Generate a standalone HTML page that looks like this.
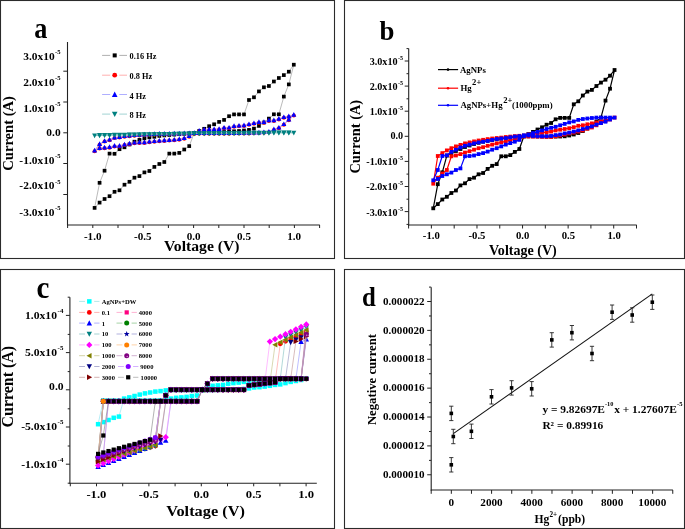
<!DOCTYPE html>
<html><head><meta charset="utf-8"><style>
html,body{margin:0;padding:0;background:#fff;width:685px;height:529px;overflow:hidden}
svg{display:block;filter:blur(0.35px)}
text{font-family:"Liberation Serif",serif;font-weight:bold}
</style></head><body>
<svg width="685" height="529" viewBox="0 0 685 529">
<rect width="685" height="529" fill="#fff"/>
<rect x="0.5" y="0.5" width="334" height="258" fill="none" stroke="#2b2b2b" stroke-width="1.1"/>
<line x1="67.5" y1="42" x2="67.5" y2="225.5" stroke="#222" stroke-width="1.1"/>
<line x1="67" y1="225" x2="319.8" y2="225" stroke="#222" stroke-width="1.1"/>
<line x1="63.3" y1="71.2" x2="67.5" y2="71.2" stroke="#222" stroke-width="1"/>
<line x1="63.3" y1="102" x2="67.5" y2="102" stroke="#222" stroke-width="1"/>
<line x1="63.3" y1="132.8" x2="67.5" y2="132.8" stroke="#222" stroke-width="1"/>
<line x1="63.3" y1="163.5" x2="67.5" y2="163.5" stroke="#222" stroke-width="1"/>
<line x1="63.3" y1="194.5" x2="67.5" y2="194.5" stroke="#222" stroke-width="1"/>
<line x1="67.6" y1="225" x2="67.6" y2="228" stroke="#222" stroke-width="1"/>
<line x1="92.8" y1="225" x2="92.8" y2="228" stroke="#222" stroke-width="1"/>
<line x1="118" y1="225" x2="118" y2="228" stroke="#222" stroke-width="1"/>
<line x1="143.2" y1="225" x2="143.2" y2="228" stroke="#222" stroke-width="1"/>
<line x1="168.4" y1="225" x2="168.4" y2="228" stroke="#222" stroke-width="1"/>
<line x1="193.6" y1="225" x2="193.6" y2="228" stroke="#222" stroke-width="1"/>
<line x1="218.8" y1="225" x2="218.8" y2="228" stroke="#222" stroke-width="1"/>
<line x1="244" y1="225" x2="244" y2="228" stroke="#222" stroke-width="1"/>
<line x1="269.2" y1="225" x2="269.2" y2="228" stroke="#222" stroke-width="1"/>
<line x1="294.4" y1="225" x2="294.4" y2="228" stroke="#222" stroke-width="1"/>
<line x1="319.6" y1="225" x2="319.6" y2="228" stroke="#222" stroke-width="1"/>
<text x="23.18" y="59.9" font-size="10.2" textLength="31.42" lengthAdjust="spacingAndGlyphs">3.0x10</text>
<text x="55" y="54.3" font-size="6.3" textLength="5.51" lengthAdjust="spacingAndGlyphs">-5</text>
<text x="23.18" y="85.7" font-size="10.2" textLength="31.42" lengthAdjust="spacingAndGlyphs">2.0x10</text>
<text x="55" y="80.1" font-size="6.3" textLength="5.51" lengthAdjust="spacingAndGlyphs">-5</text>
<text x="23.18" y="111.6" font-size="10.2" textLength="31.42" lengthAdjust="spacingAndGlyphs">1.0x10</text>
<text x="55" y="106" font-size="6.3" textLength="5.51" lengthAdjust="spacingAndGlyphs">-5</text>
<text x="19.38" y="163.6" font-size="10.2" textLength="35.22" lengthAdjust="spacingAndGlyphs">-1.0x10</text>
<text x="55" y="158" font-size="6.3" textLength="5.51" lengthAdjust="spacingAndGlyphs">-5</text>
<text x="19.38" y="189.3" font-size="10.2" textLength="35.22" lengthAdjust="spacingAndGlyphs">-2.0x10</text>
<text x="55" y="183.7" font-size="6.3" textLength="5.51" lengthAdjust="spacingAndGlyphs">-5</text>
<text x="19.38" y="215.6" font-size="10.2" textLength="35.22" lengthAdjust="spacingAndGlyphs">-3.0x10</text>
<text x="55" y="210" font-size="6.3" textLength="5.51" lengthAdjust="spacingAndGlyphs">-5</text>
<text x="46.32" y="135.5" font-size="10.2" textLength="14.28" lengthAdjust="spacingAndGlyphs">0.0</text>
<text x="83.9" y="239.7" font-size="9.5" textLength="17.59" lengthAdjust="spacingAndGlyphs">-1.0</text>
<text x="134" y="239.7" font-size="9.5" textLength="17.59" lengthAdjust="spacingAndGlyphs">-0.5</text>
<text x="186.65" y="239.7" font-size="9.5" textLength="13.89" lengthAdjust="spacingAndGlyphs">0.0</text>
<text x="237.05" y="239.7" font-size="9.5" textLength="13.89" lengthAdjust="spacingAndGlyphs">0.5</text>
<text x="287.25" y="239.7" font-size="9.5" textLength="13.89" lengthAdjust="spacingAndGlyphs">1.0</text>
<text x="164" y="250.5" font-size="13.8" textLength="75.5" lengthAdjust="spacingAndGlyphs">Voltage (V)</text>
<text transform="translate(12.8,133.4) rotate(-90)" x="-37.37" y="0" font-size="14.6" textLength="74.74" lengthAdjust="spacingAndGlyphs">Current (A)</text>
<text x="34.3" y="38.2" font-size="28.5" textLength="13.11" lengthAdjust="spacingAndGlyphs">a</text>
<line x1="102.1" y1="55.4" x2="110.2" y2="55.4" stroke="#9a9a9a" stroke-width="0.8"/>
<line x1="119.3" y1="55.4" x2="127" y2="55.4" stroke="#9a9a9a" stroke-width="0.8"/>
<rect x="112.7" y="53.4" width="4" height="4" fill="#000"/>
<text x="129.6" y="59.4" font-size="8.3" textLength="26.74" lengthAdjust="spacingAndGlyphs">0.16 Hz</text>
<line x1="102.1" y1="75.2" x2="110.2" y2="75.2" stroke="#ff9a9a" stroke-width="0.8"/>
<line x1="119.3" y1="75.2" x2="127" y2="75.2" stroke="#ff9a9a" stroke-width="0.8"/>
<circle cx="114.7" cy="75.2" r="2.4" fill="#ff0000"/>
<text x="129.6" y="79.2" font-size="8.3" textLength="22.59" lengthAdjust="spacingAndGlyphs">0.8 Hz</text>
<line x1="102.1" y1="94.5" x2="110.2" y2="94.5" stroke="#9a9aff" stroke-width="0.8"/>
<line x1="119.3" y1="94.5" x2="127" y2="94.5" stroke="#9a9aff" stroke-width="0.8"/>
<polygon points="114.7,91.56 111.9,96.88 117.5,96.88" fill="#0000ff"/>
<text x="129.6" y="98.5" font-size="8.3" textLength="16.37" lengthAdjust="spacingAndGlyphs">4 Hz</text>
<line x1="102.1" y1="114.1" x2="110.2" y2="114.1" stroke="#8ac8c8" stroke-width="0.8"/>
<line x1="119.3" y1="114.1" x2="127" y2="114.1" stroke="#8ac8c8" stroke-width="0.8"/>
<polygon points="114.7,117.04 111.9,111.72 117.5,111.72" fill="#008080"/>
<text x="129.6" y="118.1" font-size="8.3" textLength="16.37" lengthAdjust="spacingAndGlyphs">8 Hz</text>
<polyline points="194.2,133 199.18,131 204.16,128.8 209.14,126.2 214.12,124.3 219.1,121.9 224.08,119.9 229.06,116.2 234.04,114.4 239.02,114.4 244,114.4 248.98,100 253.96,97.3 258.94,91.4 263.92,87.3 268.9,86 273.88,81.5 278.86,78 283.84,75.1 288.82,71.7 293.8,64.7 288.82,84.4 283.84,96.6 278.86,114.3 273.88,114.3 268.9,118.6 263.92,122.5 258.94,125.9 253.96,128.6 248.98,129.9 244,130.5 239.02,131 234.04,131.3 229.06,131.6 224.08,132 219.1,132.2 214.12,132.4 209.14,132.6 204.16,132.8 199.18,133 194.2,133 189.22,146.1 184.24,149.5 179.26,152.9 174.28,153.6 169.3,153.6 164.32,162 159.34,164 154.36,166.9 149.38,171 144.4,172.4 139.42,176.1 134.44,177.7 129.46,181.8 124.48,184.7 119.5,190.3 114.52,191.8 109.54,196.2 104.56,199 99.58,202.6 94.6,207.9 99.58,182.8 104.56,170.7 109.54,153.6 114.52,153.8 119.5,149.2 124.48,147.3 129.46,144.5 134.44,141.7 139.42,139.9 144.4,138.4 149.38,137.4 154.36,136.8 159.34,135.9 164.32,135.4 169.3,135 174.28,134.6 179.26,134.2 184.24,133.8 189.22,133.4 194.2,133" fill="none" stroke="#8c8c8c" stroke-width="0.6" stroke-linejoin="round"/>
<rect x="192.35" y="131.15" width="3.7" height="3.7" fill="#000"/>
<rect x="197.33" y="129.15" width="3.7" height="3.7" fill="#000"/>
<rect x="202.31" y="126.95" width="3.7" height="3.7" fill="#000"/>
<rect x="207.29" y="124.35" width="3.7" height="3.7" fill="#000"/>
<rect x="212.27" y="122.45" width="3.7" height="3.7" fill="#000"/>
<rect x="217.25" y="120.05" width="3.7" height="3.7" fill="#000"/>
<rect x="222.23" y="118.05" width="3.7" height="3.7" fill="#000"/>
<rect x="227.21" y="114.35" width="3.7" height="3.7" fill="#000"/>
<rect x="232.19" y="112.55" width="3.7" height="3.7" fill="#000"/>
<rect x="237.17" y="112.55" width="3.7" height="3.7" fill="#000"/>
<rect x="242.15" y="112.55" width="3.7" height="3.7" fill="#000"/>
<rect x="247.13" y="98.15" width="3.7" height="3.7" fill="#000"/>
<rect x="252.11" y="95.45" width="3.7" height="3.7" fill="#000"/>
<rect x="257.09" y="89.55" width="3.7" height="3.7" fill="#000"/>
<rect x="262.07" y="85.45" width="3.7" height="3.7" fill="#000"/>
<rect x="267.05" y="84.15" width="3.7" height="3.7" fill="#000"/>
<rect x="272.03" y="79.65" width="3.7" height="3.7" fill="#000"/>
<rect x="277.01" y="76.15" width="3.7" height="3.7" fill="#000"/>
<rect x="281.99" y="73.25" width="3.7" height="3.7" fill="#000"/>
<rect x="286.97" y="69.85" width="3.7" height="3.7" fill="#000"/>
<rect x="291.95" y="62.85" width="3.7" height="3.7" fill="#000"/>
<rect x="286.97" y="82.55" width="3.7" height="3.7" fill="#000"/>
<rect x="281.99" y="94.75" width="3.7" height="3.7" fill="#000"/>
<rect x="277.01" y="112.45" width="3.7" height="3.7" fill="#000"/>
<rect x="272.03" y="112.45" width="3.7" height="3.7" fill="#000"/>
<rect x="267.05" y="116.75" width="3.7" height="3.7" fill="#000"/>
<rect x="262.07" y="120.65" width="3.7" height="3.7" fill="#000"/>
<rect x="257.09" y="124.05" width="3.7" height="3.7" fill="#000"/>
<rect x="252.11" y="126.75" width="3.7" height="3.7" fill="#000"/>
<rect x="247.13" y="128.05" width="3.7" height="3.7" fill="#000"/>
<rect x="242.15" y="128.65" width="3.7" height="3.7" fill="#000"/>
<rect x="237.17" y="129.15" width="3.7" height="3.7" fill="#000"/>
<rect x="232.19" y="129.45" width="3.7" height="3.7" fill="#000"/>
<rect x="227.21" y="129.75" width="3.7" height="3.7" fill="#000"/>
<rect x="222.23" y="130.15" width="3.7" height="3.7" fill="#000"/>
<rect x="217.25" y="130.35" width="3.7" height="3.7" fill="#000"/>
<rect x="212.27" y="130.55" width="3.7" height="3.7" fill="#000"/>
<rect x="207.29" y="130.75" width="3.7" height="3.7" fill="#000"/>
<rect x="202.31" y="130.95" width="3.7" height="3.7" fill="#000"/>
<rect x="197.33" y="131.15" width="3.7" height="3.7" fill="#000"/>
<rect x="192.35" y="131.15" width="3.7" height="3.7" fill="#000"/>
<rect x="187.37" y="144.25" width="3.7" height="3.7" fill="#000"/>
<rect x="182.39" y="147.65" width="3.7" height="3.7" fill="#000"/>
<rect x="177.41" y="151.05" width="3.7" height="3.7" fill="#000"/>
<rect x="172.43" y="151.75" width="3.7" height="3.7" fill="#000"/>
<rect x="167.45" y="151.75" width="3.7" height="3.7" fill="#000"/>
<rect x="162.47" y="160.15" width="3.7" height="3.7" fill="#000"/>
<rect x="157.49" y="162.15" width="3.7" height="3.7" fill="#000"/>
<rect x="152.51" y="165.05" width="3.7" height="3.7" fill="#000"/>
<rect x="147.53" y="169.15" width="3.7" height="3.7" fill="#000"/>
<rect x="142.55" y="170.55" width="3.7" height="3.7" fill="#000"/>
<rect x="137.57" y="174.25" width="3.7" height="3.7" fill="#000"/>
<rect x="132.59" y="175.85" width="3.7" height="3.7" fill="#000"/>
<rect x="127.61" y="179.95" width="3.7" height="3.7" fill="#000"/>
<rect x="122.63" y="182.85" width="3.7" height="3.7" fill="#000"/>
<rect x="117.65" y="188.45" width="3.7" height="3.7" fill="#000"/>
<rect x="112.67" y="189.95" width="3.7" height="3.7" fill="#000"/>
<rect x="107.69" y="194.35" width="3.7" height="3.7" fill="#000"/>
<rect x="102.71" y="197.15" width="3.7" height="3.7" fill="#000"/>
<rect x="97.73" y="200.75" width="3.7" height="3.7" fill="#000"/>
<rect x="92.75" y="206.05" width="3.7" height="3.7" fill="#000"/>
<rect x="97.73" y="180.95" width="3.7" height="3.7" fill="#000"/>
<rect x="102.71" y="168.85" width="3.7" height="3.7" fill="#000"/>
<rect x="107.69" y="151.75" width="3.7" height="3.7" fill="#000"/>
<rect x="112.67" y="151.95" width="3.7" height="3.7" fill="#000"/>
<rect x="117.65" y="147.35" width="3.7" height="3.7" fill="#000"/>
<rect x="122.63" y="145.45" width="3.7" height="3.7" fill="#000"/>
<rect x="127.61" y="142.65" width="3.7" height="3.7" fill="#000"/>
<rect x="132.59" y="139.85" width="3.7" height="3.7" fill="#000"/>
<rect x="137.57" y="138.05" width="3.7" height="3.7" fill="#000"/>
<rect x="142.55" y="136.55" width="3.7" height="3.7" fill="#000"/>
<rect x="147.53" y="135.55" width="3.7" height="3.7" fill="#000"/>
<rect x="152.51" y="134.95" width="3.7" height="3.7" fill="#000"/>
<rect x="157.49" y="134.05" width="3.7" height="3.7" fill="#000"/>
<rect x="162.47" y="133.55" width="3.7" height="3.7" fill="#000"/>
<rect x="167.45" y="133.15" width="3.7" height="3.7" fill="#000"/>
<rect x="172.43" y="132.75" width="3.7" height="3.7" fill="#000"/>
<rect x="177.41" y="132.35" width="3.7" height="3.7" fill="#000"/>
<rect x="182.39" y="131.95" width="3.7" height="3.7" fill="#000"/>
<rect x="187.37" y="131.55" width="3.7" height="3.7" fill="#000"/>
<rect x="192.35" y="131.15" width="3.7" height="3.7" fill="#000"/>
<polyline points="194.2,133.8 199.18,131.5 204.16,130.2 209.14,129.9 214.12,129.9 219.1,129.6 224.08,128.3 229.06,128.3 234.04,126.7 239.02,126.3 244,125.9 248.98,124.8 253.96,123.8 258.94,122.7 263.92,122.7 268.9,121 273.88,121 278.86,119.4 283.84,117.8 288.82,117 293.8,115.4 288.82,120.2 283.84,124.8 278.86,128.3 273.88,129.9 268.9,132.3 263.92,132.8 258.94,133.1 253.96,133.3 248.98,133.4 244,133.5 239.02,133.6 234.04,133.6 229.06,133.7 224.08,133.7 219.1,133.8 214.12,133.8 209.14,133.8 204.16,133.8 199.18,133.8 194.2,133.8 189.22,136.8 184.24,138.8 179.26,139.8 174.28,140.3 169.3,140.6 164.32,141 159.34,141.3 154.36,141.8 149.38,142.3 144.4,142.9 139.42,142.9 134.44,143.3 129.46,144.2 124.48,145.1 119.5,146.4 114.52,146.4 109.54,147.7 104.56,148.2 99.58,148.6 94.6,151.2 99.58,144.7 104.56,141.6 109.54,140.3 114.52,138.1 119.5,137.6 124.48,136.8 129.46,136.3 134.44,135.8 139.42,135.5 144.4,135.2 149.38,134.9 154.36,134.7 159.34,134.5 164.32,134.4 169.3,134.3 174.28,134.2 179.26,134.1 184.24,134 189.22,133.9 194.2,133.8" fill="none" stroke="#ff8080" stroke-width="0.6" stroke-linejoin="round"/>
<circle cx="194.2" cy="133.8" r="2" fill="#ff0000"/>
<circle cx="199.18" cy="131.5" r="2" fill="#ff0000"/>
<circle cx="204.16" cy="130.2" r="2" fill="#ff0000"/>
<circle cx="209.14" cy="129.9" r="2" fill="#ff0000"/>
<circle cx="214.12" cy="129.9" r="2" fill="#ff0000"/>
<circle cx="219.1" cy="129.6" r="2" fill="#ff0000"/>
<circle cx="224.08" cy="128.3" r="2" fill="#ff0000"/>
<circle cx="229.06" cy="128.3" r="2" fill="#ff0000"/>
<circle cx="234.04" cy="126.7" r="2" fill="#ff0000"/>
<circle cx="239.02" cy="126.3" r="2" fill="#ff0000"/>
<circle cx="244" cy="125.9" r="2" fill="#ff0000"/>
<circle cx="248.98" cy="124.8" r="2" fill="#ff0000"/>
<circle cx="253.96" cy="123.8" r="2" fill="#ff0000"/>
<circle cx="258.94" cy="122.7" r="2" fill="#ff0000"/>
<circle cx="263.92" cy="122.7" r="2" fill="#ff0000"/>
<circle cx="268.9" cy="121" r="2" fill="#ff0000"/>
<circle cx="273.88" cy="121" r="2" fill="#ff0000"/>
<circle cx="278.86" cy="119.4" r="2" fill="#ff0000"/>
<circle cx="283.84" cy="117.8" r="2" fill="#ff0000"/>
<circle cx="288.82" cy="117" r="2" fill="#ff0000"/>
<circle cx="293.8" cy="115.4" r="2" fill="#ff0000"/>
<circle cx="288.82" cy="120.2" r="2" fill="#ff0000"/>
<circle cx="283.84" cy="124.8" r="2" fill="#ff0000"/>
<circle cx="278.86" cy="128.3" r="2" fill="#ff0000"/>
<circle cx="273.88" cy="129.9" r="2" fill="#ff0000"/>
<circle cx="268.9" cy="132.3" r="2" fill="#ff0000"/>
<circle cx="263.92" cy="132.8" r="2" fill="#ff0000"/>
<circle cx="258.94" cy="133.1" r="2" fill="#ff0000"/>
<circle cx="253.96" cy="133.3" r="2" fill="#ff0000"/>
<circle cx="248.98" cy="133.4" r="2" fill="#ff0000"/>
<circle cx="244" cy="133.5" r="2" fill="#ff0000"/>
<circle cx="239.02" cy="133.6" r="2" fill="#ff0000"/>
<circle cx="234.04" cy="133.6" r="2" fill="#ff0000"/>
<circle cx="229.06" cy="133.7" r="2" fill="#ff0000"/>
<circle cx="224.08" cy="133.7" r="2" fill="#ff0000"/>
<circle cx="219.1" cy="133.8" r="2" fill="#ff0000"/>
<circle cx="214.12" cy="133.8" r="2" fill="#ff0000"/>
<circle cx="209.14" cy="133.8" r="2" fill="#ff0000"/>
<circle cx="204.16" cy="133.8" r="2" fill="#ff0000"/>
<circle cx="199.18" cy="133.8" r="2" fill="#ff0000"/>
<circle cx="194.2" cy="133.8" r="2" fill="#ff0000"/>
<circle cx="189.22" cy="136.8" r="2" fill="#ff0000"/>
<circle cx="184.24" cy="138.8" r="2" fill="#ff0000"/>
<circle cx="179.26" cy="139.8" r="2" fill="#ff0000"/>
<circle cx="174.28" cy="140.3" r="2" fill="#ff0000"/>
<circle cx="169.3" cy="140.6" r="2" fill="#ff0000"/>
<circle cx="164.32" cy="141" r="2" fill="#ff0000"/>
<circle cx="159.34" cy="141.3" r="2" fill="#ff0000"/>
<circle cx="154.36" cy="141.8" r="2" fill="#ff0000"/>
<circle cx="149.38" cy="142.3" r="2" fill="#ff0000"/>
<circle cx="144.4" cy="142.9" r="2" fill="#ff0000"/>
<circle cx="139.42" cy="142.9" r="2" fill="#ff0000"/>
<circle cx="134.44" cy="143.3" r="2" fill="#ff0000"/>
<circle cx="129.46" cy="144.2" r="2" fill="#ff0000"/>
<circle cx="124.48" cy="145.1" r="2" fill="#ff0000"/>
<circle cx="119.5" cy="146.4" r="2" fill="#ff0000"/>
<circle cx="114.52" cy="146.4" r="2" fill="#ff0000"/>
<circle cx="109.54" cy="147.7" r="2" fill="#ff0000"/>
<circle cx="104.56" cy="148.2" r="2" fill="#ff0000"/>
<circle cx="99.58" cy="148.6" r="2" fill="#ff0000"/>
<circle cx="94.6" cy="151.2" r="2" fill="#ff0000"/>
<circle cx="99.58" cy="144.7" r="2" fill="#ff0000"/>
<circle cx="104.56" cy="141.6" r="2" fill="#ff0000"/>
<circle cx="109.54" cy="140.3" r="2" fill="#ff0000"/>
<circle cx="114.52" cy="138.1" r="2" fill="#ff0000"/>
<circle cx="119.5" cy="137.6" r="2" fill="#ff0000"/>
<circle cx="124.48" cy="136.8" r="2" fill="#ff0000"/>
<circle cx="129.46" cy="136.3" r="2" fill="#ff0000"/>
<circle cx="134.44" cy="135.8" r="2" fill="#ff0000"/>
<circle cx="139.42" cy="135.5" r="2" fill="#ff0000"/>
<circle cx="144.4" cy="135.2" r="2" fill="#ff0000"/>
<circle cx="149.38" cy="134.9" r="2" fill="#ff0000"/>
<circle cx="154.36" cy="134.7" r="2" fill="#ff0000"/>
<circle cx="159.34" cy="134.5" r="2" fill="#ff0000"/>
<circle cx="164.32" cy="134.4" r="2" fill="#ff0000"/>
<circle cx="169.3" cy="134.3" r="2" fill="#ff0000"/>
<circle cx="174.28" cy="134.2" r="2" fill="#ff0000"/>
<circle cx="179.26" cy="134.1" r="2" fill="#ff0000"/>
<circle cx="184.24" cy="134" r="2" fill="#ff0000"/>
<circle cx="189.22" cy="133.9" r="2" fill="#ff0000"/>
<circle cx="194.2" cy="133.8" r="2" fill="#ff0000"/>
<polyline points="194.2,133 199.18,130.7 204.16,129.4 209.14,129.1 214.12,129.1 219.1,128.8 224.08,127.5 229.06,127.5 234.04,125.9 239.02,125.5 244,125.1 248.98,124 253.96,123 258.94,121.9 263.92,121.9 268.9,120.2 273.88,120.2 278.86,118.6 283.84,117 288.82,116.2 293.8,114.6 288.82,119.4 283.84,124 278.86,127.5 273.88,129.1 268.9,131.5 263.92,132 258.94,132.3 253.96,132.5 248.98,132.6 244,132.7 239.02,132.8 234.04,132.8 229.06,132.9 224.08,132.9 219.1,133 214.12,133 209.14,133 204.16,133 199.18,133 194.2,133 189.22,136 184.24,138 179.26,139 174.28,139.5 169.3,139.8 164.32,140.2 159.34,140.5 154.36,141 149.38,141.5 144.4,142.1 139.42,142.1 134.44,142.5 129.46,143.4 124.48,144.3 119.5,145.6 114.52,145.6 109.54,146.9 104.56,147.4 99.58,147.8 94.6,150.4 99.58,143.9 104.56,140.8 109.54,139.5 114.52,137.3 119.5,136.8 124.48,136 129.46,135.5 134.44,135 139.42,134.7 144.4,134.4 149.38,134.1 154.36,133.9 159.34,133.7 164.32,133.6 169.3,133.5 174.28,133.4 179.26,133.3 184.24,133.2 189.22,133.1 194.2,133" fill="none" stroke="#8080ff" stroke-width="0.6" stroke-linejoin="round"/>
<polygon points="194.2,130.38 191.7,135.12 196.7,135.12" fill="#0000ff"/>
<polygon points="199.18,128.07 196.68,132.82 201.68,132.82" fill="#0000ff"/>
<polygon points="204.16,126.78 201.66,131.53 206.66,131.53" fill="#0000ff"/>
<polygon points="209.14,126.47 206.64,131.22 211.64,131.22" fill="#0000ff"/>
<polygon points="214.12,126.47 211.62,131.22 216.62,131.22" fill="#0000ff"/>
<polygon points="219.1,126.18 216.6,130.93 221.6,130.93" fill="#0000ff"/>
<polygon points="224.08,124.88 221.58,129.62 226.58,129.62" fill="#0000ff"/>
<polygon points="229.06,124.88 226.56,129.62 231.56,129.62" fill="#0000ff"/>
<polygon points="234.04,123.28 231.54,128.03 236.54,128.03" fill="#0000ff"/>
<polygon points="239.02,122.88 236.52,127.62 241.52,127.62" fill="#0000ff"/>
<polygon points="244,122.47 241.5,127.22 246.5,127.22" fill="#0000ff"/>
<polygon points="248.98,121.38 246.48,126.12 251.48,126.12" fill="#0000ff"/>
<polygon points="253.96,120.38 251.46,125.12 256.46,125.12" fill="#0000ff"/>
<polygon points="258.94,119.28 256.44,124.03 261.44,124.03" fill="#0000ff"/>
<polygon points="263.92,119.28 261.42,124.03 266.42,124.03" fill="#0000ff"/>
<polygon points="268.9,117.58 266.4,122.33 271.4,122.33" fill="#0000ff"/>
<polygon points="273.88,117.58 271.38,122.33 276.38,122.33" fill="#0000ff"/>
<polygon points="278.86,115.97 276.36,120.72 281.36,120.72" fill="#0000ff"/>
<polygon points="283.84,114.38 281.34,119.12 286.34,119.12" fill="#0000ff"/>
<polygon points="288.82,113.58 286.32,118.33 291.32,118.33" fill="#0000ff"/>
<polygon points="293.8,111.97 291.3,116.72 296.3,116.72" fill="#0000ff"/>
<polygon points="288.82,116.78 286.32,121.53 291.32,121.53" fill="#0000ff"/>
<polygon points="283.84,121.38 281.34,126.12 286.34,126.12" fill="#0000ff"/>
<polygon points="278.86,124.88 276.36,129.62 281.36,129.62" fill="#0000ff"/>
<polygon points="273.88,126.47 271.38,131.22 276.38,131.22" fill="#0000ff"/>
<polygon points="268.9,128.88 266.4,133.62 271.4,133.62" fill="#0000ff"/>
<polygon points="263.92,129.38 261.42,134.12 266.42,134.12" fill="#0000ff"/>
<polygon points="258.94,129.68 256.44,134.43 261.44,134.43" fill="#0000ff"/>
<polygon points="253.96,129.88 251.46,134.62 256.46,134.62" fill="#0000ff"/>
<polygon points="248.98,129.97 246.48,134.72 251.48,134.72" fill="#0000ff"/>
<polygon points="244,130.07 241.5,134.82 246.5,134.82" fill="#0000ff"/>
<polygon points="239.02,130.18 236.52,134.93 241.52,134.93" fill="#0000ff"/>
<polygon points="234.04,130.18 231.54,134.93 236.54,134.93" fill="#0000ff"/>
<polygon points="229.06,130.28 226.56,135.03 231.56,135.03" fill="#0000ff"/>
<polygon points="224.08,130.28 221.58,135.03 226.58,135.03" fill="#0000ff"/>
<polygon points="219.1,130.38 216.6,135.12 221.6,135.12" fill="#0000ff"/>
<polygon points="214.12,130.38 211.62,135.12 216.62,135.12" fill="#0000ff"/>
<polygon points="209.14,130.38 206.64,135.12 211.64,135.12" fill="#0000ff"/>
<polygon points="204.16,130.38 201.66,135.12 206.66,135.12" fill="#0000ff"/>
<polygon points="199.18,130.38 196.68,135.12 201.68,135.12" fill="#0000ff"/>
<polygon points="194.2,130.38 191.7,135.12 196.7,135.12" fill="#0000ff"/>
<polygon points="189.22,133.38 186.72,138.12 191.72,138.12" fill="#0000ff"/>
<polygon points="184.24,135.38 181.74,140.12 186.74,140.12" fill="#0000ff"/>
<polygon points="179.26,136.38 176.76,141.12 181.76,141.12" fill="#0000ff"/>
<polygon points="174.28,136.88 171.78,141.62 176.78,141.62" fill="#0000ff"/>
<polygon points="169.3,137.18 166.8,141.93 171.8,141.93" fill="#0000ff"/>
<polygon points="164.32,137.57 161.82,142.32 166.82,142.32" fill="#0000ff"/>
<polygon points="159.34,137.88 156.84,142.62 161.84,142.62" fill="#0000ff"/>
<polygon points="154.36,138.38 151.86,143.12 156.86,143.12" fill="#0000ff"/>
<polygon points="149.38,138.88 146.88,143.62 151.88,143.62" fill="#0000ff"/>
<polygon points="144.4,139.47 141.9,144.22 146.9,144.22" fill="#0000ff"/>
<polygon points="139.42,139.47 136.92,144.22 141.92,144.22" fill="#0000ff"/>
<polygon points="134.44,139.88 131.94,144.62 136.94,144.62" fill="#0000ff"/>
<polygon points="129.46,140.78 126.96,145.53 131.96,145.53" fill="#0000ff"/>
<polygon points="124.48,141.68 121.98,146.43 126.98,146.43" fill="#0000ff"/>
<polygon points="119.5,142.97 117,147.72 122,147.72" fill="#0000ff"/>
<polygon points="114.52,142.97 112.02,147.72 117.02,147.72" fill="#0000ff"/>
<polygon points="109.54,144.28 107.04,149.03 112.04,149.03" fill="#0000ff"/>
<polygon points="104.56,144.78 102.06,149.53 107.06,149.53" fill="#0000ff"/>
<polygon points="99.58,145.18 97.08,149.93 102.08,149.93" fill="#0000ff"/>
<polygon points="94.6,147.78 92.1,152.53 97.1,152.53" fill="#0000ff"/>
<polygon points="99.58,141.28 97.08,146.03 102.08,146.03" fill="#0000ff"/>
<polygon points="104.56,138.18 102.06,142.93 107.06,142.93" fill="#0000ff"/>
<polygon points="109.54,136.88 107.04,141.62 112.04,141.62" fill="#0000ff"/>
<polygon points="114.52,134.68 112.02,139.43 117.02,139.43" fill="#0000ff"/>
<polygon points="119.5,134.18 117,138.93 122,138.93" fill="#0000ff"/>
<polygon points="124.48,133.38 121.98,138.12 126.98,138.12" fill="#0000ff"/>
<polygon points="129.46,132.88 126.96,137.62 131.96,137.62" fill="#0000ff"/>
<polygon points="134.44,132.38 131.94,137.12 136.94,137.12" fill="#0000ff"/>
<polygon points="139.42,132.07 136.92,136.82 141.92,136.82" fill="#0000ff"/>
<polygon points="144.4,131.78 141.9,136.53 146.9,136.53" fill="#0000ff"/>
<polygon points="149.38,131.47 146.88,136.22 151.88,136.22" fill="#0000ff"/>
<polygon points="154.36,131.28 151.86,136.03 156.86,136.03" fill="#0000ff"/>
<polygon points="159.34,131.07 156.84,135.82 161.84,135.82" fill="#0000ff"/>
<polygon points="164.32,130.97 161.82,135.72 166.82,135.72" fill="#0000ff"/>
<polygon points="169.3,130.88 166.8,135.62 171.8,135.62" fill="#0000ff"/>
<polygon points="174.28,130.78 171.78,135.53 176.78,135.53" fill="#0000ff"/>
<polygon points="179.26,130.68 176.76,135.43 181.76,135.43" fill="#0000ff"/>
<polygon points="184.24,130.57 181.74,135.32 186.74,135.32" fill="#0000ff"/>
<polygon points="189.22,130.47 186.72,135.22 191.72,135.22" fill="#0000ff"/>
<polygon points="194.2,130.38 191.7,135.12 196.7,135.12" fill="#0000ff"/>
<polyline points="194.2,133.6 199.18,133.56 204.16,133.52 209.14,133.48 214.12,133.44 219.1,133.4 224.08,133.36 229.06,133.32 234.04,133.28 239.02,133.24 244,133.2 248.98,133.16 253.96,133.12 258.94,133.08 263.92,133.04 268.9,133 273.88,132.96 278.86,132.92 283.84,132.88 288.82,132.84 293.8,132.8 288.82,132.6 283.84,132.65 278.86,132.69 273.88,132.74 268.9,132.79 263.92,132.84 258.94,132.88 253.96,132.93 248.98,132.98 244,133.03 239.02,133.07 234.04,133.12 229.06,133.17 224.08,133.22 219.1,133.26 214.12,133.31 209.14,133.36 204.16,133.41 199.18,133.45 194.2,133.5 189.22,133.8 184.24,133.89 179.26,133.99 174.28,134.08 169.3,134.18 164.32,134.27 159.34,134.37 154.36,134.46 149.38,134.56 144.4,134.65 139.42,134.75 134.44,134.84 129.46,134.94 124.48,135.03 119.5,135.13 114.52,135.22 109.54,135.32 104.56,135.41 99.58,135.51 94.6,135.6 99.58,135.2 104.56,135.12 109.54,135.03 114.52,134.95 119.5,134.86 124.48,134.78 129.46,134.69 134.44,134.61 139.42,134.53 144.4,134.44 149.38,134.36 154.36,134.27 159.34,134.19 164.32,134.11 169.3,134.02 174.28,133.94 179.26,133.85 184.24,133.77 189.22,133.68 194.2,133.6" fill="none" stroke="#66b3b3" stroke-width="0.6" stroke-linejoin="round"/>
<polygon points="194.2,136.22 191.7,131.47 196.7,131.47" fill="#008080"/>
<polygon points="199.18,136.19 196.68,131.44 201.68,131.44" fill="#008080"/>
<polygon points="204.16,136.14 201.66,131.39 206.66,131.39" fill="#008080"/>
<polygon points="209.14,136.1 206.64,131.35 211.64,131.35" fill="#008080"/>
<polygon points="214.12,136.06 211.62,131.31 216.62,131.31" fill="#008080"/>
<polygon points="219.1,136.03 216.6,131.28 221.6,131.28" fill="#008080"/>
<polygon points="224.08,135.99 221.58,131.24 226.58,131.24" fill="#008080"/>
<polygon points="229.06,135.94 226.56,131.19 231.56,131.19" fill="#008080"/>
<polygon points="234.04,135.91 231.54,131.16 236.54,131.16" fill="#008080"/>
<polygon points="239.02,135.87 236.52,131.12 241.52,131.12" fill="#008080"/>
<polygon points="244,135.82 241.5,131.07 246.5,131.07" fill="#008080"/>
<polygon points="248.98,135.78 246.48,131.03 251.48,131.03" fill="#008080"/>
<polygon points="253.96,135.75 251.46,131 256.46,131" fill="#008080"/>
<polygon points="258.94,135.71 256.44,130.96 261.44,130.96" fill="#008080"/>
<polygon points="263.92,135.67 261.42,130.92 266.42,130.92" fill="#008080"/>
<polygon points="268.9,135.62 266.4,130.88 271.4,130.88" fill="#008080"/>
<polygon points="273.88,135.59 271.38,130.84 276.38,130.84" fill="#008080"/>
<polygon points="278.86,135.55 276.36,130.8 281.36,130.8" fill="#008080"/>
<polygon points="283.84,135.5 281.34,130.75 286.34,130.75" fill="#008080"/>
<polygon points="288.82,135.47 286.32,130.72 291.32,130.72" fill="#008080"/>
<polygon points="293.8,135.43 291.3,130.68 296.3,130.68" fill="#008080"/>
<polygon points="288.82,135.22 286.32,130.47 291.32,130.47" fill="#008080"/>
<polygon points="283.84,135.27 281.34,130.52 286.34,130.52" fill="#008080"/>
<polygon points="278.86,135.32 276.36,130.57 281.36,130.57" fill="#008080"/>
<polygon points="273.88,135.37 271.38,130.62 276.38,130.62" fill="#008080"/>
<polygon points="268.9,135.41 266.4,130.66 271.4,130.66" fill="#008080"/>
<polygon points="263.92,135.46 261.42,130.71 266.42,130.71" fill="#008080"/>
<polygon points="258.94,135.51 256.44,130.76 261.44,130.76" fill="#008080"/>
<polygon points="253.96,135.56 251.46,130.81 256.46,130.81" fill="#008080"/>
<polygon points="248.98,135.6 246.48,130.85 251.48,130.85" fill="#008080"/>
<polygon points="244,135.65 241.5,130.9 246.5,130.9" fill="#008080"/>
<polygon points="239.02,135.7 236.52,130.95 241.52,130.95" fill="#008080"/>
<polygon points="234.04,135.75 231.54,131 236.54,131" fill="#008080"/>
<polygon points="229.06,135.79 226.56,131.04 231.56,131.04" fill="#008080"/>
<polygon points="224.08,135.84 221.58,131.09 226.58,131.09" fill="#008080"/>
<polygon points="219.1,135.89 216.6,131.14 221.6,131.14" fill="#008080"/>
<polygon points="214.12,135.94 211.62,131.19 216.62,131.19" fill="#008080"/>
<polygon points="209.14,135.98 206.64,131.23 211.64,131.23" fill="#008080"/>
<polygon points="204.16,136.03 201.66,131.28 206.66,131.28" fill="#008080"/>
<polygon points="199.18,136.08 196.68,131.33 201.68,131.33" fill="#008080"/>
<polygon points="194.2,136.12 191.7,131.38 196.7,131.38" fill="#008080"/>
<polygon points="189.22,136.43 186.72,131.68 191.72,131.68" fill="#008080"/>
<polygon points="184.24,136.52 181.74,131.77 186.74,131.77" fill="#008080"/>
<polygon points="179.26,136.61 176.76,131.86 181.76,131.86" fill="#008080"/>
<polygon points="174.28,136.71 171.78,131.96 176.78,131.96" fill="#008080"/>
<polygon points="169.3,136.8 166.8,132.05 171.8,132.05" fill="#008080"/>
<polygon points="164.32,136.9 161.82,132.15 166.82,132.15" fill="#008080"/>
<polygon points="159.34,136.99 156.84,132.24 161.84,132.24" fill="#008080"/>
<polygon points="154.36,137.09 151.86,132.34 156.86,132.34" fill="#008080"/>
<polygon points="149.38,137.18 146.88,132.43 151.88,132.43" fill="#008080"/>
<polygon points="144.4,137.28 141.9,132.53 146.9,132.53" fill="#008080"/>
<polygon points="139.42,137.37 136.92,132.62 141.92,132.62" fill="#008080"/>
<polygon points="134.44,137.47 131.94,132.72 136.94,132.72" fill="#008080"/>
<polygon points="129.46,137.56 126.96,132.81 131.96,132.81" fill="#008080"/>
<polygon points="124.48,137.66 121.98,132.91 126.98,132.91" fill="#008080"/>
<polygon points="119.5,137.75 117,133 122,133" fill="#008080"/>
<polygon points="114.52,137.85 112.02,133.1 117.02,133.1" fill="#008080"/>
<polygon points="109.54,137.94 107.04,133.19 112.04,133.19" fill="#008080"/>
<polygon points="104.56,138.04 102.06,133.29 107.06,133.29" fill="#008080"/>
<polygon points="99.58,138.13 97.08,133.38 102.08,133.38" fill="#008080"/>
<polygon points="94.6,138.22 92.1,133.47 97.1,133.47" fill="#008080"/>
<polygon points="99.58,137.82 97.08,133.07 102.08,133.07" fill="#008080"/>
<polygon points="104.56,137.74 102.06,132.99 107.06,132.99" fill="#008080"/>
<polygon points="109.54,137.66 107.04,132.91 112.04,132.91" fill="#008080"/>
<polygon points="114.52,137.57 112.02,132.82 117.02,132.82" fill="#008080"/>
<polygon points="119.5,137.49 117,132.74 122,132.74" fill="#008080"/>
<polygon points="124.48,137.4 121.98,132.65 126.98,132.65" fill="#008080"/>
<polygon points="129.46,137.32 126.96,132.57 131.96,132.57" fill="#008080"/>
<polygon points="134.44,137.24 131.94,132.49 136.94,132.49" fill="#008080"/>
<polygon points="139.42,137.15 136.92,132.4 141.92,132.4" fill="#008080"/>
<polygon points="144.4,137.07 141.9,132.32 146.9,132.32" fill="#008080"/>
<polygon points="149.38,136.98 146.88,132.23 151.88,132.23" fill="#008080"/>
<polygon points="154.36,136.9 151.86,132.15 156.86,132.15" fill="#008080"/>
<polygon points="159.34,136.81 156.84,132.06 161.84,132.06" fill="#008080"/>
<polygon points="164.32,136.73 161.82,131.98 166.82,131.98" fill="#008080"/>
<polygon points="169.3,136.65 166.8,131.9 171.8,131.9" fill="#008080"/>
<polygon points="174.28,136.56 171.78,131.81 176.78,131.81" fill="#008080"/>
<polygon points="179.26,136.48 176.76,131.73 181.76,131.73" fill="#008080"/>
<polygon points="184.24,136.39 181.74,131.64 186.74,131.64" fill="#008080"/>
<polygon points="189.22,136.31 186.72,131.56 191.72,131.56" fill="#008080"/>
<polygon points="194.2,136.22 191.7,131.47 196.7,131.47" fill="#008080"/>
<rect x="344.5" y="0.5" width="340" height="258" fill="none" stroke="#2b2b2b" stroke-width="1.1"/>
<line x1="408.7" y1="48.4" x2="408.7" y2="225.5" stroke="#222" stroke-width="1.1"/>
<line x1="408.2" y1="225" x2="636.7" y2="225" stroke="#222" stroke-width="1.1"/>
<line x1="404.7" y1="211.6" x2="408.7" y2="211.6" stroke="#222" stroke-width="1"/>
<line x1="404.7" y1="186.5" x2="408.7" y2="186.5" stroke="#222" stroke-width="1"/>
<line x1="404.7" y1="161.4" x2="408.7" y2="161.4" stroke="#222" stroke-width="1"/>
<line x1="404.7" y1="136.3" x2="408.7" y2="136.3" stroke="#222" stroke-width="1"/>
<line x1="404.7" y1="111.2" x2="408.7" y2="111.2" stroke="#222" stroke-width="1"/>
<line x1="404.7" y1="86.1" x2="408.7" y2="86.1" stroke="#222" stroke-width="1"/>
<line x1="404.7" y1="61" x2="408.7" y2="61" stroke="#222" stroke-width="1"/>
<line x1="406.5" y1="48.6" x2="408.7" y2="48.6" stroke="#222" stroke-width="1"/>
<line x1="406.5" y1="73.7" x2="408.7" y2="73.7" stroke="#222" stroke-width="1"/>
<line x1="406.5" y1="98.8" x2="408.7" y2="98.8" stroke="#222" stroke-width="1"/>
<line x1="406.5" y1="123.9" x2="408.7" y2="123.9" stroke="#222" stroke-width="1"/>
<line x1="406.5" y1="149" x2="408.7" y2="149" stroke="#222" stroke-width="1"/>
<line x1="406.5" y1="174.1" x2="408.7" y2="174.1" stroke="#222" stroke-width="1"/>
<line x1="406.5" y1="199.2" x2="408.7" y2="199.2" stroke="#222" stroke-width="1"/>
<line x1="406.5" y1="224.4" x2="408.7" y2="224.4" stroke="#222" stroke-width="1"/>
<line x1="408.6" y1="225" x2="408.6" y2="228.5" stroke="#222" stroke-width="1"/>
<line x1="431.39" y1="225" x2="431.39" y2="228.5" stroke="#222" stroke-width="1"/>
<line x1="454.18" y1="225" x2="454.18" y2="228.5" stroke="#222" stroke-width="1"/>
<line x1="476.97" y1="225" x2="476.97" y2="228.5" stroke="#222" stroke-width="1"/>
<line x1="499.76" y1="225" x2="499.76" y2="228.5" stroke="#222" stroke-width="1"/>
<line x1="522.55" y1="225" x2="522.55" y2="228.5" stroke="#222" stroke-width="1"/>
<line x1="545.34" y1="225" x2="545.34" y2="228.5" stroke="#222" stroke-width="1"/>
<line x1="568.13" y1="225" x2="568.13" y2="228.5" stroke="#222" stroke-width="1"/>
<line x1="590.92" y1="225" x2="590.92" y2="228.5" stroke="#222" stroke-width="1"/>
<line x1="613.71" y1="225" x2="613.71" y2="228.5" stroke="#222" stroke-width="1"/>
<line x1="636.5" y1="225" x2="636.5" y2="228.5" stroke="#222" stroke-width="1"/>
<text x="369.65" y="64.9" font-size="9.5" textLength="27.95" lengthAdjust="spacingAndGlyphs">3.0x10</text>
<text x="398" y="59.9" font-size="5.8" textLength="5.07" lengthAdjust="spacingAndGlyphs">-5</text>
<text x="369.65" y="90" font-size="9.5" textLength="27.95" lengthAdjust="spacingAndGlyphs">2.0x10</text>
<text x="398" y="85" font-size="5.8" textLength="5.07" lengthAdjust="spacingAndGlyphs">-5</text>
<text x="369.65" y="115.1" font-size="9.5" textLength="27.95" lengthAdjust="spacingAndGlyphs">1.0x10</text>
<text x="398" y="110.1" font-size="5.8" textLength="5.07" lengthAdjust="spacingAndGlyphs">-5</text>
<text x="366.26" y="165.3" font-size="9.5" textLength="31.34" lengthAdjust="spacingAndGlyphs">-1.0x10</text>
<text x="398" y="160.3" font-size="5.8" textLength="5.07" lengthAdjust="spacingAndGlyphs">-5</text>
<text x="366.26" y="190.4" font-size="9.5" textLength="31.34" lengthAdjust="spacingAndGlyphs">-2.0x10</text>
<text x="398" y="185.4" font-size="5.8" textLength="5.07" lengthAdjust="spacingAndGlyphs">-5</text>
<text x="366.26" y="215.5" font-size="9.5" textLength="31.34" lengthAdjust="spacingAndGlyphs">-3.0x10</text>
<text x="398" y="210.5" font-size="5.8" textLength="5.07" lengthAdjust="spacingAndGlyphs">-5</text>
<text x="390.49" y="138.5" font-size="9.5" textLength="12.71" lengthAdjust="spacingAndGlyphs">0.0</text>
<text x="422.83" y="239" font-size="10" textLength="16.94" lengthAdjust="spacingAndGlyphs">-1.0</text>
<text x="468.53" y="239" font-size="10" textLength="16.94" lengthAdjust="spacingAndGlyphs">-0.5</text>
<text x="516.01" y="239" font-size="10" textLength="13.38" lengthAdjust="spacingAndGlyphs">0.0</text>
<text x="561.71" y="239" font-size="10" textLength="13.38" lengthAdjust="spacingAndGlyphs">0.5</text>
<text x="607.41" y="239" font-size="10" textLength="13.38" lengthAdjust="spacingAndGlyphs">1.0</text>
<text x="489" y="254.7" font-size="14" textLength="67.8" lengthAdjust="spacingAndGlyphs">Voltage (V)</text>
<text transform="translate(360.2,136.7) rotate(-90)" x="-36.86" y="0" font-size="14.4" textLength="73.71" lengthAdjust="spacingAndGlyphs">Current (A)</text>
<text x="379.6" y="40.3" font-size="28.3" textLength="14.95" lengthAdjust="spacingAndGlyphs">b</text>
<line x1="438" y1="69.6" x2="458.1" y2="69.6" stroke="#000" stroke-width="1.2"/>
<circle cx="448" cy="69.6" r="1.3" fill="#000"/>
<line x1="438" y1="88.2" x2="458.1" y2="88.2" stroke="#ff0000" stroke-width="1.2"/>
<circle cx="448" cy="88.2" r="1.3" fill="#ff0000"/>
<line x1="438" y1="105.3" x2="458.1" y2="105.3" stroke="#0000ff" stroke-width="1.2"/>
<circle cx="448" cy="105.3" r="1.3" fill="#0000ff"/>
<text x="460" y="72.5" font-size="8" textLength="25.91" lengthAdjust="spacingAndGlyphs">AgNPs</text>
<text x="460.4" y="91" font-size="8" textLength="11.24" lengthAdjust="spacingAndGlyphs">Hg</text>
<text x="472.1" y="85.4" font-size="7.8" textLength="9.18" lengthAdjust="spacingAndGlyphs">2+</text>
<text x="460.4" y="108.1" font-size="8" textLength="42.17" lengthAdjust="spacingAndGlyphs">AgNPs+Hg</text>
<text x="503.3" y="102.9" font-size="7.8" textLength="9.18" lengthAdjust="spacingAndGlyphs">2+</text>
<text x="512" y="108.1" font-size="8" textLength="40.58" lengthAdjust="spacingAndGlyphs">(1000ppm)</text>
<polyline points="528.43,134.1 532.97,131.9 537.5,129.5 542.03,127.3 546.56,124.7 551.1,123 555.63,119.3 560.16,117.9 564.69,117.9 569.23,117.9 573.76,104.3 578.29,101.3 582.82,95.5 587.36,91.6 591.89,89.9 596.42,86 600.95,82.6 605.49,79.7 610.02,75.7 614.55,70 610.02,88.7 605.49,100.6 600.95,117.6 596.42,121.5 591.89,125 587.36,128.5 582.82,131 578.29,133 573.76,134.5 569.23,135.5 564.69,136.3 560.16,136.5 555.63,136.6 551.1,136.6 546.56,136.5 542.03,136.4 537.5,136.3 532.96,136.3 528.43,136.3 523.9,136.3 519.37,149 514.83,151.9 510.3,155.1 505.77,156.3 501.24,156.3 496.7,164.1 492.17,165.8 487.64,168.9 483.11,173 478.57,174.3 474.04,177.7 469.51,179.1 464.98,183.3 460.44,185.4 455.91,190.5 451.38,193 446.85,196.8 442.31,199.5 437.78,204.1 433.25,208.3 437.78,184.2 442.31,172.3 446.85,155.6 451.38,153 455.91,151 460.44,149 464.98,147 469.51,145.5 474.04,144 478.57,142.8 483.11,141.7 487.64,140.8 492.17,140 496.7,139.3 501.24,138.6 505.77,138 510.3,137.5 514.84,137 519.37,136.6 523.9,136.3" fill="none" stroke="#000" stroke-width="1.2" stroke-linejoin="round"/>
<rect x="526.53" y="132.2" width="3.8" height="3.8" fill="#000"/>
<rect x="531.07" y="130" width="3.8" height="3.8" fill="#000"/>
<rect x="535.6" y="127.6" width="3.8" height="3.8" fill="#000"/>
<rect x="540.13" y="125.4" width="3.8" height="3.8" fill="#000"/>
<rect x="544.66" y="122.8" width="3.8" height="3.8" fill="#000"/>
<rect x="549.2" y="121.1" width="3.8" height="3.8" fill="#000"/>
<rect x="553.73" y="117.4" width="3.8" height="3.8" fill="#000"/>
<rect x="558.26" y="116" width="3.8" height="3.8" fill="#000"/>
<rect x="562.79" y="116" width="3.8" height="3.8" fill="#000"/>
<rect x="567.33" y="116" width="3.8" height="3.8" fill="#000"/>
<rect x="571.86" y="102.4" width="3.8" height="3.8" fill="#000"/>
<rect x="576.39" y="99.4" width="3.8" height="3.8" fill="#000"/>
<rect x="580.92" y="93.6" width="3.8" height="3.8" fill="#000"/>
<rect x="585.46" y="89.7" width="3.8" height="3.8" fill="#000"/>
<rect x="589.99" y="88" width="3.8" height="3.8" fill="#000"/>
<rect x="594.52" y="84.1" width="3.8" height="3.8" fill="#000"/>
<rect x="599.05" y="80.7" width="3.8" height="3.8" fill="#000"/>
<rect x="603.59" y="77.8" width="3.8" height="3.8" fill="#000"/>
<rect x="608.12" y="73.8" width="3.8" height="3.8" fill="#000"/>
<rect x="612.65" y="68.1" width="3.8" height="3.8" fill="#000"/>
<rect x="608.12" y="86.8" width="3.8" height="3.8" fill="#000"/>
<rect x="603.59" y="98.7" width="3.8" height="3.8" fill="#000"/>
<rect x="599.05" y="115.7" width="3.8" height="3.8" fill="#000"/>
<rect x="594.52" y="119.6" width="3.8" height="3.8" fill="#000"/>
<rect x="589.99" y="123.1" width="3.8" height="3.8" fill="#000"/>
<rect x="585.46" y="126.6" width="3.8" height="3.8" fill="#000"/>
<rect x="580.92" y="129.1" width="3.8" height="3.8" fill="#000"/>
<rect x="576.39" y="131.1" width="3.8" height="3.8" fill="#000"/>
<rect x="571.86" y="132.6" width="3.8" height="3.8" fill="#000"/>
<rect x="567.33" y="133.6" width="3.8" height="3.8" fill="#000"/>
<rect x="562.79" y="134.4" width="3.8" height="3.8" fill="#000"/>
<rect x="558.26" y="134.6" width="3.8" height="3.8" fill="#000"/>
<rect x="553.73" y="134.7" width="3.8" height="3.8" fill="#000"/>
<rect x="549.2" y="134.7" width="3.8" height="3.8" fill="#000"/>
<rect x="544.66" y="134.6" width="3.8" height="3.8" fill="#000"/>
<rect x="540.13" y="134.5" width="3.8" height="3.8" fill="#000"/>
<rect x="535.6" y="134.4" width="3.8" height="3.8" fill="#000"/>
<rect x="531.06" y="134.4" width="3.8" height="3.8" fill="#000"/>
<rect x="526.53" y="134.4" width="3.8" height="3.8" fill="#000"/>
<rect x="522" y="134.4" width="3.8" height="3.8" fill="#000"/>
<rect x="517.47" y="147.1" width="3.8" height="3.8" fill="#000"/>
<rect x="512.93" y="150" width="3.8" height="3.8" fill="#000"/>
<rect x="508.4" y="153.2" width="3.8" height="3.8" fill="#000"/>
<rect x="503.87" y="154.4" width="3.8" height="3.8" fill="#000"/>
<rect x="499.34" y="154.4" width="3.8" height="3.8" fill="#000"/>
<rect x="494.81" y="162.2" width="3.8" height="3.8" fill="#000"/>
<rect x="490.27" y="163.9" width="3.8" height="3.8" fill="#000"/>
<rect x="485.74" y="167" width="3.8" height="3.8" fill="#000"/>
<rect x="481.21" y="171.1" width="3.8" height="3.8" fill="#000"/>
<rect x="476.68" y="172.4" width="3.8" height="3.8" fill="#000"/>
<rect x="472.14" y="175.8" width="3.8" height="3.8" fill="#000"/>
<rect x="467.61" y="177.2" width="3.8" height="3.8" fill="#000"/>
<rect x="463.08" y="181.4" width="3.8" height="3.8" fill="#000"/>
<rect x="458.54" y="183.5" width="3.8" height="3.8" fill="#000"/>
<rect x="454.01" y="188.6" width="3.8" height="3.8" fill="#000"/>
<rect x="449.48" y="191.1" width="3.8" height="3.8" fill="#000"/>
<rect x="444.95" y="194.9" width="3.8" height="3.8" fill="#000"/>
<rect x="440.41" y="197.6" width="3.8" height="3.8" fill="#000"/>
<rect x="435.88" y="202.2" width="3.8" height="3.8" fill="#000"/>
<rect x="431.35" y="206.4" width="3.8" height="3.8" fill="#000"/>
<rect x="435.88" y="182.3" width="3.8" height="3.8" fill="#000"/>
<rect x="440.42" y="170.4" width="3.8" height="3.8" fill="#000"/>
<rect x="444.95" y="153.7" width="3.8" height="3.8" fill="#000"/>
<rect x="449.48" y="151.1" width="3.8" height="3.8" fill="#000"/>
<rect x="454.01" y="149.1" width="3.8" height="3.8" fill="#000"/>
<rect x="458.55" y="147.1" width="3.8" height="3.8" fill="#000"/>
<rect x="463.08" y="145.1" width="3.8" height="3.8" fill="#000"/>
<rect x="467.61" y="143.6" width="3.8" height="3.8" fill="#000"/>
<rect x="472.14" y="142.1" width="3.8" height="3.8" fill="#000"/>
<rect x="476.68" y="140.9" width="3.8" height="3.8" fill="#000"/>
<rect x="481.21" y="139.8" width="3.8" height="3.8" fill="#000"/>
<rect x="485.74" y="138.9" width="3.8" height="3.8" fill="#000"/>
<rect x="490.27" y="138.1" width="3.8" height="3.8" fill="#000"/>
<rect x="494.81" y="137.4" width="3.8" height="3.8" fill="#000"/>
<rect x="499.34" y="136.7" width="3.8" height="3.8" fill="#000"/>
<rect x="503.87" y="136.1" width="3.8" height="3.8" fill="#000"/>
<rect x="508.4" y="135.6" width="3.8" height="3.8" fill="#000"/>
<rect x="512.94" y="135.1" width="3.8" height="3.8" fill="#000"/>
<rect x="517.47" y="134.7" width="3.8" height="3.8" fill="#000"/>
<rect x="522" y="134.4" width="3.8" height="3.8" fill="#000"/>
<polyline points="523.9,136.3 528.43,134.5 532.97,134.1 537.5,133.4 542.03,132.6 546.56,132.2 551.1,131.6 555.63,130.4 560.16,129.7 564.69,129 569.23,128.2 573.76,127.2 578.29,125.8 582.82,125.3 587.36,124.3 591.89,123.4 596.42,122.5 600.95,121.4 605.49,120.2 610.02,118.8 614.55,117.6 610.02,119.5 605.49,121 600.95,123.1 596.42,125.3 591.89,127.5 587.36,128.7 582.82,130.4 578.29,131.6 573.76,132.6 569.23,133.4 564.69,134.5 560.16,135.5 555.63,136.3 551.1,137 546.56,137 542.03,136.8 537.5,136.7 532.96,136.6 528.43,136.5 523.9,136.4 519.37,138.8 514.83,139.5 510.3,140.2 505.77,141.4 501.24,142.4 496.7,143.4 492.17,144.6 487.64,145.8 483.11,147.2 478.57,148.2 474.04,149.7 469.51,151.2 464.98,152.6 460.44,154.1 455.91,155.5 451.38,156.3 446.85,170 442.31,173.5 437.78,177.7 433.25,183.7 437.78,156 442.31,153.1 446.85,150.4 451.38,148.2 455.91,146.4 460.44,144.9 464.98,143.4 469.51,142.4 474.04,141.4 478.57,140.5 483.11,139.8 487.64,139.1 492.17,138.5 496.7,138 501.24,137.6 505.77,137 510.3,136.6 514.84,136.1 519.37,135.8 523.9,135.5" fill="none" stroke="#ff0000" stroke-width="1.2" stroke-linejoin="round"/>
<rect x="522" y="134.4" width="3.8" height="3.8" fill="#ff0000"/>
<rect x="526.53" y="132.6" width="3.8" height="3.8" fill="#ff0000"/>
<rect x="531.07" y="132.2" width="3.8" height="3.8" fill="#ff0000"/>
<rect x="535.6" y="131.5" width="3.8" height="3.8" fill="#ff0000"/>
<rect x="540.13" y="130.7" width="3.8" height="3.8" fill="#ff0000"/>
<rect x="544.66" y="130.3" width="3.8" height="3.8" fill="#ff0000"/>
<rect x="549.2" y="129.7" width="3.8" height="3.8" fill="#ff0000"/>
<rect x="553.73" y="128.5" width="3.8" height="3.8" fill="#ff0000"/>
<rect x="558.26" y="127.8" width="3.8" height="3.8" fill="#ff0000"/>
<rect x="562.79" y="127.1" width="3.8" height="3.8" fill="#ff0000"/>
<rect x="567.33" y="126.3" width="3.8" height="3.8" fill="#ff0000"/>
<rect x="571.86" y="125.3" width="3.8" height="3.8" fill="#ff0000"/>
<rect x="576.39" y="123.9" width="3.8" height="3.8" fill="#ff0000"/>
<rect x="580.92" y="123.4" width="3.8" height="3.8" fill="#ff0000"/>
<rect x="585.46" y="122.4" width="3.8" height="3.8" fill="#ff0000"/>
<rect x="589.99" y="121.5" width="3.8" height="3.8" fill="#ff0000"/>
<rect x="594.52" y="120.6" width="3.8" height="3.8" fill="#ff0000"/>
<rect x="599.05" y="119.5" width="3.8" height="3.8" fill="#ff0000"/>
<rect x="603.59" y="118.3" width="3.8" height="3.8" fill="#ff0000"/>
<rect x="608.12" y="116.9" width="3.8" height="3.8" fill="#ff0000"/>
<rect x="612.65" y="115.7" width="3.8" height="3.8" fill="#ff0000"/>
<rect x="608.12" y="117.6" width="3.8" height="3.8" fill="#ff0000"/>
<rect x="603.59" y="119.1" width="3.8" height="3.8" fill="#ff0000"/>
<rect x="599.05" y="121.2" width="3.8" height="3.8" fill="#ff0000"/>
<rect x="594.52" y="123.4" width="3.8" height="3.8" fill="#ff0000"/>
<rect x="589.99" y="125.6" width="3.8" height="3.8" fill="#ff0000"/>
<rect x="585.46" y="126.8" width="3.8" height="3.8" fill="#ff0000"/>
<rect x="580.92" y="128.5" width="3.8" height="3.8" fill="#ff0000"/>
<rect x="576.39" y="129.7" width="3.8" height="3.8" fill="#ff0000"/>
<rect x="571.86" y="130.7" width="3.8" height="3.8" fill="#ff0000"/>
<rect x="567.33" y="131.5" width="3.8" height="3.8" fill="#ff0000"/>
<rect x="562.79" y="132.6" width="3.8" height="3.8" fill="#ff0000"/>
<rect x="558.26" y="133.6" width="3.8" height="3.8" fill="#ff0000"/>
<rect x="553.73" y="134.4" width="3.8" height="3.8" fill="#ff0000"/>
<rect x="549.2" y="135.1" width="3.8" height="3.8" fill="#ff0000"/>
<rect x="544.66" y="135.1" width="3.8" height="3.8" fill="#ff0000"/>
<rect x="540.13" y="134.9" width="3.8" height="3.8" fill="#ff0000"/>
<rect x="535.6" y="134.8" width="3.8" height="3.8" fill="#ff0000"/>
<rect x="531.06" y="134.7" width="3.8" height="3.8" fill="#ff0000"/>
<rect x="526.53" y="134.6" width="3.8" height="3.8" fill="#ff0000"/>
<rect x="522" y="134.5" width="3.8" height="3.8" fill="#ff0000"/>
<rect x="517.47" y="136.9" width="3.8" height="3.8" fill="#ff0000"/>
<rect x="512.93" y="137.6" width="3.8" height="3.8" fill="#ff0000"/>
<rect x="508.4" y="138.3" width="3.8" height="3.8" fill="#ff0000"/>
<rect x="503.87" y="139.5" width="3.8" height="3.8" fill="#ff0000"/>
<rect x="499.34" y="140.5" width="3.8" height="3.8" fill="#ff0000"/>
<rect x="494.81" y="141.5" width="3.8" height="3.8" fill="#ff0000"/>
<rect x="490.27" y="142.7" width="3.8" height="3.8" fill="#ff0000"/>
<rect x="485.74" y="143.9" width="3.8" height="3.8" fill="#ff0000"/>
<rect x="481.21" y="145.3" width="3.8" height="3.8" fill="#ff0000"/>
<rect x="476.68" y="146.3" width="3.8" height="3.8" fill="#ff0000"/>
<rect x="472.14" y="147.8" width="3.8" height="3.8" fill="#ff0000"/>
<rect x="467.61" y="149.3" width="3.8" height="3.8" fill="#ff0000"/>
<rect x="463.08" y="150.7" width="3.8" height="3.8" fill="#ff0000"/>
<rect x="458.54" y="152.2" width="3.8" height="3.8" fill="#ff0000"/>
<rect x="454.01" y="153.6" width="3.8" height="3.8" fill="#ff0000"/>
<rect x="449.48" y="154.4" width="3.8" height="3.8" fill="#ff0000"/>
<rect x="444.95" y="168.1" width="3.8" height="3.8" fill="#ff0000"/>
<rect x="440.41" y="171.6" width="3.8" height="3.8" fill="#ff0000"/>
<rect x="435.88" y="175.8" width="3.8" height="3.8" fill="#ff0000"/>
<rect x="431.35" y="181.8" width="3.8" height="3.8" fill="#ff0000"/>
<rect x="435.88" y="154.1" width="3.8" height="3.8" fill="#ff0000"/>
<rect x="440.42" y="151.2" width="3.8" height="3.8" fill="#ff0000"/>
<rect x="444.95" y="148.5" width="3.8" height="3.8" fill="#ff0000"/>
<rect x="449.48" y="146.3" width="3.8" height="3.8" fill="#ff0000"/>
<rect x="454.01" y="144.5" width="3.8" height="3.8" fill="#ff0000"/>
<rect x="458.55" y="143" width="3.8" height="3.8" fill="#ff0000"/>
<rect x="463.08" y="141.5" width="3.8" height="3.8" fill="#ff0000"/>
<rect x="467.61" y="140.5" width="3.8" height="3.8" fill="#ff0000"/>
<rect x="472.14" y="139.5" width="3.8" height="3.8" fill="#ff0000"/>
<rect x="476.68" y="138.6" width="3.8" height="3.8" fill="#ff0000"/>
<rect x="481.21" y="137.9" width="3.8" height="3.8" fill="#ff0000"/>
<rect x="485.74" y="137.2" width="3.8" height="3.8" fill="#ff0000"/>
<rect x="490.27" y="136.6" width="3.8" height="3.8" fill="#ff0000"/>
<rect x="494.81" y="136.1" width="3.8" height="3.8" fill="#ff0000"/>
<rect x="499.34" y="135.7" width="3.8" height="3.8" fill="#ff0000"/>
<rect x="503.87" y="135.1" width="3.8" height="3.8" fill="#ff0000"/>
<rect x="508.4" y="134.7" width="3.8" height="3.8" fill="#ff0000"/>
<rect x="512.94" y="134.2" width="3.8" height="3.8" fill="#ff0000"/>
<rect x="517.47" y="133.9" width="3.8" height="3.8" fill="#ff0000"/>
<rect x="522" y="133.6" width="3.8" height="3.8" fill="#ff0000"/>
<polyline points="523.9,136 528.43,134.5 532.97,133.1 537.5,131.9 542.03,130.4 546.56,129 551.1,127.8 555.63,126.8 560.16,125.3 564.69,123.9 569.23,122.4 573.76,121.4 578.29,119.9 582.82,119 587.36,118.5 591.89,118 596.42,117.6 600.95,117.6 605.49,117.6 610.02,117.6 614.55,117.6 610.02,119.5 605.49,121.7 600.95,123.1 596.42,124.6 591.89,126.4 587.36,127.8 582.82,129 578.29,130.4 573.76,131.6 569.23,132.6 564.69,133.4 560.16,134.5 555.63,135.1 551.1,136 546.56,136.3 542.03,136.3 537.5,136.3 532.96,136 528.43,135.5 523.9,135.5 519.37,139.9 514.83,141.7 510.3,143.1 505.77,144.6 501.24,146.4 496.7,148.2 492.17,149.7 487.64,151.6 483.11,153.1 478.57,154.1 474.04,155.5 469.51,156 464.98,156.3 460.44,168.4 455.91,170 451.38,172.6 446.85,174.3 442.31,176 437.78,179 433.25,180.3 437.78,170 442.31,156 446.85,155.3 451.38,151.9 455.91,149.7 460.44,147.5 464.98,145.8 469.51,144.6 474.04,143.4 478.57,142.4 483.11,141.7 487.64,140.9 492.17,139.9 496.7,139 501.24,138.5 505.77,138 510.3,137.3 514.84,136.6 519.37,136.1 523.9,135.5" fill="none" stroke="#0000ff" stroke-width="1.2" stroke-linejoin="round"/>
<rect x="522" y="134.1" width="3.8" height="3.8" fill="#0000ff"/>
<rect x="526.53" y="132.6" width="3.8" height="3.8" fill="#0000ff"/>
<rect x="531.07" y="131.2" width="3.8" height="3.8" fill="#0000ff"/>
<rect x="535.6" y="130" width="3.8" height="3.8" fill="#0000ff"/>
<rect x="540.13" y="128.5" width="3.8" height="3.8" fill="#0000ff"/>
<rect x="544.66" y="127.1" width="3.8" height="3.8" fill="#0000ff"/>
<rect x="549.2" y="125.9" width="3.8" height="3.8" fill="#0000ff"/>
<rect x="553.73" y="124.9" width="3.8" height="3.8" fill="#0000ff"/>
<rect x="558.26" y="123.4" width="3.8" height="3.8" fill="#0000ff"/>
<rect x="562.79" y="122" width="3.8" height="3.8" fill="#0000ff"/>
<rect x="567.33" y="120.5" width="3.8" height="3.8" fill="#0000ff"/>
<rect x="571.86" y="119.5" width="3.8" height="3.8" fill="#0000ff"/>
<rect x="576.39" y="118" width="3.8" height="3.8" fill="#0000ff"/>
<rect x="580.92" y="117.1" width="3.8" height="3.8" fill="#0000ff"/>
<rect x="585.46" y="116.6" width="3.8" height="3.8" fill="#0000ff"/>
<rect x="589.99" y="116.1" width="3.8" height="3.8" fill="#0000ff"/>
<rect x="594.52" y="115.7" width="3.8" height="3.8" fill="#0000ff"/>
<rect x="599.05" y="115.7" width="3.8" height="3.8" fill="#0000ff"/>
<rect x="603.59" y="115.7" width="3.8" height="3.8" fill="#0000ff"/>
<rect x="608.12" y="115.7" width="3.8" height="3.8" fill="#0000ff"/>
<rect x="612.65" y="115.7" width="3.8" height="3.8" fill="#0000ff"/>
<rect x="608.12" y="117.6" width="3.8" height="3.8" fill="#0000ff"/>
<rect x="603.59" y="119.8" width="3.8" height="3.8" fill="#0000ff"/>
<rect x="599.05" y="121.2" width="3.8" height="3.8" fill="#0000ff"/>
<rect x="594.52" y="122.7" width="3.8" height="3.8" fill="#0000ff"/>
<rect x="589.99" y="124.5" width="3.8" height="3.8" fill="#0000ff"/>
<rect x="585.46" y="125.9" width="3.8" height="3.8" fill="#0000ff"/>
<rect x="580.92" y="127.1" width="3.8" height="3.8" fill="#0000ff"/>
<rect x="576.39" y="128.5" width="3.8" height="3.8" fill="#0000ff"/>
<rect x="571.86" y="129.7" width="3.8" height="3.8" fill="#0000ff"/>
<rect x="567.33" y="130.7" width="3.8" height="3.8" fill="#0000ff"/>
<rect x="562.79" y="131.5" width="3.8" height="3.8" fill="#0000ff"/>
<rect x="558.26" y="132.6" width="3.8" height="3.8" fill="#0000ff"/>
<rect x="553.73" y="133.2" width="3.8" height="3.8" fill="#0000ff"/>
<rect x="549.2" y="134.1" width="3.8" height="3.8" fill="#0000ff"/>
<rect x="544.66" y="134.4" width="3.8" height="3.8" fill="#0000ff"/>
<rect x="540.13" y="134.4" width="3.8" height="3.8" fill="#0000ff"/>
<rect x="535.6" y="134.4" width="3.8" height="3.8" fill="#0000ff"/>
<rect x="531.06" y="134.1" width="3.8" height="3.8" fill="#0000ff"/>
<rect x="526.53" y="133.6" width="3.8" height="3.8" fill="#0000ff"/>
<rect x="522" y="133.6" width="3.8" height="3.8" fill="#0000ff"/>
<rect x="517.47" y="138" width="3.8" height="3.8" fill="#0000ff"/>
<rect x="512.93" y="139.8" width="3.8" height="3.8" fill="#0000ff"/>
<rect x="508.4" y="141.2" width="3.8" height="3.8" fill="#0000ff"/>
<rect x="503.87" y="142.7" width="3.8" height="3.8" fill="#0000ff"/>
<rect x="499.34" y="144.5" width="3.8" height="3.8" fill="#0000ff"/>
<rect x="494.81" y="146.3" width="3.8" height="3.8" fill="#0000ff"/>
<rect x="490.27" y="147.8" width="3.8" height="3.8" fill="#0000ff"/>
<rect x="485.74" y="149.7" width="3.8" height="3.8" fill="#0000ff"/>
<rect x="481.21" y="151.2" width="3.8" height="3.8" fill="#0000ff"/>
<rect x="476.68" y="152.2" width="3.8" height="3.8" fill="#0000ff"/>
<rect x="472.14" y="153.6" width="3.8" height="3.8" fill="#0000ff"/>
<rect x="467.61" y="154.1" width="3.8" height="3.8" fill="#0000ff"/>
<rect x="463.08" y="154.4" width="3.8" height="3.8" fill="#0000ff"/>
<rect x="458.54" y="166.5" width="3.8" height="3.8" fill="#0000ff"/>
<rect x="454.01" y="168.1" width="3.8" height="3.8" fill="#0000ff"/>
<rect x="449.48" y="170.7" width="3.8" height="3.8" fill="#0000ff"/>
<rect x="444.95" y="172.4" width="3.8" height="3.8" fill="#0000ff"/>
<rect x="440.41" y="174.1" width="3.8" height="3.8" fill="#0000ff"/>
<rect x="435.88" y="177.1" width="3.8" height="3.8" fill="#0000ff"/>
<rect x="431.35" y="178.4" width="3.8" height="3.8" fill="#0000ff"/>
<rect x="435.88" y="168.1" width="3.8" height="3.8" fill="#0000ff"/>
<rect x="440.42" y="154.1" width="3.8" height="3.8" fill="#0000ff"/>
<rect x="444.95" y="153.4" width="3.8" height="3.8" fill="#0000ff"/>
<rect x="449.48" y="150" width="3.8" height="3.8" fill="#0000ff"/>
<rect x="454.01" y="147.8" width="3.8" height="3.8" fill="#0000ff"/>
<rect x="458.55" y="145.6" width="3.8" height="3.8" fill="#0000ff"/>
<rect x="463.08" y="143.9" width="3.8" height="3.8" fill="#0000ff"/>
<rect x="467.61" y="142.7" width="3.8" height="3.8" fill="#0000ff"/>
<rect x="472.14" y="141.5" width="3.8" height="3.8" fill="#0000ff"/>
<rect x="476.68" y="140.5" width="3.8" height="3.8" fill="#0000ff"/>
<rect x="481.21" y="139.8" width="3.8" height="3.8" fill="#0000ff"/>
<rect x="485.74" y="139" width="3.8" height="3.8" fill="#0000ff"/>
<rect x="490.27" y="138" width="3.8" height="3.8" fill="#0000ff"/>
<rect x="494.81" y="137.1" width="3.8" height="3.8" fill="#0000ff"/>
<rect x="499.34" y="136.6" width="3.8" height="3.8" fill="#0000ff"/>
<rect x="503.87" y="136.1" width="3.8" height="3.8" fill="#0000ff"/>
<rect x="508.4" y="135.4" width="3.8" height="3.8" fill="#0000ff"/>
<rect x="512.94" y="134.7" width="3.8" height="3.8" fill="#0000ff"/>
<rect x="517.47" y="134.2" width="3.8" height="3.8" fill="#0000ff"/>
<rect x="522" y="133.6" width="3.8" height="3.8" fill="#0000ff"/>
<rect x="0.5" y="269.5" width="334" height="259" fill="none" stroke="#2b2b2b" stroke-width="1.1"/>
<line x1="69.9" y1="297.2" x2="69.9" y2="483.8" stroke="#222" stroke-width="1.1"/>
<line x1="69.4" y1="483.3" x2="316.8" y2="483.3" stroke="#222" stroke-width="1.1"/>
<line x1="65.9" y1="464.2" x2="69.9" y2="464.2" stroke="#222" stroke-width="1"/>
<line x1="65.9" y1="427" x2="69.9" y2="427" stroke="#222" stroke-width="1"/>
<line x1="65.9" y1="389.8" x2="69.9" y2="389.8" stroke="#222" stroke-width="1"/>
<line x1="65.9" y1="352.6" x2="69.9" y2="352.6" stroke="#222" stroke-width="1"/>
<line x1="65.9" y1="315.4" x2="69.9" y2="315.4" stroke="#222" stroke-width="1"/>
<line x1="67.7" y1="297.2" x2="69.9" y2="297.2" stroke="#222" stroke-width="1"/>
<line x1="67.7" y1="334.4" x2="69.9" y2="334.4" stroke="#222" stroke-width="1"/>
<line x1="67.7" y1="371.6" x2="69.9" y2="371.6" stroke="#222" stroke-width="1"/>
<line x1="67.7" y1="408.8" x2="69.9" y2="408.8" stroke="#222" stroke-width="1"/>
<line x1="67.7" y1="446" x2="69.9" y2="446" stroke="#222" stroke-width="1"/>
<line x1="67.7" y1="483.2" x2="69.9" y2="483.2" stroke="#222" stroke-width="1"/>
<line x1="70.3" y1="483.3" x2="70.3" y2="486.3" stroke="#222" stroke-width="1"/>
<line x1="96.5" y1="483.3" x2="96.5" y2="486.3" stroke="#222" stroke-width="1"/>
<line x1="122.7" y1="483.3" x2="122.7" y2="486.3" stroke="#222" stroke-width="1"/>
<line x1="148.9" y1="483.3" x2="148.9" y2="486.3" stroke="#222" stroke-width="1"/>
<line x1="175.1" y1="483.3" x2="175.1" y2="486.3" stroke="#222" stroke-width="1"/>
<line x1="201.3" y1="483.3" x2="201.3" y2="486.3" stroke="#222" stroke-width="1"/>
<line x1="227.5" y1="483.3" x2="227.5" y2="486.3" stroke="#222" stroke-width="1"/>
<line x1="253.7" y1="483.3" x2="253.7" y2="486.3" stroke="#222" stroke-width="1"/>
<line x1="279.9" y1="483.3" x2="279.9" y2="486.3" stroke="#222" stroke-width="1"/>
<line x1="306.1" y1="483.3" x2="306.1" y2="486.3" stroke="#222" stroke-width="1"/>
<text x="25.06" y="318.8" font-size="9.6" textLength="31.94" lengthAdjust="spacingAndGlyphs">1.0x10</text>
<text x="57.6" y="312.7" font-size="6.6" textLength="5.77" lengthAdjust="spacingAndGlyphs">-4</text>
<text x="25.06" y="356" font-size="9.6" textLength="31.94" lengthAdjust="spacingAndGlyphs">5.0x10</text>
<text x="57.6" y="349.9" font-size="6.6" textLength="5.77" lengthAdjust="spacingAndGlyphs">-5</text>
<text x="21.19" y="430.4" font-size="9.6" textLength="35.81" lengthAdjust="spacingAndGlyphs">-5.0x10</text>
<text x="57.6" y="424.3" font-size="6.6" textLength="5.77" lengthAdjust="spacingAndGlyphs">-5</text>
<text x="21.19" y="467.6" font-size="9.6" textLength="35.81" lengthAdjust="spacingAndGlyphs">-1.0x10</text>
<text x="57.6" y="461.5" font-size="6.6" textLength="5.77" lengthAdjust="spacingAndGlyphs">-4</text>
<text x="49.08" y="390.4" font-size="9.6" textLength="14.52" lengthAdjust="spacingAndGlyphs">0.0</text>
<text x="86.41" y="497.8" font-size="10.7" textLength="19.99" lengthAdjust="spacingAndGlyphs">-1.0</text>
<text x="138.86" y="497.8" font-size="10.7" textLength="19.99" lengthAdjust="spacingAndGlyphs">-0.5</text>
<text x="193.41" y="497.8" font-size="10.7" textLength="15.78" lengthAdjust="spacingAndGlyphs">0.0</text>
<text x="245.86" y="497.8" font-size="10.7" textLength="15.78" lengthAdjust="spacingAndGlyphs">0.5</text>
<text x="298.31" y="497.8" font-size="10.7" textLength="15.78" lengthAdjust="spacingAndGlyphs">1.0</text>
<text x="166.2" y="515.5" font-size="13.6" textLength="78.7" lengthAdjust="spacingAndGlyphs">Voltage (V)</text>
<text transform="translate(13.3,386.7) rotate(-90)" x="-40.7" y="0" font-size="15.9" textLength="81.39" lengthAdjust="spacingAndGlyphs">Current (A)</text>
<text x="36.4" y="297.8" font-size="31.5" textLength="12.86" lengthAdjust="spacingAndGlyphs">c</text>
<line x1="79.1" y1="301.4" x2="85" y2="301.4" stroke="#90e0e0" stroke-width="0.7"/>
<line x1="94.2" y1="301.4" x2="99.5" y2="301.4" stroke="#90e0e0" stroke-width="0.7"/>
<rect x="87.05" y="299.15" width="4.5" height="4.5" fill="#00ffff"/>
<text x="101.8" y="303.8" font-size="6.2" textLength="34.41" lengthAdjust="spacingAndGlyphs">AgNPs+DW</text>
<line x1="79.1" y1="312.4" x2="85" y2="312.4" stroke="#ff9090" stroke-width="0.7"/>
<line x1="94.2" y1="312.4" x2="99.5" y2="312.4" stroke="#ff9090" stroke-width="0.7"/>
<circle cx="89.3" cy="312.4" r="2.4" fill="#ff0000"/>
<text x="101.8" y="314.8" font-size="6.2" textLength="8.21" lengthAdjust="spacingAndGlyphs">0.1</text>
<line x1="79.1" y1="323.1" x2="85" y2="323.1" stroke="#9090ff" stroke-width="0.7"/>
<line x1="94.2" y1="323.1" x2="99.5" y2="323.1" stroke="#9090ff" stroke-width="0.7"/>
<polygon points="89.3,320.27 86.6,325.4 92,325.4" fill="#0000ff"/>
<text x="101.8" y="325.5" font-size="6.2" textLength="3.29" lengthAdjust="spacingAndGlyphs">1</text>
<line x1="79.1" y1="334" x2="85" y2="334" stroke="#80c0c0" stroke-width="0.7"/>
<line x1="94.2" y1="334" x2="99.5" y2="334" stroke="#80c0c0" stroke-width="0.7"/>
<polygon points="89.3,336.83 86.6,331.7 92,331.7" fill="#008080"/>
<text x="101.8" y="336.4" font-size="6.2" textLength="6.57" lengthAdjust="spacingAndGlyphs">10</text>
<line x1="79.1" y1="344.9" x2="85" y2="344.9" stroke="#ff90ff" stroke-width="0.7"/>
<line x1="94.2" y1="344.9" x2="99.5" y2="344.9" stroke="#ff90ff" stroke-width="0.7"/>
<polygon points="89.3,341.78 92.42,344.9 89.3,348.02 86.18,344.9" fill="#ff00ff"/>
<text x="101.8" y="347.3" font-size="6.2" textLength="9.86" lengthAdjust="spacingAndGlyphs">100</text>
<line x1="79.1" y1="355.7" x2="85" y2="355.7" stroke="#c0c080" stroke-width="0.7"/>
<line x1="94.2" y1="355.7" x2="99.5" y2="355.7" stroke="#c0c080" stroke-width="0.7"/>
<polygon points="86.47,355.7 91.59,353 91.59,358.4" fill="#808000"/>
<text x="101.8" y="358.1" font-size="6.2" textLength="13.14" lengthAdjust="spacingAndGlyphs">1000</text>
<line x1="79.1" y1="366.5" x2="85" y2="366.5" stroke="#9090c0" stroke-width="0.7"/>
<line x1="94.2" y1="366.5" x2="99.5" y2="366.5" stroke="#9090c0" stroke-width="0.7"/>
<polygon points="89.3,369.33 86.6,364.2 92,364.2" fill="#000080"/>
<text x="101.8" y="368.9" font-size="6.2" textLength="13.14" lengthAdjust="spacingAndGlyphs">2000</text>
<line x1="79.1" y1="377.3" x2="85" y2="377.3" stroke="#c09090" stroke-width="0.7"/>
<line x1="94.2" y1="377.3" x2="99.5" y2="377.3" stroke="#c09090" stroke-width="0.7"/>
<polygon points="92.13,377.3 87,374.6 87,380" fill="#800000"/>
<text x="101.8" y="379.7" font-size="6.2" textLength="13.14" lengthAdjust="spacingAndGlyphs">3000</text>
<line x1="116.5" y1="312.4" x2="122.4" y2="312.4" stroke="#ff90c0" stroke-width="0.7"/>
<line x1="131.6" y1="312.4" x2="136.9" y2="312.4" stroke="#ff90c0" stroke-width="0.7"/>
<rect x="124.6" y="310.3" width="4.2" height="4.2" fill="#ff0080"/>
<text x="138.8" y="314.8" font-size="6.2" textLength="13.14" lengthAdjust="spacingAndGlyphs">4000</text>
<line x1="116.5" y1="323.1" x2="122.4" y2="323.1" stroke="#80c080" stroke-width="0.7"/>
<line x1="131.6" y1="323.1" x2="136.9" y2="323.1" stroke="#80c080" stroke-width="0.7"/>
<circle cx="126.7" cy="323.1" r="2.5" fill="#008000"/>
<text x="138.8" y="325.5" font-size="6.2" textLength="13.14" lengthAdjust="spacingAndGlyphs">5000</text>
<line x1="116.5" y1="334" x2="122.4" y2="334" stroke="#9090d0" stroke-width="0.7"/>
<line x1="131.6" y1="334" x2="136.9" y2="334" stroke="#9090d0" stroke-width="0.7"/>
<polygon points="126.7,331 127.43,332.99 129.55,333.07 127.89,334.39 128.46,336.43 126.7,335.25 124.94,336.43 125.51,334.39 123.85,333.07 125.97,332.99" fill="#0000a0"/>
<text x="138.8" y="336.4" font-size="6.2" textLength="13.14" lengthAdjust="spacingAndGlyphs">6000</text>
<line x1="116.5" y1="344.9" x2="122.4" y2="344.9" stroke="#ffc080" stroke-width="0.7"/>
<line x1="131.6" y1="344.9" x2="136.9" y2="344.9" stroke="#ffc080" stroke-width="0.7"/>
<circle cx="126.7" cy="344.9" r="2.5" fill="#ff8000"/>
<text x="138.8" y="347.3" font-size="6.2" textLength="13.14" lengthAdjust="spacingAndGlyphs">7000</text>
<line x1="116.5" y1="355.7" x2="122.4" y2="355.7" stroke="#c090c0" stroke-width="0.7"/>
<line x1="131.6" y1="355.7" x2="136.9" y2="355.7" stroke="#c090c0" stroke-width="0.7"/>
<circle cx="126.7" cy="355.7" r="2.5" fill="#800080"/><circle cx="127.2" cy="356.45" r="0.7" fill="#d890d8"/>
<text x="138.8" y="358.1" font-size="6.2" textLength="13.14" lengthAdjust="spacingAndGlyphs">8000</text>
<line x1="118" y1="366.5" x2="123.9" y2="366.5" stroke="#c090ff" stroke-width="0.7"/>
<line x1="133.1" y1="366.5" x2="138.4" y2="366.5" stroke="#c090ff" stroke-width="0.7"/>
<circle cx="128.2" cy="366.5" r="2.5" fill="#8000ff"/>
<text x="140.3" y="368.9" font-size="6.2" textLength="13.14" lengthAdjust="spacingAndGlyphs">9000</text>
<line x1="118" y1="377.3" x2="123.9" y2="377.3" stroke="#a0a0a0" stroke-width="0.7"/>
<line x1="133.1" y1="377.3" x2="138.4" y2="377.3" stroke="#a0a0a0" stroke-width="0.7"/>
<rect x="126.1" y="375.2" width="4.2" height="4.2" fill="#000"/>
<text x="140.6" y="379.7" font-size="6.2" textLength="16.43" lengthAdjust="spacingAndGlyphs">10000</text>
<polyline points="202.2,390 207.41,387 212.61,385.8 217.81,385.4 223.02,384.9 228.22,383.7 233.43,383.1 238.63,382.6 243.84,381.9 249.04,381.3 254.25,380.7 259.45,380.2 264.66,379.8 269.87,379.5 275.07,379.2 280.27,379 285.48,378.8 290.69,378.6 295.89,378.5 301.09,378.4 306.3,378.3 301.09,380 295.89,381 290.69,381.9 285.48,383.1 280.27,384.4 275.07,384.9 269.87,385.8 264.66,386.6 259.45,387.2 254.25,387.5 249.04,388.4 243.84,389 238.63,389.3 233.43,389.5 228.22,389.7 223.02,389.8 217.81,389.9 212.61,390 207.4,390 202.2,390 196.99,395.5 191.79,396 186.58,396.9 181.38,397.4 176.17,397.8 170.97,398.6 165.76,399.5 160.56,400.3 155.35,400.5 150.15,400.5 144.94,400.5 139.74,400.5 134.53,400.5 129.33,400.5 124.12,400.5 118.92,400.5 113.71,400.5 108.51,400.5 103.3,400.5 98.1,424.2 103.3,422.1 108.51,420 113.71,417.8 118.92,416.6 124.12,398.6 129.33,397.4 134.53,396 139.74,394.6 144.94,393.4 150.15,392.5 155.35,391.6 160.56,391.1 165.77,390.4 170.97,390 176.18,390 181.38,390 186.59,390 191.79,390 197,390 202.2,390" fill="none" stroke="#80e0f0" stroke-width="0.6" stroke-linejoin="round"/>
<rect x="199.95" y="387.75" width="4.5" height="4.5" fill="#00ffff"/>
<rect x="205.16" y="384.75" width="4.5" height="4.5" fill="#00ffff"/>
<rect x="210.36" y="383.55" width="4.5" height="4.5" fill="#00ffff"/>
<rect x="215.56" y="383.15" width="4.5" height="4.5" fill="#00ffff"/>
<rect x="220.77" y="382.65" width="4.5" height="4.5" fill="#00ffff"/>
<rect x="225.97" y="381.45" width="4.5" height="4.5" fill="#00ffff"/>
<rect x="231.18" y="380.85" width="4.5" height="4.5" fill="#00ffff"/>
<rect x="236.38" y="380.35" width="4.5" height="4.5" fill="#00ffff"/>
<rect x="241.59" y="379.65" width="4.5" height="4.5" fill="#00ffff"/>
<rect x="246.79" y="379.05" width="4.5" height="4.5" fill="#00ffff"/>
<rect x="252" y="378.45" width="4.5" height="4.5" fill="#00ffff"/>
<rect x="257.2" y="377.95" width="4.5" height="4.5" fill="#00ffff"/>
<rect x="262.41" y="377.55" width="4.5" height="4.5" fill="#00ffff"/>
<rect x="267.62" y="377.25" width="4.5" height="4.5" fill="#00ffff"/>
<rect x="272.82" y="376.95" width="4.5" height="4.5" fill="#00ffff"/>
<rect x="278.02" y="376.75" width="4.5" height="4.5" fill="#00ffff"/>
<rect x="283.23" y="376.55" width="4.5" height="4.5" fill="#00ffff"/>
<rect x="288.44" y="376.35" width="4.5" height="4.5" fill="#00ffff"/>
<rect x="293.64" y="376.25" width="4.5" height="4.5" fill="#00ffff"/>
<rect x="298.84" y="376.15" width="4.5" height="4.5" fill="#00ffff"/>
<rect x="304.05" y="376.05" width="4.5" height="4.5" fill="#00ffff"/>
<rect x="298.84" y="377.75" width="4.5" height="4.5" fill="#00ffff"/>
<rect x="293.64" y="378.75" width="4.5" height="4.5" fill="#00ffff"/>
<rect x="288.44" y="379.65" width="4.5" height="4.5" fill="#00ffff"/>
<rect x="283.23" y="380.85" width="4.5" height="4.5" fill="#00ffff"/>
<rect x="278.02" y="382.15" width="4.5" height="4.5" fill="#00ffff"/>
<rect x="272.82" y="382.65" width="4.5" height="4.5" fill="#00ffff"/>
<rect x="267.62" y="383.55" width="4.5" height="4.5" fill="#00ffff"/>
<rect x="262.41" y="384.35" width="4.5" height="4.5" fill="#00ffff"/>
<rect x="257.2" y="384.95" width="4.5" height="4.5" fill="#00ffff"/>
<rect x="252" y="385.25" width="4.5" height="4.5" fill="#00ffff"/>
<rect x="246.79" y="386.15" width="4.5" height="4.5" fill="#00ffff"/>
<rect x="241.59" y="386.75" width="4.5" height="4.5" fill="#00ffff"/>
<rect x="236.38" y="387.05" width="4.5" height="4.5" fill="#00ffff"/>
<rect x="231.18" y="387.25" width="4.5" height="4.5" fill="#00ffff"/>
<rect x="225.97" y="387.45" width="4.5" height="4.5" fill="#00ffff"/>
<rect x="220.77" y="387.55" width="4.5" height="4.5" fill="#00ffff"/>
<rect x="215.56" y="387.65" width="4.5" height="4.5" fill="#00ffff"/>
<rect x="210.36" y="387.75" width="4.5" height="4.5" fill="#00ffff"/>
<rect x="205.15" y="387.75" width="4.5" height="4.5" fill="#00ffff"/>
<rect x="199.95" y="387.75" width="4.5" height="4.5" fill="#00ffff"/>
<rect x="194.74" y="393.25" width="4.5" height="4.5" fill="#00ffff"/>
<rect x="189.54" y="393.75" width="4.5" height="4.5" fill="#00ffff"/>
<rect x="184.33" y="394.65" width="4.5" height="4.5" fill="#00ffff"/>
<rect x="179.13" y="395.15" width="4.5" height="4.5" fill="#00ffff"/>
<rect x="173.92" y="395.55" width="4.5" height="4.5" fill="#00ffff"/>
<rect x="168.72" y="396.35" width="4.5" height="4.5" fill="#00ffff"/>
<rect x="163.51" y="397.25" width="4.5" height="4.5" fill="#00ffff"/>
<rect x="158.31" y="398.05" width="4.5" height="4.5" fill="#00ffff"/>
<rect x="153.1" y="398.25" width="4.5" height="4.5" fill="#00ffff"/>
<rect x="147.9" y="398.25" width="4.5" height="4.5" fill="#00ffff"/>
<rect x="142.69" y="398.25" width="4.5" height="4.5" fill="#00ffff"/>
<rect x="137.49" y="398.25" width="4.5" height="4.5" fill="#00ffff"/>
<rect x="132.28" y="398.25" width="4.5" height="4.5" fill="#00ffff"/>
<rect x="127.08" y="398.25" width="4.5" height="4.5" fill="#00ffff"/>
<rect x="121.87" y="398.25" width="4.5" height="4.5" fill="#00ffff"/>
<rect x="116.67" y="398.25" width="4.5" height="4.5" fill="#00ffff"/>
<rect x="111.46" y="398.25" width="4.5" height="4.5" fill="#00ffff"/>
<rect x="106.26" y="398.25" width="4.5" height="4.5" fill="#00ffff"/>
<rect x="101.05" y="398.25" width="4.5" height="4.5" fill="#00ffff"/>
<rect x="95.85" y="421.95" width="4.5" height="4.5" fill="#00ffff"/>
<rect x="101.05" y="419.85" width="4.5" height="4.5" fill="#00ffff"/>
<rect x="106.26" y="417.75" width="4.5" height="4.5" fill="#00ffff"/>
<rect x="111.46" y="415.55" width="4.5" height="4.5" fill="#00ffff"/>
<rect x="116.67" y="414.35" width="4.5" height="4.5" fill="#00ffff"/>
<rect x="121.88" y="396.35" width="4.5" height="4.5" fill="#00ffff"/>
<rect x="127.08" y="395.15" width="4.5" height="4.5" fill="#00ffff"/>
<rect x="132.28" y="393.75" width="4.5" height="4.5" fill="#00ffff"/>
<rect x="137.49" y="392.35" width="4.5" height="4.5" fill="#00ffff"/>
<rect x="142.69" y="391.15" width="4.5" height="4.5" fill="#00ffff"/>
<rect x="147.9" y="390.25" width="4.5" height="4.5" fill="#00ffff"/>
<rect x="153.1" y="389.35" width="4.5" height="4.5" fill="#00ffff"/>
<rect x="158.31" y="388.85" width="4.5" height="4.5" fill="#00ffff"/>
<rect x="163.52" y="388.15" width="4.5" height="4.5" fill="#00ffff"/>
<rect x="168.72" y="387.75" width="4.5" height="4.5" fill="#00ffff"/>
<rect x="173.93" y="387.75" width="4.5" height="4.5" fill="#00ffff"/>
<rect x="179.13" y="387.75" width="4.5" height="4.5" fill="#00ffff"/>
<rect x="184.34" y="387.75" width="4.5" height="4.5" fill="#00ffff"/>
<rect x="189.54" y="387.75" width="4.5" height="4.5" fill="#00ffff"/>
<rect x="194.75" y="387.75" width="4.5" height="4.5" fill="#00ffff"/>
<rect x="199.95" y="387.75" width="4.5" height="4.5" fill="#00ffff"/>
<polyline points="202.2,389.8 207.41,383.7 212.61,378.8 217.81,378.8 223.02,378.8 228.22,378.8 233.43,378.8 238.63,378.8 243.84,378.8 249.04,378.8 254.25,378.8 259.45,378.8 264.66,378.8 269.87,378.8 275.07,378.8 280.27,378.8 285.48,378.8 290.69,378.8 295.89,378.8 301.09,378.8 306.3,331.5 301.09,333.95 295.89,336.4 290.69,338.85 285.48,341.3 280.27,343.75 275.07,382.3 269.87,382.92 264.66,383.54 259.45,384.16 254.25,384.78 249.04,385.4 243.84,389.8 238.63,389.8 233.43,389.8 228.22,389.8 223.02,389.8 217.81,389.8 212.61,389.8 207.41,389.8 202.2,389.8 196.99,389.8 191.79,389.8 186.58,389.8 181.38,389.8 176.17,389.8 170.97,389.8 165.76,395.4 160.56,401.3 155.35,401.3 150.15,401.3 144.94,401.3 139.74,401.3 134.53,401.3 129.33,401.3 124.12,401.3 118.92,401.3 113.71,401.3 108.51,401.3 103.3,401.3 98.1,462 103.3,460.55 108.51,459.09 113.71,457.64 118.92,456.18 124.12,454.73 129.33,453.27 134.53,451.82 139.74,450.36 144.94,448.91 150.15,447.45 155.35,446 160.56,401.3 165.76,401.3 170.97,401.3 176.17,401.3 181.38,401.3 186.58,401.3 191.79,401.3 196.99,401.3 202.2,389.8" fill="none" stroke="#ff9090" stroke-width="0.6" stroke-linejoin="round"/>
<circle cx="202.2" cy="389.8" r="2.4" fill="#ff0000"/>
<circle cx="207.41" cy="383.7" r="2.4" fill="#ff0000"/>
<circle cx="212.61" cy="378.8" r="2.4" fill="#ff0000"/>
<circle cx="217.81" cy="378.8" r="2.4" fill="#ff0000"/>
<circle cx="223.02" cy="378.8" r="2.4" fill="#ff0000"/>
<circle cx="228.22" cy="378.8" r="2.4" fill="#ff0000"/>
<circle cx="233.43" cy="378.8" r="2.4" fill="#ff0000"/>
<circle cx="238.63" cy="378.8" r="2.4" fill="#ff0000"/>
<circle cx="243.84" cy="378.8" r="2.4" fill="#ff0000"/>
<circle cx="249.04" cy="378.8" r="2.4" fill="#ff0000"/>
<circle cx="254.25" cy="378.8" r="2.4" fill="#ff0000"/>
<circle cx="259.45" cy="378.8" r="2.4" fill="#ff0000"/>
<circle cx="264.66" cy="378.8" r="2.4" fill="#ff0000"/>
<circle cx="269.87" cy="378.8" r="2.4" fill="#ff0000"/>
<circle cx="275.07" cy="378.8" r="2.4" fill="#ff0000"/>
<circle cx="280.27" cy="378.8" r="2.4" fill="#ff0000"/>
<circle cx="285.48" cy="378.8" r="2.4" fill="#ff0000"/>
<circle cx="290.69" cy="378.8" r="2.4" fill="#ff0000"/>
<circle cx="295.89" cy="378.8" r="2.4" fill="#ff0000"/>
<circle cx="301.09" cy="378.8" r="2.4" fill="#ff0000"/>
<circle cx="306.3" cy="331.5" r="2.4" fill="#ff0000"/>
<circle cx="301.09" cy="333.95" r="2.4" fill="#ff0000"/>
<circle cx="295.89" cy="336.4" r="2.4" fill="#ff0000"/>
<circle cx="290.69" cy="338.85" r="2.4" fill="#ff0000"/>
<circle cx="285.48" cy="341.3" r="2.4" fill="#ff0000"/>
<circle cx="280.27" cy="343.75" r="2.4" fill="#ff0000"/>
<circle cx="275.07" cy="382.3" r="2.4" fill="#ff0000"/>
<circle cx="269.87" cy="382.92" r="2.4" fill="#ff0000"/>
<circle cx="264.66" cy="383.54" r="2.4" fill="#ff0000"/>
<circle cx="259.45" cy="384.16" r="2.4" fill="#ff0000"/>
<circle cx="254.25" cy="384.78" r="2.4" fill="#ff0000"/>
<circle cx="249.04" cy="385.4" r="2.4" fill="#ff0000"/>
<circle cx="243.84" cy="389.8" r="2.4" fill="#ff0000"/>
<circle cx="238.63" cy="389.8" r="2.4" fill="#ff0000"/>
<circle cx="233.43" cy="389.8" r="2.4" fill="#ff0000"/>
<circle cx="228.22" cy="389.8" r="2.4" fill="#ff0000"/>
<circle cx="223.02" cy="389.8" r="2.4" fill="#ff0000"/>
<circle cx="217.81" cy="389.8" r="2.4" fill="#ff0000"/>
<circle cx="212.61" cy="389.8" r="2.4" fill="#ff0000"/>
<circle cx="207.41" cy="389.8" r="2.4" fill="#ff0000"/>
<circle cx="202.2" cy="389.8" r="2.4" fill="#ff0000"/>
<circle cx="196.99" cy="389.8" r="2.4" fill="#ff0000"/>
<circle cx="191.79" cy="389.8" r="2.4" fill="#ff0000"/>
<circle cx="186.58" cy="389.8" r="2.4" fill="#ff0000"/>
<circle cx="181.38" cy="389.8" r="2.4" fill="#ff0000"/>
<circle cx="176.17" cy="389.8" r="2.4" fill="#ff0000"/>
<circle cx="170.97" cy="389.8" r="2.4" fill="#ff0000"/>
<circle cx="165.76" cy="395.4" r="2.4" fill="#ff0000"/>
<circle cx="160.56" cy="401.3" r="2.4" fill="#ff0000"/>
<circle cx="155.35" cy="401.3" r="2.4" fill="#ff0000"/>
<circle cx="150.15" cy="401.3" r="2.4" fill="#ff0000"/>
<circle cx="144.94" cy="401.3" r="2.4" fill="#ff0000"/>
<circle cx="139.74" cy="401.3" r="2.4" fill="#ff0000"/>
<circle cx="134.53" cy="401.3" r="2.4" fill="#ff0000"/>
<circle cx="129.33" cy="401.3" r="2.4" fill="#ff0000"/>
<circle cx="124.12" cy="401.3" r="2.4" fill="#ff0000"/>
<circle cx="118.92" cy="401.3" r="2.4" fill="#ff0000"/>
<circle cx="113.71" cy="401.3" r="2.4" fill="#ff0000"/>
<circle cx="108.51" cy="401.3" r="2.4" fill="#ff0000"/>
<circle cx="103.3" cy="401.3" r="2.4" fill="#ff0000"/>
<circle cx="98.1" cy="462" r="2.4" fill="#ff0000"/>
<circle cx="103.3" cy="460.55" r="2.4" fill="#ff0000"/>
<circle cx="108.51" cy="459.09" r="2.4" fill="#ff0000"/>
<circle cx="113.71" cy="457.64" r="2.4" fill="#ff0000"/>
<circle cx="118.92" cy="456.18" r="2.4" fill="#ff0000"/>
<circle cx="124.12" cy="454.73" r="2.4" fill="#ff0000"/>
<circle cx="129.33" cy="453.27" r="2.4" fill="#ff0000"/>
<circle cx="134.53" cy="451.82" r="2.4" fill="#ff0000"/>
<circle cx="139.74" cy="450.36" r="2.4" fill="#ff0000"/>
<circle cx="144.94" cy="448.91" r="2.4" fill="#ff0000"/>
<circle cx="150.15" cy="447.45" r="2.4" fill="#ff0000"/>
<circle cx="155.35" cy="446" r="2.4" fill="#ff0000"/>
<circle cx="160.56" cy="401.3" r="2.4" fill="#ff0000"/>
<circle cx="165.76" cy="401.3" r="2.4" fill="#ff0000"/>
<circle cx="170.97" cy="401.3" r="2.4" fill="#ff0000"/>
<circle cx="176.17" cy="401.3" r="2.4" fill="#ff0000"/>
<circle cx="181.38" cy="401.3" r="2.4" fill="#ff0000"/>
<circle cx="186.58" cy="401.3" r="2.4" fill="#ff0000"/>
<circle cx="191.79" cy="401.3" r="2.4" fill="#ff0000"/>
<circle cx="196.99" cy="401.3" r="2.4" fill="#ff0000"/>
<circle cx="202.2" cy="389.8" r="2.4" fill="#ff0000"/>
<polyline points="202.2,389.8 207.41,383.7 212.61,378.8 217.81,378.8 223.02,378.8 228.22,378.8 233.43,378.8 238.63,378.8 243.84,378.8 249.04,378.8 254.25,378.8 259.45,378.8 264.66,378.8 269.87,378.8 275.07,378.8 280.27,378.8 285.48,378.8 290.69,378.8 295.89,378.8 301.09,378.8 306.3,339.3 301.09,341.75 295.89,378.8 290.69,378.8 285.48,378.8 280.27,378.8 275.07,382.3 269.87,382.92 264.66,383.54 259.45,384.16 254.25,384.78 249.04,385.4 243.84,389.8 238.63,389.8 233.43,389.8 228.22,389.8 223.02,389.8 217.81,389.8 212.61,389.8 207.41,389.8 202.2,389.8 196.99,389.8 191.79,389.8 186.58,389.8 181.38,389.8 176.17,389.8 170.97,389.8 165.76,395.4 160.56,401.3 155.35,401.3 150.15,401.3 144.94,401.3 139.74,401.3 134.53,401.3 129.33,401.3 124.12,401.3 118.92,401.3 113.71,401.3 108.51,401.3 103.3,401.3 98.1,466.8 103.3,464.78 108.51,462.75 113.71,460.73 118.92,458.71 124.12,456.68 129.33,454.66 134.53,452.64 139.74,450.62 144.94,448.59 150.15,446.57 155.35,444.55 160.56,442.52 165.76,440.5 170.97,401.3 176.17,401.3 181.38,401.3 186.58,401.3 191.79,401.3 196.99,401.3 202.2,389.8" fill="none" stroke="#9090ff" stroke-width="0.6" stroke-linejoin="round"/>
<polygon points="202.2,386.97 199.5,392.1 204.9,392.1" fill="#0000ff"/>
<polygon points="207.41,380.87 204.71,386 210.1,386" fill="#0000ff"/>
<polygon points="212.61,375.97 209.91,381.1 215.31,381.1" fill="#0000ff"/>
<polygon points="217.81,375.97 215.12,381.1 220.51,381.1" fill="#0000ff"/>
<polygon points="223.02,375.97 220.32,381.1 225.72,381.1" fill="#0000ff"/>
<polygon points="228.22,375.97 225.53,381.1 230.92,381.1" fill="#0000ff"/>
<polygon points="233.43,375.97 230.73,381.1 236.13,381.1" fill="#0000ff"/>
<polygon points="238.63,375.97 235.94,381.1 241.33,381.1" fill="#0000ff"/>
<polygon points="243.84,375.97 241.14,381.1 246.54,381.1" fill="#0000ff"/>
<polygon points="249.04,375.97 246.34,381.1 251.74,381.1" fill="#0000ff"/>
<polygon points="254.25,375.97 251.55,381.1 256.95,381.1" fill="#0000ff"/>
<polygon points="259.45,375.97 256.75,381.1 262.15,381.1" fill="#0000ff"/>
<polygon points="264.66,375.97 261.96,381.1 267.36,381.1" fill="#0000ff"/>
<polygon points="269.87,375.97 267.17,381.1 272.56,381.1" fill="#0000ff"/>
<polygon points="275.07,375.97 272.37,381.1 277.77,381.1" fill="#0000ff"/>
<polygon points="280.27,375.97 277.57,381.1 282.97,381.1" fill="#0000ff"/>
<polygon points="285.48,375.97 282.78,381.1 288.18,381.1" fill="#0000ff"/>
<polygon points="290.69,375.97 287.99,381.1 293.38,381.1" fill="#0000ff"/>
<polygon points="295.89,375.97 293.19,381.1 298.59,381.1" fill="#0000ff"/>
<polygon points="301.09,375.97 298.39,381.1 303.79,381.1" fill="#0000ff"/>
<polygon points="306.3,336.47 303.6,341.6 309,341.6" fill="#0000ff"/>
<polygon points="301.09,338.92 298.39,344.05 303.79,344.05" fill="#0000ff"/>
<polygon points="295.89,375.97 293.19,381.1 298.59,381.1" fill="#0000ff"/>
<polygon points="290.69,375.97 287.99,381.1 293.38,381.1" fill="#0000ff"/>
<polygon points="285.48,375.97 282.78,381.1 288.18,381.1" fill="#0000ff"/>
<polygon points="280.27,375.97 277.57,381.1 282.97,381.1" fill="#0000ff"/>
<polygon points="275.07,379.47 272.37,384.6 277.77,384.6" fill="#0000ff"/>
<polygon points="269.87,380.09 267.17,385.22 272.56,385.22" fill="#0000ff"/>
<polygon points="264.66,380.71 261.96,385.84 267.36,385.84" fill="#0000ff"/>
<polygon points="259.45,381.32 256.75,386.45 262.15,386.45" fill="#0000ff"/>
<polygon points="254.25,381.94 251.55,387.07 256.95,387.07" fill="#0000ff"/>
<polygon points="249.04,382.56 246.34,387.69 251.74,387.69" fill="#0000ff"/>
<polygon points="243.84,386.97 241.14,392.1 246.54,392.1" fill="#0000ff"/>
<polygon points="238.63,386.97 235.94,392.1 241.33,392.1" fill="#0000ff"/>
<polygon points="233.43,386.97 230.73,392.1 236.13,392.1" fill="#0000ff"/>
<polygon points="228.22,386.97 225.53,392.1 230.92,392.1" fill="#0000ff"/>
<polygon points="223.02,386.97 220.32,392.1 225.72,392.1" fill="#0000ff"/>
<polygon points="217.81,386.97 215.12,392.1 220.51,392.1" fill="#0000ff"/>
<polygon points="212.61,386.97 209.91,392.1 215.31,392.1" fill="#0000ff"/>
<polygon points="207.41,386.97 204.71,392.1 210.1,392.1" fill="#0000ff"/>
<polygon points="202.2,386.97 199.5,392.1 204.9,392.1" fill="#0000ff"/>
<polygon points="196.99,386.97 194.29,392.1 199.69,392.1" fill="#0000ff"/>
<polygon points="191.79,386.97 189.09,392.1 194.49,392.1" fill="#0000ff"/>
<polygon points="186.58,386.97 183.88,392.1 189.28,392.1" fill="#0000ff"/>
<polygon points="181.38,386.97 178.68,392.1 184.08,392.1" fill="#0000ff"/>
<polygon points="176.17,386.97 173.47,392.1 178.87,392.1" fill="#0000ff"/>
<polygon points="170.97,386.97 168.27,392.1 173.67,392.1" fill="#0000ff"/>
<polygon points="165.76,392.56 163.06,397.69 168.46,397.69" fill="#0000ff"/>
<polygon points="160.56,398.47 157.86,403.6 163.26,403.6" fill="#0000ff"/>
<polygon points="155.35,398.47 152.66,403.6 158.05,403.6" fill="#0000ff"/>
<polygon points="150.15,398.47 147.45,403.6 152.85,403.6" fill="#0000ff"/>
<polygon points="144.94,398.47 142.25,403.6 147.64,403.6" fill="#0000ff"/>
<polygon points="139.74,398.47 137.04,403.6 142.44,403.6" fill="#0000ff"/>
<polygon points="134.53,398.47 131.84,403.6 137.23,403.6" fill="#0000ff"/>
<polygon points="129.33,398.47 126.63,403.6 132.03,403.6" fill="#0000ff"/>
<polygon points="124.12,398.47 121.42,403.6 126.83,403.6" fill="#0000ff"/>
<polygon points="118.92,398.47 116.22,403.6 121.62,403.6" fill="#0000ff"/>
<polygon points="113.71,398.47 111.01,403.6 116.41,403.6" fill="#0000ff"/>
<polygon points="108.51,398.47 105.81,403.6 111.21,403.6" fill="#0000ff"/>
<polygon points="103.3,398.47 100.6,403.6 106,403.6" fill="#0000ff"/>
<polygon points="98.1,463.97 95.4,469.1 100.8,469.1" fill="#0000ff"/>
<polygon points="103.3,461.94 100.6,467.07 106,467.07" fill="#0000ff"/>
<polygon points="108.51,459.92 105.81,465.05 111.21,465.05" fill="#0000ff"/>
<polygon points="113.71,457.9 111.01,463.03 116.41,463.03" fill="#0000ff"/>
<polygon points="118.92,455.87 116.22,461 121.62,461" fill="#0000ff"/>
<polygon points="124.12,453.85 121.42,458.98 126.83,458.98" fill="#0000ff"/>
<polygon points="129.33,451.83 126.63,456.96 132.03,456.96" fill="#0000ff"/>
<polygon points="134.53,449.8 131.84,454.93 137.23,454.93" fill="#0000ff"/>
<polygon points="139.74,447.78 137.04,452.91 142.44,452.91" fill="#0000ff"/>
<polygon points="144.94,445.76 142.25,450.89 147.64,450.89" fill="#0000ff"/>
<polygon points="150.15,443.73 147.45,448.86 152.85,448.86" fill="#0000ff"/>
<polygon points="155.35,441.71 152.66,446.84 158.05,446.84" fill="#0000ff"/>
<polygon points="160.56,439.69 157.86,444.82 163.26,444.82" fill="#0000ff"/>
<polygon points="165.76,437.67 163.06,442.8 168.46,442.8" fill="#0000ff"/>
<polygon points="170.97,398.47 168.27,403.6 173.67,403.6" fill="#0000ff"/>
<polygon points="176.17,398.47 173.47,403.6 178.87,403.6" fill="#0000ff"/>
<polygon points="181.38,398.47 178.68,403.6 184.08,403.6" fill="#0000ff"/>
<polygon points="186.58,398.47 183.88,403.6 189.28,403.6" fill="#0000ff"/>
<polygon points="191.79,398.47 189.09,403.6 194.49,403.6" fill="#0000ff"/>
<polygon points="196.99,398.47 194.29,403.6 199.69,403.6" fill="#0000ff"/>
<polygon points="202.2,386.97 199.5,392.1 204.9,392.1" fill="#0000ff"/>
<polyline points="202.2,389.8 207.41,383.7 212.61,378.8 217.81,378.8 223.02,378.8 228.22,378.8 233.43,378.8 238.63,378.8 243.84,378.8 249.04,378.8 254.25,378.8 259.45,378.8 264.66,378.8 269.87,378.8 275.07,378.8 280.27,378.8 285.48,378.8 290.69,378.8 295.89,378.8 301.09,378.8 306.3,327.5 301.09,329.95 295.89,332.4 290.69,334.85 285.48,337.3 280.27,378.8 275.07,382.3 269.87,382.92 264.66,383.54 259.45,384.16 254.25,384.78 249.04,385.4 243.84,389.8 238.63,389.8 233.43,389.8 228.22,389.8 223.02,389.8 217.81,389.8 212.61,389.8 207.41,389.8 202.2,389.8 196.99,389.8 191.79,389.8 186.58,389.8 181.38,389.8 176.17,389.8 170.97,389.8 165.76,395.4 160.56,401.3 155.35,401.3 150.15,401.3 144.94,401.3 139.74,401.3 134.53,401.3 129.33,401.3 124.12,401.3 118.92,401.3 113.71,401.3 108.51,401.3 103.3,401.3 98.1,462.5 103.3,461 108.51,459.5 113.71,458 118.92,456.5 124.12,455 129.33,453.5 134.53,452 139.74,450.5 144.94,449 150.15,447.5 155.35,446 160.56,401.3 165.76,401.3 170.97,401.3 176.17,401.3 181.38,401.3 186.58,401.3 191.79,401.3 196.99,401.3 202.2,389.8" fill="none" stroke="#80c0c0" stroke-width="0.6" stroke-linejoin="round"/>
<polygon points="202.2,392.63 199.5,387.5 204.9,387.5" fill="#008080"/>
<polygon points="207.41,386.53 204.71,381.4 210.1,381.4" fill="#008080"/>
<polygon points="212.61,381.63 209.91,376.5 215.31,376.5" fill="#008080"/>
<polygon points="217.81,381.63 215.12,376.5 220.51,376.5" fill="#008080"/>
<polygon points="223.02,381.63 220.32,376.5 225.72,376.5" fill="#008080"/>
<polygon points="228.22,381.63 225.53,376.5 230.92,376.5" fill="#008080"/>
<polygon points="233.43,381.63 230.73,376.5 236.13,376.5" fill="#008080"/>
<polygon points="238.63,381.63 235.94,376.5 241.33,376.5" fill="#008080"/>
<polygon points="243.84,381.63 241.14,376.5 246.54,376.5" fill="#008080"/>
<polygon points="249.04,381.63 246.34,376.5 251.74,376.5" fill="#008080"/>
<polygon points="254.25,381.63 251.55,376.5 256.95,376.5" fill="#008080"/>
<polygon points="259.45,381.63 256.75,376.5 262.15,376.5" fill="#008080"/>
<polygon points="264.66,381.63 261.96,376.5 267.36,376.5" fill="#008080"/>
<polygon points="269.87,381.63 267.17,376.5 272.56,376.5" fill="#008080"/>
<polygon points="275.07,381.63 272.37,376.5 277.77,376.5" fill="#008080"/>
<polygon points="280.27,381.63 277.57,376.5 282.97,376.5" fill="#008080"/>
<polygon points="285.48,381.63 282.78,376.5 288.18,376.5" fill="#008080"/>
<polygon points="290.69,381.63 287.99,376.5 293.38,376.5" fill="#008080"/>
<polygon points="295.89,381.63 293.19,376.5 298.59,376.5" fill="#008080"/>
<polygon points="301.09,381.63 298.39,376.5 303.79,376.5" fill="#008080"/>
<polygon points="306.3,330.33 303.6,325.2 309,325.2" fill="#008080"/>
<polygon points="301.09,332.78 298.39,327.65 303.79,327.65" fill="#008080"/>
<polygon points="295.89,335.23 293.19,330.1 298.59,330.1" fill="#008080"/>
<polygon points="290.69,337.69 287.99,332.56 293.38,332.56" fill="#008080"/>
<polygon points="285.48,340.13 282.78,335 288.18,335" fill="#008080"/>
<polygon points="280.27,381.63 277.57,376.5 282.97,376.5" fill="#008080"/>
<polygon points="275.07,385.13 272.37,380 277.77,380" fill="#008080"/>
<polygon points="269.87,385.75 267.17,380.62 272.56,380.62" fill="#008080"/>
<polygon points="264.66,386.38 261.96,381.25 267.36,381.25" fill="#008080"/>
<polygon points="259.45,386.99 256.75,381.86 262.15,381.86" fill="#008080"/>
<polygon points="254.25,387.61 251.55,382.48 256.95,382.48" fill="#008080"/>
<polygon points="249.04,388.23 246.34,383.1 251.74,383.1" fill="#008080"/>
<polygon points="243.84,392.63 241.14,387.5 246.54,387.5" fill="#008080"/>
<polygon points="238.63,392.63 235.94,387.5 241.33,387.5" fill="#008080"/>
<polygon points="233.43,392.63 230.73,387.5 236.13,387.5" fill="#008080"/>
<polygon points="228.22,392.63 225.53,387.5 230.92,387.5" fill="#008080"/>
<polygon points="223.02,392.63 220.32,387.5 225.72,387.5" fill="#008080"/>
<polygon points="217.81,392.63 215.12,387.5 220.51,387.5" fill="#008080"/>
<polygon points="212.61,392.63 209.91,387.5 215.31,387.5" fill="#008080"/>
<polygon points="207.41,392.63 204.71,387.5 210.1,387.5" fill="#008080"/>
<polygon points="202.2,392.63 199.5,387.5 204.9,387.5" fill="#008080"/>
<polygon points="196.99,392.63 194.29,387.5 199.69,387.5" fill="#008080"/>
<polygon points="191.79,392.63 189.09,387.5 194.49,387.5" fill="#008080"/>
<polygon points="186.58,392.63 183.88,387.5 189.28,387.5" fill="#008080"/>
<polygon points="181.38,392.63 178.68,387.5 184.08,387.5" fill="#008080"/>
<polygon points="176.17,392.63 173.47,387.5 178.87,387.5" fill="#008080"/>
<polygon points="170.97,392.63 168.27,387.5 173.67,387.5" fill="#008080"/>
<polygon points="165.76,398.23 163.06,393.1 168.46,393.1" fill="#008080"/>
<polygon points="160.56,404.13 157.86,399 163.26,399" fill="#008080"/>
<polygon points="155.35,404.13 152.66,399 158.05,399" fill="#008080"/>
<polygon points="150.15,404.13 147.45,399 152.85,399" fill="#008080"/>
<polygon points="144.94,404.13 142.25,399 147.64,399" fill="#008080"/>
<polygon points="139.74,404.13 137.04,399 142.44,399" fill="#008080"/>
<polygon points="134.53,404.13 131.84,399 137.23,399" fill="#008080"/>
<polygon points="129.33,404.13 126.63,399 132.03,399" fill="#008080"/>
<polygon points="124.12,404.13 121.42,399 126.83,399" fill="#008080"/>
<polygon points="118.92,404.13 116.22,399 121.62,399" fill="#008080"/>
<polygon points="113.71,404.13 111.01,399 116.41,399" fill="#008080"/>
<polygon points="108.51,404.13 105.81,399 111.21,399" fill="#008080"/>
<polygon points="103.3,404.13 100.6,399 106,399" fill="#008080"/>
<polygon points="98.1,465.33 95.4,460.2 100.8,460.2" fill="#008080"/>
<polygon points="103.3,463.83 100.6,458.7 106,458.7" fill="#008080"/>
<polygon points="108.51,462.33 105.81,457.2 111.21,457.2" fill="#008080"/>
<polygon points="113.71,460.83 111.01,455.7 116.41,455.7" fill="#008080"/>
<polygon points="118.92,459.33 116.22,454.2 121.62,454.2" fill="#008080"/>
<polygon points="124.12,457.83 121.42,452.7 126.83,452.7" fill="#008080"/>
<polygon points="129.33,456.33 126.63,451.2 132.03,451.2" fill="#008080"/>
<polygon points="134.53,454.83 131.84,449.7 137.23,449.7" fill="#008080"/>
<polygon points="139.74,453.33 137.04,448.2 142.44,448.2" fill="#008080"/>
<polygon points="144.94,451.83 142.25,446.7 147.64,446.7" fill="#008080"/>
<polygon points="150.15,450.33 147.45,445.2 152.85,445.2" fill="#008080"/>
<polygon points="155.35,448.83 152.66,443.7 158.05,443.7" fill="#008080"/>
<polygon points="160.56,404.13 157.86,399 163.26,399" fill="#008080"/>
<polygon points="165.76,404.13 163.06,399 168.46,399" fill="#008080"/>
<polygon points="170.97,404.13 168.27,399 173.67,399" fill="#008080"/>
<polygon points="176.17,404.13 173.47,399 178.87,399" fill="#008080"/>
<polygon points="181.38,404.13 178.68,399 184.08,399" fill="#008080"/>
<polygon points="186.58,404.13 183.88,399 189.28,399" fill="#008080"/>
<polygon points="191.79,404.13 189.09,399 194.49,399" fill="#008080"/>
<polygon points="196.99,404.13 194.29,399 199.69,399" fill="#008080"/>
<polygon points="202.2,392.63 199.5,387.5 204.9,387.5" fill="#008080"/>
<polyline points="202.2,389.8 207.41,383.7 212.61,378.8 217.81,378.8 223.02,378.8 228.22,378.8 233.43,378.8 238.63,378.8 243.84,378.8 249.04,378.8 254.25,378.8 259.45,378.8 264.66,378.8 269.87,378.8 275.07,378.8 280.27,378.8 285.48,378.8 290.69,378.8 295.89,378.8 301.09,378.8 306.3,324.4 301.09,326.85 295.89,329.3 290.69,331.75 285.48,334.2 280.27,336.65 275.07,339.1 269.87,341.55 264.66,383.54 259.45,384.16 254.25,384.78 249.04,385.4 243.84,389.8 238.63,389.8 233.43,389.8 228.22,389.8 223.02,389.8 217.81,389.8 212.61,389.8 207.41,389.8 202.2,389.8 196.99,389.8 191.79,389.8 186.58,389.8 181.38,389.8 176.17,389.8 170.97,389.8 165.76,395.4 160.56,401.3 155.35,401.3 150.15,401.3 144.94,401.3 139.74,401.3 134.53,401.3 129.33,401.3 124.12,401.3 118.92,401.3 113.71,401.3 108.51,401.3 103.3,401.3 98.1,465.5 103.3,463.32 108.51,461.15 113.71,458.97 118.92,456.79 124.12,454.62 129.33,452.44 134.53,450.26 139.74,448.08 144.94,445.91 150.15,443.73 155.35,441.55 160.56,439.38 165.76,437.2 170.97,401.3 176.17,401.3 181.38,401.3 186.58,401.3 191.79,401.3 196.99,401.3 202.2,389.8" fill="none" stroke="#ff90ff" stroke-width="0.6" stroke-linejoin="round"/>
<polygon points="202.2,386.68 205.32,389.8 202.2,392.92 199.08,389.8" fill="#ff00ff"/>
<polygon points="207.41,380.58 210.53,383.7 207.41,386.82 204.28,383.7" fill="#ff00ff"/>
<polygon points="212.61,375.68 215.73,378.8 212.61,381.92 209.49,378.8" fill="#ff00ff"/>
<polygon points="217.81,375.68 220.94,378.8 217.81,381.92 214.69,378.8" fill="#ff00ff"/>
<polygon points="223.02,375.68 226.14,378.8 223.02,381.92 219.9,378.8" fill="#ff00ff"/>
<polygon points="228.22,375.68 231.34,378.8 228.22,381.92 225.1,378.8" fill="#ff00ff"/>
<polygon points="233.43,375.68 236.55,378.8 233.43,381.92 230.31,378.8" fill="#ff00ff"/>
<polygon points="238.63,375.68 241.75,378.8 238.63,381.92 235.51,378.8" fill="#ff00ff"/>
<polygon points="243.84,375.68 246.96,378.8 243.84,381.92 240.72,378.8" fill="#ff00ff"/>
<polygon points="249.04,375.68 252.16,378.8 249.04,381.92 245.92,378.8" fill="#ff00ff"/>
<polygon points="254.25,375.68 257.37,378.8 254.25,381.92 251.13,378.8" fill="#ff00ff"/>
<polygon points="259.45,375.68 262.57,378.8 259.45,381.92 256.33,378.8" fill="#ff00ff"/>
<polygon points="264.66,375.68 267.78,378.8 264.66,381.92 261.54,378.8" fill="#ff00ff"/>
<polygon points="269.87,375.68 272.99,378.8 269.87,381.92 266.75,378.8" fill="#ff00ff"/>
<polygon points="275.07,375.68 278.19,378.8 275.07,381.92 271.95,378.8" fill="#ff00ff"/>
<polygon points="280.27,375.68 283.39,378.8 280.27,381.92 277.15,378.8" fill="#ff00ff"/>
<polygon points="285.48,375.68 288.6,378.8 285.48,381.92 282.36,378.8" fill="#ff00ff"/>
<polygon points="290.69,375.68 293.81,378.8 290.69,381.92 287.56,378.8" fill="#ff00ff"/>
<polygon points="295.89,375.68 299.01,378.8 295.89,381.92 292.77,378.8" fill="#ff00ff"/>
<polygon points="301.09,375.68 304.21,378.8 301.09,381.92 297.97,378.8" fill="#ff00ff"/>
<polygon points="306.3,321.28 309.42,324.4 306.3,327.52 303.18,324.4" fill="#ff00ff"/>
<polygon points="301.09,323.73 304.21,326.85 301.09,329.97 297.97,326.85" fill="#ff00ff"/>
<polygon points="295.89,326.18 299.01,329.3 295.89,332.42 292.77,329.3" fill="#ff00ff"/>
<polygon points="290.69,328.63 293.81,331.75 290.69,334.87 287.56,331.75" fill="#ff00ff"/>
<polygon points="285.48,331.08 288.6,334.2 285.48,337.32 282.36,334.2" fill="#ff00ff"/>
<polygon points="280.27,333.53 283.39,336.65 280.27,339.77 277.15,336.65" fill="#ff00ff"/>
<polygon points="275.07,335.98 278.19,339.1 275.07,342.22 271.95,339.1" fill="#ff00ff"/>
<polygon points="269.87,338.43 272.99,341.55 269.87,344.67 266.75,341.55" fill="#ff00ff"/>
<polygon points="264.66,380.42 267.78,383.54 264.66,386.66 261.54,383.54" fill="#ff00ff"/>
<polygon points="259.45,381.04 262.57,384.16 259.45,387.28 256.33,384.16" fill="#ff00ff"/>
<polygon points="254.25,381.66 257.37,384.78 254.25,387.9 251.13,384.78" fill="#ff00ff"/>
<polygon points="249.04,382.28 252.16,385.4 249.04,388.52 245.92,385.4" fill="#ff00ff"/>
<polygon points="243.84,386.68 246.96,389.8 243.84,392.92 240.72,389.8" fill="#ff00ff"/>
<polygon points="238.63,386.68 241.75,389.8 238.63,392.92 235.51,389.8" fill="#ff00ff"/>
<polygon points="233.43,386.68 236.55,389.8 233.43,392.92 230.31,389.8" fill="#ff00ff"/>
<polygon points="228.22,386.68 231.34,389.8 228.22,392.92 225.1,389.8" fill="#ff00ff"/>
<polygon points="223.02,386.68 226.14,389.8 223.02,392.92 219.9,389.8" fill="#ff00ff"/>
<polygon points="217.81,386.68 220.94,389.8 217.81,392.92 214.69,389.8" fill="#ff00ff"/>
<polygon points="212.61,386.68 215.73,389.8 212.61,392.92 209.49,389.8" fill="#ff00ff"/>
<polygon points="207.41,386.68 210.53,389.8 207.41,392.92 204.28,389.8" fill="#ff00ff"/>
<polygon points="202.2,386.68 205.32,389.8 202.2,392.92 199.08,389.8" fill="#ff00ff"/>
<polygon points="196.99,386.68 200.11,389.8 196.99,392.92 193.87,389.8" fill="#ff00ff"/>
<polygon points="191.79,386.68 194.91,389.8 191.79,392.92 188.67,389.8" fill="#ff00ff"/>
<polygon points="186.58,386.68 189.7,389.8 186.58,392.92 183.46,389.8" fill="#ff00ff"/>
<polygon points="181.38,386.68 184.5,389.8 181.38,392.92 178.26,389.8" fill="#ff00ff"/>
<polygon points="176.17,386.68 179.29,389.8 176.17,392.92 173.05,389.8" fill="#ff00ff"/>
<polygon points="170.97,386.68 174.09,389.8 170.97,392.92 167.85,389.8" fill="#ff00ff"/>
<polygon points="165.76,392.28 168.88,395.4 165.76,398.52 162.64,395.4" fill="#ff00ff"/>
<polygon points="160.56,398.18 163.68,401.3 160.56,404.42 157.44,401.3" fill="#ff00ff"/>
<polygon points="155.35,398.18 158.47,401.3 155.35,404.42 152.23,401.3" fill="#ff00ff"/>
<polygon points="150.15,398.18 153.27,401.3 150.15,404.42 147.03,401.3" fill="#ff00ff"/>
<polygon points="144.94,398.18 148.06,401.3 144.94,404.42 141.82,401.3" fill="#ff00ff"/>
<polygon points="139.74,398.18 142.86,401.3 139.74,404.42 136.62,401.3" fill="#ff00ff"/>
<polygon points="134.53,398.18 137.66,401.3 134.53,404.42 131.41,401.3" fill="#ff00ff"/>
<polygon points="129.33,398.18 132.45,401.3 129.33,404.42 126.21,401.3" fill="#ff00ff"/>
<polygon points="124.12,398.18 127.25,401.3 124.12,404.42 121,401.3" fill="#ff00ff"/>
<polygon points="118.92,398.18 122.04,401.3 118.92,404.42 115.8,401.3" fill="#ff00ff"/>
<polygon points="113.71,398.18 116.83,401.3 113.71,404.42 110.59,401.3" fill="#ff00ff"/>
<polygon points="108.51,398.18 111.63,401.3 108.51,404.42 105.39,401.3" fill="#ff00ff"/>
<polygon points="103.3,398.18 106.42,401.3 103.3,404.42 100.18,401.3" fill="#ff00ff"/>
<polygon points="98.1,462.38 101.22,465.5 98.1,468.62 94.98,465.5" fill="#ff00ff"/>
<polygon points="103.3,460.2 106.42,463.32 103.3,466.44 100.18,463.32" fill="#ff00ff"/>
<polygon points="108.51,458.03 111.63,461.15 108.51,464.27 105.39,461.15" fill="#ff00ff"/>
<polygon points="113.71,455.85 116.83,458.97 113.71,462.09 110.59,458.97" fill="#ff00ff"/>
<polygon points="118.92,453.67 122.04,456.79 118.92,459.91 115.8,456.79" fill="#ff00ff"/>
<polygon points="124.12,451.5 127.25,454.62 124.12,457.74 121,454.62" fill="#ff00ff"/>
<polygon points="129.33,449.32 132.45,452.44 129.33,455.56 126.21,452.44" fill="#ff00ff"/>
<polygon points="134.53,447.14 137.66,450.26 134.53,453.38 131.41,450.26" fill="#ff00ff"/>
<polygon points="139.74,444.96 142.86,448.08 139.74,451.2 136.62,448.08" fill="#ff00ff"/>
<polygon points="144.94,442.79 148.06,445.91 144.94,449.03 141.82,445.91" fill="#ff00ff"/>
<polygon points="150.15,440.61 153.27,443.73 150.15,446.85 147.03,443.73" fill="#ff00ff"/>
<polygon points="155.35,438.43 158.47,441.55 155.35,444.67 152.23,441.55" fill="#ff00ff"/>
<polygon points="160.56,436.26 163.68,439.38 160.56,442.5 157.44,439.38" fill="#ff00ff"/>
<polygon points="165.76,434.08 168.88,437.2 165.76,440.32 162.64,437.2" fill="#ff00ff"/>
<polygon points="170.97,398.18 174.09,401.3 170.97,404.42 167.85,401.3" fill="#ff00ff"/>
<polygon points="176.17,398.18 179.29,401.3 176.17,404.42 173.05,401.3" fill="#ff00ff"/>
<polygon points="181.38,398.18 184.5,401.3 181.38,404.42 178.26,401.3" fill="#ff00ff"/>
<polygon points="186.58,398.18 189.7,401.3 186.58,404.42 183.46,401.3" fill="#ff00ff"/>
<polygon points="191.79,398.18 194.91,401.3 191.79,404.42 188.67,401.3" fill="#ff00ff"/>
<polygon points="196.99,398.18 200.11,401.3 196.99,404.42 193.87,401.3" fill="#ff00ff"/>
<polygon points="202.2,386.68 205.32,389.8 202.2,392.92 199.08,389.8" fill="#ff00ff"/>
<polyline points="202.2,389.8 207.41,383.7 212.61,378.8 217.81,378.8 223.02,378.8 228.22,378.8 233.43,378.8 238.63,378.8 243.84,378.8 249.04,378.8 254.25,378.8 259.45,378.8 264.66,378.8 269.87,378.8 275.07,378.8 280.27,378.8 285.48,378.8 290.69,378.8 295.89,378.8 301.09,378.8 306.3,330 301.09,332.45 295.89,334.9 290.69,337.35 285.48,339.8 280.27,342.25 275.07,344.7 269.87,382.92 264.66,383.54 259.45,384.16 254.25,384.78 249.04,385.4 243.84,389.8 238.63,389.8 233.43,389.8 228.22,389.8 223.02,389.8 217.81,389.8 212.61,389.8 207.41,389.8 202.2,389.8 196.99,389.8 191.79,389.8 186.58,389.8 181.38,389.8 176.17,389.8 170.97,389.8 165.76,395.4 160.56,401.3 155.35,401.3 150.15,401.3 144.94,401.3 139.74,401.3 134.53,401.3 129.33,401.3 124.12,401.3 118.92,401.3 113.71,401.3 108.51,401.3 103.3,401.3 98.1,461 103.3,459.55 108.51,458.09 113.71,456.64 118.92,455.18 124.12,453.73 129.33,452.27 134.53,450.82 139.74,449.36 144.94,447.91 150.15,446.45 155.35,445 160.56,401.3 165.76,401.3 170.97,401.3 176.17,401.3 181.38,401.3 186.58,401.3 191.79,401.3 196.99,401.3 202.2,389.8" fill="none" stroke="#c0c080" stroke-width="0.6" stroke-linejoin="round"/>
<polygon points="199.36,389.8 204.49,387.1 204.49,392.5" fill="#808000"/>
<polygon points="204.57,383.7 209.7,381 209.7,386.4" fill="#808000"/>
<polygon points="209.77,378.8 214.9,376.1 214.9,381.5" fill="#808000"/>
<polygon points="214.98,378.8 220.11,376.1 220.11,381.5" fill="#808000"/>
<polygon points="220.18,378.8 225.31,376.1 225.31,381.5" fill="#808000"/>
<polygon points="225.39,378.8 230.52,376.1 230.52,381.5" fill="#808000"/>
<polygon points="230.59,378.8 235.72,376.1 235.72,381.5" fill="#808000"/>
<polygon points="235.8,378.8 240.93,376.1 240.93,381.5" fill="#808000"/>
<polygon points="241,378.8 246.13,376.1 246.13,381.5" fill="#808000"/>
<polygon points="246.21,378.8 251.34,376.1 251.34,381.5" fill="#808000"/>
<polygon points="251.41,378.8 256.55,376.1 256.55,381.5" fill="#808000"/>
<polygon points="256.62,378.8 261.75,376.1 261.75,381.5" fill="#808000"/>
<polygon points="261.82,378.8 266.95,376.1 266.95,381.5" fill="#808000"/>
<polygon points="267.03,378.8 272.16,376.1 272.16,381.5" fill="#808000"/>
<polygon points="272.24,378.8 277.37,376.1 277.37,381.5" fill="#808000"/>
<polygon points="277.44,378.8 282.57,376.1 282.57,381.5" fill="#808000"/>
<polygon points="282.65,378.8 287.78,376.1 287.78,381.5" fill="#808000"/>
<polygon points="287.85,378.8 292.98,376.1 292.98,381.5" fill="#808000"/>
<polygon points="293.06,378.8 298.19,376.1 298.19,381.5" fill="#808000"/>
<polygon points="298.26,378.8 303.39,376.1 303.39,381.5" fill="#808000"/>
<polygon points="303.46,330 308.59,327.3 308.59,332.7" fill="#808000"/>
<polygon points="298.26,332.45 303.39,329.75 303.39,335.15" fill="#808000"/>
<polygon points="293.06,334.9 298.19,332.2 298.19,337.6" fill="#808000"/>
<polygon points="287.85,337.35 292.98,334.65 292.98,340.05" fill="#808000"/>
<polygon points="282.65,339.8 287.78,337.1 287.78,342.5" fill="#808000"/>
<polygon points="277.44,342.25 282.57,339.55 282.57,344.95" fill="#808000"/>
<polygon points="272.24,344.7 277.37,342 277.37,347.4" fill="#808000"/>
<polygon points="267.03,382.92 272.16,380.22 272.16,385.62" fill="#808000"/>
<polygon points="261.82,383.54 266.95,380.84 266.95,386.24" fill="#808000"/>
<polygon points="256.62,384.16 261.75,381.46 261.75,386.86" fill="#808000"/>
<polygon points="251.41,384.78 256.55,382.08 256.55,387.48" fill="#808000"/>
<polygon points="246.21,385.4 251.34,382.7 251.34,388.1" fill="#808000"/>
<polygon points="241,389.8 246.13,387.1 246.13,392.5" fill="#808000"/>
<polygon points="235.8,389.8 240.93,387.1 240.93,392.5" fill="#808000"/>
<polygon points="230.59,389.8 235.72,387.1 235.72,392.5" fill="#808000"/>
<polygon points="225.39,389.8 230.52,387.1 230.52,392.5" fill="#808000"/>
<polygon points="220.18,389.8 225.31,387.1 225.31,392.5" fill="#808000"/>
<polygon points="214.98,389.8 220.11,387.1 220.11,392.5" fill="#808000"/>
<polygon points="209.77,389.8 214.9,387.1 214.9,392.5" fill="#808000"/>
<polygon points="204.57,389.8 209.7,387.1 209.7,392.5" fill="#808000"/>
<polygon points="199.36,389.8 204.49,387.1 204.49,392.5" fill="#808000"/>
<polygon points="194.16,389.8 199.29,387.1 199.29,392.5" fill="#808000"/>
<polygon points="188.95,389.8 194.08,387.1 194.08,392.5" fill="#808000"/>
<polygon points="183.75,389.8 188.88,387.1 188.88,392.5" fill="#808000"/>
<polygon points="178.54,389.8 183.67,387.1 183.67,392.5" fill="#808000"/>
<polygon points="173.34,389.8 178.47,387.1 178.47,392.5" fill="#808000"/>
<polygon points="168.13,389.8 173.26,387.1 173.26,392.5" fill="#808000"/>
<polygon points="162.93,395.4 168.06,392.7 168.06,398.1" fill="#808000"/>
<polygon points="157.72,401.3 162.85,398.6 162.85,404" fill="#808000"/>
<polygon points="152.52,401.3 157.65,398.6 157.65,404" fill="#808000"/>
<polygon points="147.31,401.3 152.44,398.6 152.44,404" fill="#808000"/>
<polygon points="142.11,401.3 147.24,398.6 147.24,404" fill="#808000"/>
<polygon points="136.91,401.3 142.03,398.6 142.03,404" fill="#808000"/>
<polygon points="131.7,401.3 136.83,398.6 136.83,404" fill="#808000"/>
<polygon points="126.49,401.3 131.62,398.6 131.62,404" fill="#808000"/>
<polygon points="121.29,401.3 126.42,398.6 126.42,404" fill="#808000"/>
<polygon points="116.08,401.3 121.21,398.6 121.21,404" fill="#808000"/>
<polygon points="110.88,401.3 116.01,398.6 116.01,404" fill="#808000"/>
<polygon points="105.67,401.3 110.8,398.6 110.8,404" fill="#808000"/>
<polygon points="100.47,401.3 105.6,398.6 105.6,404" fill="#808000"/>
<polygon points="95.27,461 100.39,458.3 100.39,463.7" fill="#808000"/>
<polygon points="100.47,459.55 105.6,456.85 105.6,462.25" fill="#808000"/>
<polygon points="105.67,458.09 110.8,455.39 110.8,460.79" fill="#808000"/>
<polygon points="110.88,456.64 116.01,453.94 116.01,459.34" fill="#808000"/>
<polygon points="116.08,455.18 121.21,452.48 121.21,457.88" fill="#808000"/>
<polygon points="121.29,453.73 126.42,451.03 126.42,456.43" fill="#808000"/>
<polygon points="126.49,452.27 131.62,449.57 131.62,454.97" fill="#808000"/>
<polygon points="131.7,450.82 136.83,448.12 136.83,453.52" fill="#808000"/>
<polygon points="136.91,449.36 142.03,446.66 142.03,452.06" fill="#808000"/>
<polygon points="142.11,447.91 147.24,445.21 147.24,450.61" fill="#808000"/>
<polygon points="147.31,446.45 152.44,443.75 152.44,449.15" fill="#808000"/>
<polygon points="152.52,445 157.65,442.3 157.65,447.7" fill="#808000"/>
<polygon points="157.72,401.3 162.85,398.6 162.85,404" fill="#808000"/>
<polygon points="162.93,401.3 168.06,398.6 168.06,404" fill="#808000"/>
<polygon points="168.13,401.3 173.26,398.6 173.26,404" fill="#808000"/>
<polygon points="173.34,401.3 178.47,398.6 178.47,404" fill="#808000"/>
<polygon points="178.54,401.3 183.67,398.6 183.67,404" fill="#808000"/>
<polygon points="183.75,401.3 188.88,398.6 188.88,404" fill="#808000"/>
<polygon points="188.95,401.3 194.08,398.6 194.08,404" fill="#808000"/>
<polygon points="194.16,401.3 199.29,398.6 199.29,404" fill="#808000"/>
<polygon points="199.36,389.8 204.49,387.1 204.49,392.5" fill="#808000"/>
<polyline points="202.2,389.8 207.41,383.7 212.61,378.8 217.81,378.8 223.02,378.8 228.22,378.8 233.43,378.8 238.63,378.8 243.84,378.8 249.04,378.8 254.25,378.8 259.45,378.8 264.66,378.8 269.87,378.8 275.07,378.8 280.27,378.8 285.48,378.8 290.69,378.8 295.89,378.8 301.09,378.8 306.3,335 301.09,337.45 295.89,339.9 290.69,342.35 285.48,378.8 280.27,378.8 275.07,382.3 269.87,382.92 264.66,383.54 259.45,384.16 254.25,384.78 249.04,385.4 243.84,389.8 238.63,389.8 233.43,389.8 228.22,389.8 223.02,389.8 217.81,389.8 212.61,389.8 207.41,389.8 202.2,389.8 196.99,389.8 191.79,389.8 186.58,389.8 181.38,389.8 176.17,389.8 170.97,389.8 165.76,395.4 160.56,401.3 155.35,401.3 150.15,401.3 144.94,401.3 139.74,401.3 134.53,401.3 129.33,401.3 124.12,401.3 118.92,401.3 113.71,401.3 108.51,401.3 103.3,401.3 98.1,459.5 103.3,457.88 108.51,456.25 113.71,454.62 118.92,453 124.12,451.38 129.33,449.75 134.53,448.12 139.74,446.5 144.94,444.88 150.15,443.25 155.35,441.62 160.56,440 165.76,401.3 170.97,401.3 176.17,401.3 181.38,401.3 186.58,401.3 191.79,401.3 196.99,401.3 202.2,389.8" fill="none" stroke="#9090c0" stroke-width="0.6" stroke-linejoin="round"/>
<polygon points="202.2,392.63 199.5,387.5 204.9,387.5" fill="#000080"/>
<polygon points="207.41,386.53 204.71,381.4 210.1,381.4" fill="#000080"/>
<polygon points="212.61,381.63 209.91,376.5 215.31,376.5" fill="#000080"/>
<polygon points="217.81,381.63 215.12,376.5 220.51,376.5" fill="#000080"/>
<polygon points="223.02,381.63 220.32,376.5 225.72,376.5" fill="#000080"/>
<polygon points="228.22,381.63 225.53,376.5 230.92,376.5" fill="#000080"/>
<polygon points="233.43,381.63 230.73,376.5 236.13,376.5" fill="#000080"/>
<polygon points="238.63,381.63 235.94,376.5 241.33,376.5" fill="#000080"/>
<polygon points="243.84,381.63 241.14,376.5 246.54,376.5" fill="#000080"/>
<polygon points="249.04,381.63 246.34,376.5 251.74,376.5" fill="#000080"/>
<polygon points="254.25,381.63 251.55,376.5 256.95,376.5" fill="#000080"/>
<polygon points="259.45,381.63 256.75,376.5 262.15,376.5" fill="#000080"/>
<polygon points="264.66,381.63 261.96,376.5 267.36,376.5" fill="#000080"/>
<polygon points="269.87,381.63 267.17,376.5 272.56,376.5" fill="#000080"/>
<polygon points="275.07,381.63 272.37,376.5 277.77,376.5" fill="#000080"/>
<polygon points="280.27,381.63 277.57,376.5 282.97,376.5" fill="#000080"/>
<polygon points="285.48,381.63 282.78,376.5 288.18,376.5" fill="#000080"/>
<polygon points="290.69,381.63 287.99,376.5 293.38,376.5" fill="#000080"/>
<polygon points="295.89,381.63 293.19,376.5 298.59,376.5" fill="#000080"/>
<polygon points="301.09,381.63 298.39,376.5 303.79,376.5" fill="#000080"/>
<polygon points="306.3,337.83 303.6,332.7 309,332.7" fill="#000080"/>
<polygon points="301.09,340.28 298.39,335.15 303.79,335.15" fill="#000080"/>
<polygon points="295.89,342.73 293.19,337.6 298.59,337.6" fill="#000080"/>
<polygon points="290.69,345.19 287.99,340.06 293.38,340.06" fill="#000080"/>
<polygon points="285.48,381.63 282.78,376.5 288.18,376.5" fill="#000080"/>
<polygon points="280.27,381.63 277.57,376.5 282.97,376.5" fill="#000080"/>
<polygon points="275.07,385.13 272.37,380 277.77,380" fill="#000080"/>
<polygon points="269.87,385.75 267.17,380.62 272.56,380.62" fill="#000080"/>
<polygon points="264.66,386.38 261.96,381.25 267.36,381.25" fill="#000080"/>
<polygon points="259.45,386.99 256.75,381.86 262.15,381.86" fill="#000080"/>
<polygon points="254.25,387.61 251.55,382.48 256.95,382.48" fill="#000080"/>
<polygon points="249.04,388.23 246.34,383.1 251.74,383.1" fill="#000080"/>
<polygon points="243.84,392.63 241.14,387.5 246.54,387.5" fill="#000080"/>
<polygon points="238.63,392.63 235.94,387.5 241.33,387.5" fill="#000080"/>
<polygon points="233.43,392.63 230.73,387.5 236.13,387.5" fill="#000080"/>
<polygon points="228.22,392.63 225.53,387.5 230.92,387.5" fill="#000080"/>
<polygon points="223.02,392.63 220.32,387.5 225.72,387.5" fill="#000080"/>
<polygon points="217.81,392.63 215.12,387.5 220.51,387.5" fill="#000080"/>
<polygon points="212.61,392.63 209.91,387.5 215.31,387.5" fill="#000080"/>
<polygon points="207.41,392.63 204.71,387.5 210.1,387.5" fill="#000080"/>
<polygon points="202.2,392.63 199.5,387.5 204.9,387.5" fill="#000080"/>
<polygon points="196.99,392.63 194.29,387.5 199.69,387.5" fill="#000080"/>
<polygon points="191.79,392.63 189.09,387.5 194.49,387.5" fill="#000080"/>
<polygon points="186.58,392.63 183.88,387.5 189.28,387.5" fill="#000080"/>
<polygon points="181.38,392.63 178.68,387.5 184.08,387.5" fill="#000080"/>
<polygon points="176.17,392.63 173.47,387.5 178.87,387.5" fill="#000080"/>
<polygon points="170.97,392.63 168.27,387.5 173.67,387.5" fill="#000080"/>
<polygon points="165.76,398.23 163.06,393.1 168.46,393.1" fill="#000080"/>
<polygon points="160.56,404.13 157.86,399 163.26,399" fill="#000080"/>
<polygon points="155.35,404.13 152.66,399 158.05,399" fill="#000080"/>
<polygon points="150.15,404.13 147.45,399 152.85,399" fill="#000080"/>
<polygon points="144.94,404.13 142.25,399 147.64,399" fill="#000080"/>
<polygon points="139.74,404.13 137.04,399 142.44,399" fill="#000080"/>
<polygon points="134.53,404.13 131.84,399 137.23,399" fill="#000080"/>
<polygon points="129.33,404.13 126.63,399 132.03,399" fill="#000080"/>
<polygon points="124.12,404.13 121.42,399 126.83,399" fill="#000080"/>
<polygon points="118.92,404.13 116.22,399 121.62,399" fill="#000080"/>
<polygon points="113.71,404.13 111.01,399 116.41,399" fill="#000080"/>
<polygon points="108.51,404.13 105.81,399 111.21,399" fill="#000080"/>
<polygon points="103.3,404.13 100.6,399 106,399" fill="#000080"/>
<polygon points="98.1,462.33 95.4,457.2 100.8,457.2" fill="#000080"/>
<polygon points="103.3,460.71 100.6,455.58 106,455.58" fill="#000080"/>
<polygon points="108.51,459.08 105.81,453.95 111.21,453.95" fill="#000080"/>
<polygon points="113.71,457.46 111.01,452.33 116.41,452.33" fill="#000080"/>
<polygon points="118.92,455.83 116.22,450.7 121.62,450.7" fill="#000080"/>
<polygon points="124.12,454.21 121.42,449.08 126.83,449.08" fill="#000080"/>
<polygon points="129.33,452.58 126.63,447.45 132.03,447.45" fill="#000080"/>
<polygon points="134.53,450.96 131.84,445.83 137.23,445.83" fill="#000080"/>
<polygon points="139.74,449.33 137.04,444.2 142.44,444.2" fill="#000080"/>
<polygon points="144.94,447.71 142.25,442.58 147.64,442.58" fill="#000080"/>
<polygon points="150.15,446.08 147.45,440.95 152.85,440.95" fill="#000080"/>
<polygon points="155.35,444.46 152.66,439.33 158.05,439.33" fill="#000080"/>
<polygon points="160.56,442.83 157.86,437.7 163.26,437.7" fill="#000080"/>
<polygon points="165.76,404.13 163.06,399 168.46,399" fill="#000080"/>
<polygon points="170.97,404.13 168.27,399 173.67,399" fill="#000080"/>
<polygon points="176.17,404.13 173.47,399 178.87,399" fill="#000080"/>
<polygon points="181.38,404.13 178.68,399 184.08,399" fill="#000080"/>
<polygon points="186.58,404.13 183.88,399 189.28,399" fill="#000080"/>
<polygon points="191.79,404.13 189.09,399 194.49,399" fill="#000080"/>
<polygon points="196.99,404.13 194.29,399 199.69,399" fill="#000080"/>
<polygon points="202.2,392.63 199.5,387.5 204.9,387.5" fill="#000080"/>
<polyline points="202.2,389.8 207.41,383.7 212.61,378.8 217.81,378.8 223.02,378.8 228.22,378.8 233.43,378.8 238.63,378.8 243.84,378.8 249.04,378.8 254.25,378.8 259.45,378.8 264.66,378.8 269.87,378.8 275.07,378.8 280.27,378.8 285.48,378.8 290.69,378.8 295.89,378.8 301.09,378.8 306.3,336.5 301.09,338.95 295.89,341.4 290.69,378.8 285.48,378.8 280.27,378.8 275.07,382.3 269.87,382.92 264.66,383.54 259.45,384.16 254.25,384.78 249.04,385.4 243.84,389.8 238.63,389.8 233.43,389.8 228.22,389.8 223.02,389.8 217.81,389.8 212.61,389.8 207.41,389.8 202.2,389.8 196.99,389.8 191.79,389.8 186.58,389.8 181.38,389.8 176.17,389.8 170.97,389.8 165.76,395.4 160.56,401.3 155.35,401.3 150.15,401.3 144.94,401.3 139.74,401.3 134.53,401.3 129.33,401.3 124.12,401.3 118.92,401.3 113.71,401.3 108.51,401.3 103.3,401.3 98.1,461.5 103.3,459.38 108.51,457.25 113.71,455.12 118.92,453 124.12,450.88 129.33,448.75 134.53,446.62 139.74,444.5 144.94,442.38 150.15,440.25 155.35,438.12 160.56,436 165.76,401.3 170.97,401.3 176.17,401.3 181.38,401.3 186.58,401.3 191.79,401.3 196.99,401.3 202.2,389.8" fill="none" stroke="#c09090" stroke-width="0.6" stroke-linejoin="round"/>
<polygon points="205.03,389.8 199.91,387.1 199.91,392.5" fill="#800000"/>
<polygon points="210.24,383.7 205.11,381 205.11,386.4" fill="#800000"/>
<polygon points="215.44,378.8 210.31,376.1 210.31,381.5" fill="#800000"/>
<polygon points="220.65,378.8 215.52,376.1 215.52,381.5" fill="#800000"/>
<polygon points="225.85,378.8 220.72,376.1 220.72,381.5" fill="#800000"/>
<polygon points="231.06,378.8 225.93,376.1 225.93,381.5" fill="#800000"/>
<polygon points="236.27,378.8 231.14,376.1 231.14,381.5" fill="#800000"/>
<polygon points="241.47,378.8 236.34,376.1 236.34,381.5" fill="#800000"/>
<polygon points="246.67,378.8 241.54,376.1 241.54,381.5" fill="#800000"/>
<polygon points="251.88,378.8 246.75,376.1 246.75,381.5" fill="#800000"/>
<polygon points="257.08,378.8 251.96,376.1 251.96,381.5" fill="#800000"/>
<polygon points="262.29,378.8 257.16,376.1 257.16,381.5" fill="#800000"/>
<polygon points="267.49,378.8 262.36,376.1 262.36,381.5" fill="#800000"/>
<polygon points="272.7,378.8 267.57,376.1 267.57,381.5" fill="#800000"/>
<polygon points="277.9,378.8 272.77,376.1 272.77,381.5" fill="#800000"/>
<polygon points="283.11,378.8 277.98,376.1 277.98,381.5" fill="#800000"/>
<polygon points="288.31,378.8 283.19,376.1 283.19,381.5" fill="#800000"/>
<polygon points="293.52,378.8 288.39,376.1 288.39,381.5" fill="#800000"/>
<polygon points="298.72,378.8 293.59,376.1 293.59,381.5" fill="#800000"/>
<polygon points="303.93,378.8 298.8,376.1 298.8,381.5" fill="#800000"/>
<polygon points="309.13,336.5 304,333.8 304,339.2" fill="#800000"/>
<polygon points="303.93,338.95 298.8,336.25 298.8,341.65" fill="#800000"/>
<polygon points="298.72,341.4 293.59,338.7 293.59,344.1" fill="#800000"/>
<polygon points="293.52,378.8 288.39,376.1 288.39,381.5" fill="#800000"/>
<polygon points="288.31,378.8 283.19,376.1 283.19,381.5" fill="#800000"/>
<polygon points="283.11,378.8 277.98,376.1 277.98,381.5" fill="#800000"/>
<polygon points="277.9,382.3 272.77,379.6 272.77,385" fill="#800000"/>
<polygon points="272.7,382.92 267.57,380.22 267.57,385.62" fill="#800000"/>
<polygon points="267.49,383.54 262.36,380.84 262.36,386.24" fill="#800000"/>
<polygon points="262.29,384.16 257.16,381.46 257.16,386.86" fill="#800000"/>
<polygon points="257.08,384.78 251.96,382.08 251.96,387.48" fill="#800000"/>
<polygon points="251.88,385.4 246.75,382.7 246.75,388.1" fill="#800000"/>
<polygon points="246.67,389.8 241.54,387.1 241.54,392.5" fill="#800000"/>
<polygon points="241.47,389.8 236.34,387.1 236.34,392.5" fill="#800000"/>
<polygon points="236.26,389.8 231.13,387.1 231.13,392.5" fill="#800000"/>
<polygon points="231.06,389.8 225.93,387.1 225.93,392.5" fill="#800000"/>
<polygon points="225.85,389.8 220.72,387.1 220.72,392.5" fill="#800000"/>
<polygon points="220.65,389.8 215.52,387.1 215.52,392.5" fill="#800000"/>
<polygon points="215.44,389.8 210.31,387.1 210.31,392.5" fill="#800000"/>
<polygon points="210.24,389.8 205.11,387.1 205.11,392.5" fill="#800000"/>
<polygon points="205.03,389.8 199.91,387.1 199.91,392.5" fill="#800000"/>
<polygon points="199.83,389.8 194.7,387.1 194.7,392.5" fill="#800000"/>
<polygon points="194.62,389.8 189.5,387.1 189.5,392.5" fill="#800000"/>
<polygon points="189.42,389.8 184.29,387.1 184.29,392.5" fill="#800000"/>
<polygon points="184.22,389.8 179.09,387.1 179.09,392.5" fill="#800000"/>
<polygon points="179.01,389.8 173.88,387.1 173.88,392.5" fill="#800000"/>
<polygon points="173.81,389.8 168.68,387.1 168.68,392.5" fill="#800000"/>
<polygon points="168.6,395.4 163.47,392.7 163.47,398.1" fill="#800000"/>
<polygon points="163.4,401.3 158.27,398.6 158.27,404" fill="#800000"/>
<polygon points="158.19,401.3 153.06,398.6 153.06,404" fill="#800000"/>
<polygon points="152.98,401.3 147.85,398.6 147.85,404" fill="#800000"/>
<polygon points="147.78,401.3 142.65,398.6 142.65,404" fill="#800000"/>
<polygon points="142.58,401.3 137.45,398.6 137.45,404" fill="#800000"/>
<polygon points="137.37,401.3 132.24,398.6 132.24,404" fill="#800000"/>
<polygon points="132.16,401.3 127.03,398.6 127.03,404" fill="#800000"/>
<polygon points="126.96,401.3 121.83,398.6 121.83,404" fill="#800000"/>
<polygon points="121.75,401.3 116.62,398.6 116.62,404" fill="#800000"/>
<polygon points="116.55,401.3 111.42,398.6 111.42,404" fill="#800000"/>
<polygon points="111.34,401.3 106.21,398.6 106.21,404" fill="#800000"/>
<polygon points="106.14,401.3 101.01,398.6 101.01,404" fill="#800000"/>
<polygon points="100.93,461.5 95.8,458.8 95.8,464.2" fill="#800000"/>
<polygon points="106.14,459.38 101.01,456.68 101.01,462.07" fill="#800000"/>
<polygon points="111.34,457.25 106.21,454.55 106.21,459.95" fill="#800000"/>
<polygon points="116.55,455.12 111.42,452.43 111.42,457.82" fill="#800000"/>
<polygon points="121.75,453 116.62,450.3 116.62,455.7" fill="#800000"/>
<polygon points="126.96,450.88 121.83,448.18 121.83,453.57" fill="#800000"/>
<polygon points="132.16,448.75 127.03,446.05 127.03,451.45" fill="#800000"/>
<polygon points="137.37,446.62 132.24,443.93 132.24,449.32" fill="#800000"/>
<polygon points="142.58,444.5 137.45,441.8 137.45,447.2" fill="#800000"/>
<polygon points="147.78,442.38 142.65,439.68 142.65,445.07" fill="#800000"/>
<polygon points="152.98,440.25 147.85,437.55 147.85,442.95" fill="#800000"/>
<polygon points="158.19,438.12 153.06,435.43 153.06,440.82" fill="#800000"/>
<polygon points="163.4,436 158.27,433.3 158.27,438.7" fill="#800000"/>
<polygon points="168.6,401.3 163.47,398.6 163.47,404" fill="#800000"/>
<polygon points="173.81,401.3 168.68,398.6 168.68,404" fill="#800000"/>
<polygon points="179.01,401.3 173.88,398.6 173.88,404" fill="#800000"/>
<polygon points="184.22,401.3 179.09,398.6 179.09,404" fill="#800000"/>
<polygon points="189.42,401.3 184.29,398.6 184.29,404" fill="#800000"/>
<polygon points="194.62,401.3 189.5,398.6 189.5,404" fill="#800000"/>
<polygon points="199.83,401.3 194.7,398.6 194.7,404" fill="#800000"/>
<polygon points="205.03,389.8 199.91,387.1 199.91,392.5" fill="#800000"/>
<polyline points="202.2,389.8 207.41,383.7 212.61,378.8 217.81,378.8 223.02,378.8 228.22,378.8 233.43,378.8 238.63,378.8 243.84,378.8 249.04,378.8 254.25,378.8 259.45,378.8 264.66,378.8 269.87,378.8 275.07,378.8 280.27,378.8 285.48,378.8 290.69,378.8 295.89,378.8 301.09,378.8 306.3,378.8 301.09,378.8 295.89,378.8 290.69,378.8 285.48,378.8 280.27,378.8 275.07,382.3 269.87,382.92 264.66,383.54 259.45,384.16 254.25,384.78 249.04,385.4 243.84,389.8 238.63,389.8 233.43,389.8 228.22,389.8 223.02,389.8 217.81,389.8 212.61,389.8 207.41,389.8 202.2,389.8 196.99,389.8 191.79,389.8 186.58,389.8 181.38,389.8 176.17,389.8 170.97,389.8 165.76,395.4 160.56,401.3 155.35,401.3 150.15,401.3 144.94,401.3 139.74,401.3 134.53,401.3 129.33,401.3 124.12,401.3 118.92,401.3 113.71,401.3 108.51,401.3 103.3,401.3 98.1,457.8 103.3,456.2 108.51,454.6 113.71,453 118.92,451.4 124.12,449.8 129.33,448.2 134.53,446.6 139.74,445 144.94,443.4 150.15,441.8 155.35,440.2 160.56,401.3 165.76,401.3 170.97,401.3 176.17,401.3 181.38,401.3 186.58,401.3 191.79,401.3 196.99,401.3 202.2,389.8" fill="none" stroke="#ff90c0" stroke-width="0.6" stroke-linejoin="round"/>
<rect x="200.1" y="387.7" width="4.2" height="4.2" fill="#ff0080"/>
<rect x="205.31" y="381.6" width="4.2" height="4.2" fill="#ff0080"/>
<rect x="210.51" y="376.7" width="4.2" height="4.2" fill="#ff0080"/>
<rect x="215.72" y="376.7" width="4.2" height="4.2" fill="#ff0080"/>
<rect x="220.92" y="376.7" width="4.2" height="4.2" fill="#ff0080"/>
<rect x="226.12" y="376.7" width="4.2" height="4.2" fill="#ff0080"/>
<rect x="231.33" y="376.7" width="4.2" height="4.2" fill="#ff0080"/>
<rect x="236.53" y="376.7" width="4.2" height="4.2" fill="#ff0080"/>
<rect x="241.74" y="376.7" width="4.2" height="4.2" fill="#ff0080"/>
<rect x="246.94" y="376.7" width="4.2" height="4.2" fill="#ff0080"/>
<rect x="252.15" y="376.7" width="4.2" height="4.2" fill="#ff0080"/>
<rect x="257.35" y="376.7" width="4.2" height="4.2" fill="#ff0080"/>
<rect x="262.56" y="376.7" width="4.2" height="4.2" fill="#ff0080"/>
<rect x="267.76" y="376.7" width="4.2" height="4.2" fill="#ff0080"/>
<rect x="272.97" y="376.7" width="4.2" height="4.2" fill="#ff0080"/>
<rect x="278.17" y="376.7" width="4.2" height="4.2" fill="#ff0080"/>
<rect x="283.38" y="376.7" width="4.2" height="4.2" fill="#ff0080"/>
<rect x="288.58" y="376.7" width="4.2" height="4.2" fill="#ff0080"/>
<rect x="293.79" y="376.7" width="4.2" height="4.2" fill="#ff0080"/>
<rect x="298.99" y="376.7" width="4.2" height="4.2" fill="#ff0080"/>
<rect x="304.2" y="376.7" width="4.2" height="4.2" fill="#ff0080"/>
<rect x="298.99" y="376.7" width="4.2" height="4.2" fill="#ff0080"/>
<rect x="293.79" y="376.7" width="4.2" height="4.2" fill="#ff0080"/>
<rect x="288.58" y="376.7" width="4.2" height="4.2" fill="#ff0080"/>
<rect x="283.38" y="376.7" width="4.2" height="4.2" fill="#ff0080"/>
<rect x="278.17" y="376.7" width="4.2" height="4.2" fill="#ff0080"/>
<rect x="272.97" y="380.2" width="4.2" height="4.2" fill="#ff0080"/>
<rect x="267.76" y="380.82" width="4.2" height="4.2" fill="#ff0080"/>
<rect x="262.56" y="381.44" width="4.2" height="4.2" fill="#ff0080"/>
<rect x="257.35" y="382.06" width="4.2" height="4.2" fill="#ff0080"/>
<rect x="252.15" y="382.68" width="4.2" height="4.2" fill="#ff0080"/>
<rect x="246.94" y="383.3" width="4.2" height="4.2" fill="#ff0080"/>
<rect x="241.74" y="387.7" width="4.2" height="4.2" fill="#ff0080"/>
<rect x="236.53" y="387.7" width="4.2" height="4.2" fill="#ff0080"/>
<rect x="231.33" y="387.7" width="4.2" height="4.2" fill="#ff0080"/>
<rect x="226.12" y="387.7" width="4.2" height="4.2" fill="#ff0080"/>
<rect x="220.92" y="387.7" width="4.2" height="4.2" fill="#ff0080"/>
<rect x="215.72" y="387.7" width="4.2" height="4.2" fill="#ff0080"/>
<rect x="210.51" y="387.7" width="4.2" height="4.2" fill="#ff0080"/>
<rect x="205.31" y="387.7" width="4.2" height="4.2" fill="#ff0080"/>
<rect x="200.1" y="387.7" width="4.2" height="4.2" fill="#ff0080"/>
<rect x="194.89" y="387.7" width="4.2" height="4.2" fill="#ff0080"/>
<rect x="189.69" y="387.7" width="4.2" height="4.2" fill="#ff0080"/>
<rect x="184.48" y="387.7" width="4.2" height="4.2" fill="#ff0080"/>
<rect x="179.28" y="387.7" width="4.2" height="4.2" fill="#ff0080"/>
<rect x="174.07" y="387.7" width="4.2" height="4.2" fill="#ff0080"/>
<rect x="168.87" y="387.7" width="4.2" height="4.2" fill="#ff0080"/>
<rect x="163.66" y="393.3" width="4.2" height="4.2" fill="#ff0080"/>
<rect x="158.46" y="399.2" width="4.2" height="4.2" fill="#ff0080"/>
<rect x="153.25" y="399.2" width="4.2" height="4.2" fill="#ff0080"/>
<rect x="148.05" y="399.2" width="4.2" height="4.2" fill="#ff0080"/>
<rect x="142.84" y="399.2" width="4.2" height="4.2" fill="#ff0080"/>
<rect x="137.64" y="399.2" width="4.2" height="4.2" fill="#ff0080"/>
<rect x="132.44" y="399.2" width="4.2" height="4.2" fill="#ff0080"/>
<rect x="127.23" y="399.2" width="4.2" height="4.2" fill="#ff0080"/>
<rect x="122.03" y="399.2" width="4.2" height="4.2" fill="#ff0080"/>
<rect x="116.82" y="399.2" width="4.2" height="4.2" fill="#ff0080"/>
<rect x="111.61" y="399.2" width="4.2" height="4.2" fill="#ff0080"/>
<rect x="106.41" y="399.2" width="4.2" height="4.2" fill="#ff0080"/>
<rect x="101.2" y="399.2" width="4.2" height="4.2" fill="#ff0080"/>
<rect x="96" y="455.7" width="4.2" height="4.2" fill="#ff0080"/>
<rect x="101.2" y="454.1" width="4.2" height="4.2" fill="#ff0080"/>
<rect x="106.41" y="452.5" width="4.2" height="4.2" fill="#ff0080"/>
<rect x="111.61" y="450.9" width="4.2" height="4.2" fill="#ff0080"/>
<rect x="116.82" y="449.3" width="4.2" height="4.2" fill="#ff0080"/>
<rect x="122.03" y="447.7" width="4.2" height="4.2" fill="#ff0080"/>
<rect x="127.23" y="446.1" width="4.2" height="4.2" fill="#ff0080"/>
<rect x="132.44" y="444.5" width="4.2" height="4.2" fill="#ff0080"/>
<rect x="137.64" y="442.9" width="4.2" height="4.2" fill="#ff0080"/>
<rect x="142.84" y="441.3" width="4.2" height="4.2" fill="#ff0080"/>
<rect x="148.05" y="439.7" width="4.2" height="4.2" fill="#ff0080"/>
<rect x="153.25" y="438.1" width="4.2" height="4.2" fill="#ff0080"/>
<rect x="158.46" y="399.2" width="4.2" height="4.2" fill="#ff0080"/>
<rect x="163.66" y="399.2" width="4.2" height="4.2" fill="#ff0080"/>
<rect x="168.87" y="399.2" width="4.2" height="4.2" fill="#ff0080"/>
<rect x="174.07" y="399.2" width="4.2" height="4.2" fill="#ff0080"/>
<rect x="179.28" y="399.2" width="4.2" height="4.2" fill="#ff0080"/>
<rect x="184.48" y="399.2" width="4.2" height="4.2" fill="#ff0080"/>
<rect x="189.69" y="399.2" width="4.2" height="4.2" fill="#ff0080"/>
<rect x="194.89" y="399.2" width="4.2" height="4.2" fill="#ff0080"/>
<rect x="200.1" y="387.7" width="4.2" height="4.2" fill="#ff0080"/>
<polyline points="202.2,389.8 207.41,383.7 212.61,378.8 217.81,378.8 223.02,378.8 228.22,378.8 233.43,378.8 238.63,378.8 243.84,378.8 249.04,378.8 254.25,378.8 259.45,378.8 264.66,378.8 269.87,378.8 275.07,378.8 280.27,378.8 285.48,378.8 290.69,378.8 295.89,378.8 301.09,378.8 306.3,378.8 301.09,378.8 295.89,378.8 290.69,378.8 285.48,378.8 280.27,378.8 275.07,382.3 269.87,382.92 264.66,383.54 259.45,384.16 254.25,384.78 249.04,385.4 243.84,389.8 238.63,389.8 233.43,389.8 228.22,389.8 223.02,389.8 217.81,389.8 212.61,389.8 207.41,389.8 202.2,389.8 196.99,389.8 191.79,389.8 186.58,389.8 181.38,389.8 176.17,389.8 170.97,389.8 165.76,395.4 160.56,401.3 155.35,401.3 150.15,401.3 144.94,401.3 139.74,401.3 134.53,401.3 129.33,401.3 124.12,401.3 118.92,401.3 113.71,401.3 108.51,401.3 103.3,401.3 98.1,457.2 103.3,455.6 108.51,454 113.71,452.4 118.92,450.8 124.12,449.2 129.33,447.6 134.53,446 139.74,444.4 144.94,442.8 150.15,441.2 155.35,439.6 160.56,401.3 165.76,401.3 170.97,401.3 176.17,401.3 181.38,401.3 186.58,401.3 191.79,401.3 196.99,401.3 202.2,389.8" fill="none" stroke="#80c080" stroke-width="0.6" stroke-linejoin="round"/>
<circle cx="202.2" cy="389.8" r="2.5" fill="#008000"/>
<circle cx="207.41" cy="383.7" r="2.5" fill="#008000"/>
<circle cx="212.61" cy="378.8" r="2.5" fill="#008000"/>
<circle cx="217.81" cy="378.8" r="2.5" fill="#008000"/>
<circle cx="223.02" cy="378.8" r="2.5" fill="#008000"/>
<circle cx="228.22" cy="378.8" r="2.5" fill="#008000"/>
<circle cx="233.43" cy="378.8" r="2.5" fill="#008000"/>
<circle cx="238.63" cy="378.8" r="2.5" fill="#008000"/>
<circle cx="243.84" cy="378.8" r="2.5" fill="#008000"/>
<circle cx="249.04" cy="378.8" r="2.5" fill="#008000"/>
<circle cx="254.25" cy="378.8" r="2.5" fill="#008000"/>
<circle cx="259.45" cy="378.8" r="2.5" fill="#008000"/>
<circle cx="264.66" cy="378.8" r="2.5" fill="#008000"/>
<circle cx="269.87" cy="378.8" r="2.5" fill="#008000"/>
<circle cx="275.07" cy="378.8" r="2.5" fill="#008000"/>
<circle cx="280.27" cy="378.8" r="2.5" fill="#008000"/>
<circle cx="285.48" cy="378.8" r="2.5" fill="#008000"/>
<circle cx="290.69" cy="378.8" r="2.5" fill="#008000"/>
<circle cx="295.89" cy="378.8" r="2.5" fill="#008000"/>
<circle cx="301.09" cy="378.8" r="2.5" fill="#008000"/>
<circle cx="306.3" cy="378.8" r="2.5" fill="#008000"/>
<circle cx="301.09" cy="378.8" r="2.5" fill="#008000"/>
<circle cx="295.89" cy="378.8" r="2.5" fill="#008000"/>
<circle cx="290.69" cy="378.8" r="2.5" fill="#008000"/>
<circle cx="285.48" cy="378.8" r="2.5" fill="#008000"/>
<circle cx="280.27" cy="378.8" r="2.5" fill="#008000"/>
<circle cx="275.07" cy="382.3" r="2.5" fill="#008000"/>
<circle cx="269.87" cy="382.92" r="2.5" fill="#008000"/>
<circle cx="264.66" cy="383.54" r="2.5" fill="#008000"/>
<circle cx="259.45" cy="384.16" r="2.5" fill="#008000"/>
<circle cx="254.25" cy="384.78" r="2.5" fill="#008000"/>
<circle cx="249.04" cy="385.4" r="2.5" fill="#008000"/>
<circle cx="243.84" cy="389.8" r="2.5" fill="#008000"/>
<circle cx="238.63" cy="389.8" r="2.5" fill="#008000"/>
<circle cx="233.43" cy="389.8" r="2.5" fill="#008000"/>
<circle cx="228.22" cy="389.8" r="2.5" fill="#008000"/>
<circle cx="223.02" cy="389.8" r="2.5" fill="#008000"/>
<circle cx="217.81" cy="389.8" r="2.5" fill="#008000"/>
<circle cx="212.61" cy="389.8" r="2.5" fill="#008000"/>
<circle cx="207.41" cy="389.8" r="2.5" fill="#008000"/>
<circle cx="202.2" cy="389.8" r="2.5" fill="#008000"/>
<circle cx="196.99" cy="389.8" r="2.5" fill="#008000"/>
<circle cx="191.79" cy="389.8" r="2.5" fill="#008000"/>
<circle cx="186.58" cy="389.8" r="2.5" fill="#008000"/>
<circle cx="181.38" cy="389.8" r="2.5" fill="#008000"/>
<circle cx="176.17" cy="389.8" r="2.5" fill="#008000"/>
<circle cx="170.97" cy="389.8" r="2.5" fill="#008000"/>
<circle cx="165.76" cy="395.4" r="2.5" fill="#008000"/>
<circle cx="160.56" cy="401.3" r="2.5" fill="#008000"/>
<circle cx="155.35" cy="401.3" r="2.5" fill="#008000"/>
<circle cx="150.15" cy="401.3" r="2.5" fill="#008000"/>
<circle cx="144.94" cy="401.3" r="2.5" fill="#008000"/>
<circle cx="139.74" cy="401.3" r="2.5" fill="#008000"/>
<circle cx="134.53" cy="401.3" r="2.5" fill="#008000"/>
<circle cx="129.33" cy="401.3" r="2.5" fill="#008000"/>
<circle cx="124.12" cy="401.3" r="2.5" fill="#008000"/>
<circle cx="118.92" cy="401.3" r="2.5" fill="#008000"/>
<circle cx="113.71" cy="401.3" r="2.5" fill="#008000"/>
<circle cx="108.51" cy="401.3" r="2.5" fill="#008000"/>
<circle cx="103.3" cy="401.3" r="2.5" fill="#008000"/>
<circle cx="98.1" cy="457.2" r="2.5" fill="#008000"/>
<circle cx="103.3" cy="455.6" r="2.5" fill="#008000"/>
<circle cx="108.51" cy="454" r="2.5" fill="#008000"/>
<circle cx="113.71" cy="452.4" r="2.5" fill="#008000"/>
<circle cx="118.92" cy="450.8" r="2.5" fill="#008000"/>
<circle cx="124.12" cy="449.2" r="2.5" fill="#008000"/>
<circle cx="129.33" cy="447.6" r="2.5" fill="#008000"/>
<circle cx="134.53" cy="446" r="2.5" fill="#008000"/>
<circle cx="139.74" cy="444.4" r="2.5" fill="#008000"/>
<circle cx="144.94" cy="442.8" r="2.5" fill="#008000"/>
<circle cx="150.15" cy="441.2" r="2.5" fill="#008000"/>
<circle cx="155.35" cy="439.6" r="2.5" fill="#008000"/>
<circle cx="160.56" cy="401.3" r="2.5" fill="#008000"/>
<circle cx="165.76" cy="401.3" r="2.5" fill="#008000"/>
<circle cx="170.97" cy="401.3" r="2.5" fill="#008000"/>
<circle cx="176.17" cy="401.3" r="2.5" fill="#008000"/>
<circle cx="181.38" cy="401.3" r="2.5" fill="#008000"/>
<circle cx="186.58" cy="401.3" r="2.5" fill="#008000"/>
<circle cx="191.79" cy="401.3" r="2.5" fill="#008000"/>
<circle cx="196.99" cy="401.3" r="2.5" fill="#008000"/>
<circle cx="202.2" cy="389.8" r="2.5" fill="#008000"/>
<polyline points="202.2,389.8 207.41,383.7 212.61,378.8 217.81,378.8 223.02,378.8 228.22,378.8 233.43,378.8 238.63,378.8 243.84,378.8 249.04,378.8 254.25,378.8 259.45,378.8 264.66,378.8 269.87,378.8 275.07,378.8 280.27,378.8 285.48,378.8 290.69,378.8 295.89,378.8 301.09,378.8 306.3,378.8 301.09,378.8 295.89,378.8 290.69,378.8 285.48,378.8 280.27,378.8 275.07,382.3 269.87,382.92 264.66,383.54 259.45,384.16 254.25,384.78 249.04,385.4 243.84,389.8 238.63,389.8 233.43,389.8 228.22,389.8 223.02,389.8 217.81,389.8 212.61,389.8 207.41,389.8 202.2,389.8 196.99,389.8 191.79,389.8 186.58,389.8 181.38,389.8 176.17,389.8 170.97,389.8 165.76,395.4 160.56,401.3 155.35,401.3 150.15,401.3 144.94,401.3 139.74,401.3 134.53,401.3 129.33,401.3 124.12,401.3 118.92,401.3 113.71,401.3 108.51,401.3 103.3,401.3 98.1,457.6 103.3,455.98 108.51,454.36 113.71,452.75 118.92,451.13 124.12,449.51 129.33,447.89 134.53,446.27 139.74,444.65 144.94,443.04 150.15,441.42 155.35,439.8 160.56,401.3 165.76,401.3 170.97,401.3 176.17,401.3 181.38,401.3 186.58,401.3 191.79,401.3 196.99,401.3 202.2,389.8" fill="none" stroke="#9090d0" stroke-width="0.6" stroke-linejoin="round"/>
<polygon points="202.2,386.8 202.93,388.79 205.05,388.87 203.39,390.19 203.96,392.23 202.2,391.05 200.44,392.23 201.01,390.19 199.35,388.87 201.47,388.79" fill="#0000a0"/>
<polygon points="207.41,380.7 208.14,382.69 210.26,382.77 208.59,384.09 209.17,386.13 207.41,384.95 205.64,386.13 206.22,384.09 204.55,382.77 206.67,382.69" fill="#0000a0"/>
<polygon points="212.61,375.8 213.34,377.79 215.46,377.87 213.8,379.19 214.37,381.23 212.61,380.05 210.85,381.23 211.42,379.19 209.76,377.87 211.88,377.79" fill="#0000a0"/>
<polygon points="217.81,375.8 218.55,377.79 220.67,377.87 219,379.19 219.58,381.23 217.81,380.05 216.05,381.23 216.63,379.19 214.96,377.87 217.08,377.79" fill="#0000a0"/>
<polygon points="223.02,375.8 223.75,377.79 225.87,377.87 224.21,379.19 224.78,381.23 223.02,380.05 221.26,381.23 221.83,379.19 220.17,377.87 222.29,377.79" fill="#0000a0"/>
<polygon points="228.22,375.8 228.96,377.79 231.08,377.87 229.41,379.19 229.99,381.23 228.22,380.05 226.46,381.23 227.04,379.19 225.37,377.87 227.49,377.79" fill="#0000a0"/>
<polygon points="233.43,375.8 234.16,377.79 236.28,377.87 234.62,379.19 235.19,381.23 233.43,380.05 231.67,381.23 232.24,379.19 230.58,377.87 232.7,377.79" fill="#0000a0"/>
<polygon points="238.63,375.8 239.37,377.79 241.49,377.87 239.82,379.19 240.4,381.23 238.63,380.05 236.87,381.23 237.45,379.19 235.78,377.87 237.9,377.79" fill="#0000a0"/>
<polygon points="243.84,375.8 244.57,377.79 246.69,377.87 245.03,379.19 245.6,381.23 243.84,380.05 242.08,381.23 242.65,379.19 240.99,377.87 243.11,377.79" fill="#0000a0"/>
<polygon points="249.04,375.8 249.78,377.79 251.9,377.87 250.23,379.19 250.81,381.23 249.04,380.05 247.28,381.23 247.86,379.19 246.19,377.87 248.31,377.79" fill="#0000a0"/>
<polygon points="254.25,375.8 254.98,377.79 257.1,377.87 255.44,379.19 256.01,381.23 254.25,380.05 252.49,381.23 253.06,379.19 251.4,377.87 253.52,377.79" fill="#0000a0"/>
<polygon points="259.45,375.8 260.19,377.79 262.31,377.87 260.64,379.19 261.22,381.23 259.45,380.05 257.69,381.23 258.27,379.19 256.6,377.87 258.72,377.79" fill="#0000a0"/>
<polygon points="264.66,375.8 265.39,377.79 267.51,377.87 265.85,379.19 266.42,381.23 264.66,380.05 262.9,381.23 263.47,379.19 261.81,377.87 263.93,377.79" fill="#0000a0"/>
<polygon points="269.87,375.8 270.6,377.79 272.72,377.87 271.05,379.19 271.63,381.23 269.87,380.05 268.1,381.23 268.68,379.19 267.01,377.87 269.13,377.79" fill="#0000a0"/>
<polygon points="275.07,375.8 275.8,377.79 277.92,377.87 276.26,379.19 276.83,381.23 275.07,380.05 273.31,381.23 273.88,379.19 272.22,377.87 274.34,377.79" fill="#0000a0"/>
<polygon points="280.27,375.8 281.01,377.79 283.13,377.87 281.46,379.19 282.04,381.23 280.27,380.05 278.51,381.23 279.09,379.19 277.42,377.87 279.54,377.79" fill="#0000a0"/>
<polygon points="285.48,375.8 286.21,377.79 288.33,377.87 286.67,379.19 287.24,381.23 285.48,380.05 283.72,381.23 284.29,379.19 282.63,377.87 284.75,377.79" fill="#0000a0"/>
<polygon points="290.69,375.8 291.42,377.79 293.54,377.87 291.87,379.19 292.45,381.23 290.69,380.05 288.92,381.23 289.5,379.19 287.83,377.87 289.95,377.79" fill="#0000a0"/>
<polygon points="295.89,375.8 296.62,377.79 298.74,377.87 297.08,379.19 297.65,381.23 295.89,380.05 294.13,381.23 294.7,379.19 293.04,377.87 295.16,377.79" fill="#0000a0"/>
<polygon points="301.09,375.8 301.83,377.79 303.95,377.87 302.28,379.19 302.86,381.23 301.09,380.05 299.33,381.23 299.91,379.19 298.24,377.87 300.36,377.79" fill="#0000a0"/>
<polygon points="306.3,375.8 307.03,377.79 309.15,377.87 307.49,379.19 308.06,381.23 306.3,380.05 304.54,381.23 305.11,379.19 303.45,377.87 305.57,377.79" fill="#0000a0"/>
<polygon points="301.09,375.8 301.83,377.79 303.95,377.87 302.28,379.19 302.86,381.23 301.09,380.05 299.33,381.23 299.91,379.19 298.24,377.87 300.36,377.79" fill="#0000a0"/>
<polygon points="295.89,375.8 296.62,377.79 298.74,377.87 297.08,379.19 297.65,381.23 295.89,380.05 294.13,381.23 294.7,379.19 293.04,377.87 295.16,377.79" fill="#0000a0"/>
<polygon points="290.69,375.8 291.42,377.79 293.54,377.87 291.87,379.19 292.45,381.23 290.69,380.05 288.92,381.23 289.5,379.19 287.83,377.87 289.95,377.79" fill="#0000a0"/>
<polygon points="285.48,375.8 286.21,377.79 288.33,377.87 286.67,379.19 287.24,381.23 285.48,380.05 283.72,381.23 284.29,379.19 282.63,377.87 284.75,377.79" fill="#0000a0"/>
<polygon points="280.27,375.8 281.01,377.79 283.13,377.87 281.46,379.19 282.04,381.23 280.27,380.05 278.51,381.23 279.09,379.19 277.42,377.87 279.54,377.79" fill="#0000a0"/>
<polygon points="275.07,379.3 275.8,381.29 277.92,381.37 276.26,382.69 276.83,384.73 275.07,383.55 273.31,384.73 273.88,382.69 272.22,381.37 274.34,381.29" fill="#0000a0"/>
<polygon points="269.87,379.92 270.6,381.91 272.72,381.99 271.05,383.31 271.63,385.35 269.87,384.17 268.1,385.35 268.68,383.31 267.01,381.99 269.13,381.91" fill="#0000a0"/>
<polygon points="264.66,380.54 265.39,382.53 267.51,382.61 265.85,383.93 266.42,385.97 264.66,384.79 262.9,385.97 263.47,383.93 261.81,382.61 263.93,382.53" fill="#0000a0"/>
<polygon points="259.45,381.16 260.19,383.15 262.31,383.23 260.64,384.55 261.22,386.59 259.45,385.41 257.69,386.59 258.27,384.55 256.6,383.23 258.72,383.15" fill="#0000a0"/>
<polygon points="254.25,381.78 254.98,383.77 257.1,383.85 255.44,385.17 256.01,387.21 254.25,386.03 252.49,387.21 253.06,385.17 251.4,383.85 253.52,383.77" fill="#0000a0"/>
<polygon points="249.04,382.4 249.78,384.39 251.9,384.47 250.23,385.79 250.81,387.83 249.04,386.65 247.28,387.83 247.86,385.79 246.19,384.47 248.31,384.39" fill="#0000a0"/>
<polygon points="243.84,386.8 244.57,388.79 246.69,388.87 245.03,390.19 245.6,392.23 243.84,391.05 242.08,392.23 242.65,390.19 240.99,388.87 243.11,388.79" fill="#0000a0"/>
<polygon points="238.63,386.8 239.37,388.79 241.49,388.87 239.82,390.19 240.4,392.23 238.63,391.05 236.87,392.23 237.45,390.19 235.78,388.87 237.9,388.79" fill="#0000a0"/>
<polygon points="233.43,386.8 234.16,388.79 236.28,388.87 234.62,390.19 235.19,392.23 233.43,391.05 231.67,392.23 232.24,390.19 230.58,388.87 232.7,388.79" fill="#0000a0"/>
<polygon points="228.22,386.8 228.96,388.79 231.08,388.87 229.41,390.19 229.99,392.23 228.22,391.05 226.46,392.23 227.04,390.19 225.37,388.87 227.49,388.79" fill="#0000a0"/>
<polygon points="223.02,386.8 223.75,388.79 225.87,388.87 224.21,390.19 224.78,392.23 223.02,391.05 221.26,392.23 221.83,390.19 220.17,388.87 222.29,388.79" fill="#0000a0"/>
<polygon points="217.81,386.8 218.55,388.79 220.67,388.87 219,390.19 219.58,392.23 217.81,391.05 216.05,392.23 216.63,390.19 214.96,388.87 217.08,388.79" fill="#0000a0"/>
<polygon points="212.61,386.8 213.34,388.79 215.46,388.87 213.8,390.19 214.37,392.23 212.61,391.05 210.85,392.23 211.42,390.19 209.76,388.87 211.88,388.79" fill="#0000a0"/>
<polygon points="207.41,386.8 208.14,388.79 210.26,388.87 208.59,390.19 209.17,392.23 207.41,391.05 205.64,392.23 206.22,390.19 204.55,388.87 206.67,388.79" fill="#0000a0"/>
<polygon points="202.2,386.8 202.93,388.79 205.05,388.87 203.39,390.19 203.96,392.23 202.2,391.05 200.44,392.23 201.01,390.19 199.35,388.87 201.47,388.79" fill="#0000a0"/>
<polygon points="196.99,386.8 197.73,388.79 199.85,388.87 198.18,390.19 198.76,392.23 196.99,391.05 195.23,392.23 195.81,390.19 194.14,388.87 196.26,388.79" fill="#0000a0"/>
<polygon points="191.79,386.8 192.52,388.79 194.64,388.87 192.98,390.19 193.55,392.23 191.79,391.05 190.03,392.23 190.6,390.19 188.94,388.87 191.06,388.79" fill="#0000a0"/>
<polygon points="186.58,386.8 187.32,388.79 189.44,388.87 187.77,390.19 188.35,392.23 186.58,391.05 184.82,392.23 185.4,390.19 183.73,388.87 185.85,388.79" fill="#0000a0"/>
<polygon points="181.38,386.8 182.11,388.79 184.23,388.87 182.57,390.19 183.14,392.23 181.38,391.05 179.62,392.23 180.19,390.19 178.53,388.87 180.65,388.79" fill="#0000a0"/>
<polygon points="176.17,386.8 176.91,388.79 179.03,388.87 177.36,390.19 177.94,392.23 176.17,391.05 174.41,392.23 174.99,390.19 173.32,388.87 175.44,388.79" fill="#0000a0"/>
<polygon points="170.97,386.8 171.7,388.79 173.82,388.87 172.16,390.19 172.73,392.23 170.97,391.05 169.21,392.23 169.78,390.19 168.12,388.87 170.24,388.79" fill="#0000a0"/>
<polygon points="165.76,392.4 166.5,394.39 168.62,394.47 166.95,395.79 167.53,397.83 165.76,396.65 164,397.83 164.58,395.79 162.91,394.47 165.03,394.39" fill="#0000a0"/>
<polygon points="160.56,398.3 161.29,400.29 163.41,400.37 161.75,401.69 162.32,403.73 160.56,402.55 158.8,403.73 159.37,401.69 157.71,400.37 159.83,400.29" fill="#0000a0"/>
<polygon points="155.35,398.3 156.09,400.29 158.21,400.37 156.54,401.69 157.12,403.73 155.35,402.55 153.59,403.73 154.17,401.69 152.5,400.37 154.62,400.29" fill="#0000a0"/>
<polygon points="150.15,398.3 150.88,400.29 153,400.37 151.34,401.69 151.91,403.73 150.15,402.55 148.39,403.73 148.96,401.69 147.3,400.37 149.42,400.29" fill="#0000a0"/>
<polygon points="144.94,398.3 145.68,400.29 147.8,400.37 146.13,401.69 146.71,403.73 144.94,402.55 143.18,403.73 143.76,401.69 142.09,400.37 144.21,400.29" fill="#0000a0"/>
<polygon points="139.74,398.3 140.47,400.29 142.59,400.37 140.93,401.69 141.5,403.73 139.74,402.55 137.98,403.73 138.55,401.69 136.89,400.37 139.01,400.29" fill="#0000a0"/>
<polygon points="134.53,398.3 135.27,400.29 137.39,400.37 135.72,401.69 136.3,403.73 134.53,402.55 132.77,403.73 133.35,401.69 131.68,400.37 133.8,400.29" fill="#0000a0"/>
<polygon points="129.33,398.3 130.06,400.29 132.18,400.37 130.52,401.69 131.09,403.73 129.33,402.55 127.57,403.73 128.14,401.69 126.48,400.37 128.6,400.29" fill="#0000a0"/>
<polygon points="124.12,398.3 124.86,400.29 126.98,400.37 125.31,401.69 125.89,403.73 124.12,402.55 122.36,403.73 122.94,401.69 121.27,400.37 123.39,400.29" fill="#0000a0"/>
<polygon points="118.92,398.3 119.65,400.29 121.77,400.37 120.11,401.69 120.68,403.73 118.92,402.55 117.16,403.73 117.73,401.69 116.07,400.37 118.19,400.29" fill="#0000a0"/>
<polygon points="113.71,398.3 114.45,400.29 116.57,400.37 114.9,401.69 115.48,403.73 113.71,402.55 111.95,403.73 112.53,401.69 110.86,400.37 112.98,400.29" fill="#0000a0"/>
<polygon points="108.51,398.3 109.24,400.29 111.36,400.37 109.7,401.69 110.27,403.73 108.51,402.55 106.75,403.73 107.32,401.69 105.66,400.37 107.78,400.29" fill="#0000a0"/>
<polygon points="103.3,398.3 104.04,400.29 106.16,400.37 104.49,401.69 105.07,403.73 103.3,402.55 101.54,403.73 102.12,401.69 100.45,400.37 102.57,400.29" fill="#0000a0"/>
<polygon points="98.1,454.6 98.83,456.59 100.95,456.67 99.29,457.99 99.86,460.03 98.1,458.85 96.34,460.03 96.91,457.99 95.25,456.67 97.37,456.59" fill="#0000a0"/>
<polygon points="103.3,452.98 104.04,454.97 106.16,455.05 104.49,456.37 105.07,458.41 103.3,457.23 101.54,458.41 102.12,456.37 100.45,455.05 102.57,454.97" fill="#0000a0"/>
<polygon points="108.51,451.36 109.24,453.35 111.36,453.44 109.7,454.75 110.27,456.79 108.51,455.61 106.75,456.79 107.32,454.75 105.66,453.44 107.78,453.35" fill="#0000a0"/>
<polygon points="113.71,449.75 114.45,451.73 116.57,451.82 114.9,453.13 115.48,455.17 113.71,454 111.95,455.17 112.53,453.13 110.86,451.82 112.98,451.73" fill="#0000a0"/>
<polygon points="118.92,448.13 119.65,450.12 121.77,450.2 120.11,451.51 120.68,453.55 118.92,452.38 117.16,453.55 117.73,451.51 116.07,450.2 118.19,450.12" fill="#0000a0"/>
<polygon points="124.12,446.51 124.86,448.5 126.98,448.58 125.31,449.9 125.89,451.94 124.12,450.76 122.36,451.94 122.94,449.9 121.27,448.58 123.39,448.5" fill="#0000a0"/>
<polygon points="129.33,444.89 130.06,446.88 132.18,446.96 130.52,448.28 131.09,450.32 129.33,449.14 127.57,450.32 128.14,448.28 126.48,446.96 128.6,446.88" fill="#0000a0"/>
<polygon points="134.53,443.27 135.27,445.26 137.39,445.35 135.72,446.66 136.3,448.7 134.53,447.52 132.77,448.7 133.35,446.66 131.68,445.35 133.8,445.26" fill="#0000a0"/>
<polygon points="139.74,441.65 140.47,443.64 142.59,443.73 140.93,445.04 141.5,447.08 139.74,445.9 137.98,447.08 138.55,445.04 136.89,443.73 139.01,443.64" fill="#0000a0"/>
<polygon points="144.94,440.04 145.68,442.03 147.8,442.11 146.13,443.42 146.71,445.46 144.94,444.29 143.18,445.46 143.76,443.42 142.09,442.11 144.21,442.03" fill="#0000a0"/>
<polygon points="150.15,438.42 150.88,440.41 153,440.49 151.34,441.8 151.91,443.85 150.15,442.67 148.39,443.85 148.96,441.8 147.3,440.49 149.42,440.41" fill="#0000a0"/>
<polygon points="155.35,436.8 156.09,438.79 158.21,438.87 156.54,440.19 157.12,442.23 155.35,441.05 153.59,442.23 154.17,440.19 152.5,438.87 154.62,438.79" fill="#0000a0"/>
<polygon points="160.56,398.3 161.29,400.29 163.41,400.37 161.75,401.69 162.32,403.73 160.56,402.55 158.8,403.73 159.37,401.69 157.71,400.37 159.83,400.29" fill="#0000a0"/>
<polygon points="165.76,398.3 166.5,400.29 168.62,400.37 166.95,401.69 167.53,403.73 165.76,402.55 164,403.73 164.58,401.69 162.91,400.37 165.03,400.29" fill="#0000a0"/>
<polygon points="170.97,398.3 171.7,400.29 173.82,400.37 172.16,401.69 172.73,403.73 170.97,402.55 169.21,403.73 169.78,401.69 168.12,400.37 170.24,400.29" fill="#0000a0"/>
<polygon points="176.17,398.3 176.91,400.29 179.03,400.37 177.36,401.69 177.94,403.73 176.17,402.55 174.41,403.73 174.99,401.69 173.32,400.37 175.44,400.29" fill="#0000a0"/>
<polygon points="181.38,398.3 182.11,400.29 184.23,400.37 182.57,401.69 183.14,403.73 181.38,402.55 179.62,403.73 180.19,401.69 178.53,400.37 180.65,400.29" fill="#0000a0"/>
<polygon points="186.58,398.3 187.32,400.29 189.44,400.37 187.77,401.69 188.35,403.73 186.58,402.55 184.82,403.73 185.4,401.69 183.73,400.37 185.85,400.29" fill="#0000a0"/>
<polygon points="191.79,398.3 192.52,400.29 194.64,400.37 192.98,401.69 193.55,403.73 191.79,402.55 190.03,403.73 190.6,401.69 188.94,400.37 191.06,400.29" fill="#0000a0"/>
<polygon points="196.99,398.3 197.73,400.29 199.85,400.37 198.18,401.69 198.76,403.73 196.99,402.55 195.23,403.73 195.81,401.69 194.14,400.37 196.26,400.29" fill="#0000a0"/>
<polygon points="202.2,386.8 202.93,388.79 205.05,388.87 203.39,390.19 203.96,392.23 202.2,391.05 200.44,392.23 201.01,390.19 199.35,388.87 201.47,388.79" fill="#0000a0"/>
<polyline points="202.2,389.8 207.41,383.7 212.61,378.8 217.81,378.8 223.02,378.8 228.22,378.8 233.43,378.8 238.63,378.8 243.84,378.8 249.04,378.8 254.25,378.8 259.45,378.8 264.66,378.8 269.87,378.8 275.07,378.8 280.27,378.8 285.48,378.8 290.69,378.8 295.89,378.8 301.09,378.8 306.3,378.8 301.09,378.8 295.89,378.8 290.69,378.8 285.48,378.8 280.27,378.8 275.07,382.3 269.87,382.92 264.66,383.54 259.45,384.16 254.25,384.78 249.04,385.4 243.84,389.8 238.63,389.8 233.43,389.8 228.22,389.8 223.02,389.8 217.81,389.8 212.61,389.8 207.41,389.8 202.2,389.8 196.99,389.8 191.79,389.8 186.58,389.8 181.38,389.8 176.17,389.8 170.97,389.8 165.76,395.4 160.56,401.3 155.35,401.3 150.15,401.3 144.94,401.3 139.74,401.3 134.53,401.3 129.33,401.3 124.12,401.3 118.92,401.3 113.71,401.3 108.51,401.3 103.3,401.3 98.1,457 103.3,455.38 108.51,453.76 113.71,452.15 118.92,450.53 124.12,448.91 129.33,447.29 134.53,445.67 139.74,444.05 144.94,442.44 150.15,440.82 155.35,439.2 160.56,401.3 165.76,401.3 170.97,401.3 176.17,401.3 181.38,401.3 186.58,401.3 191.79,401.3 196.99,401.3 202.2,389.8" fill="none" stroke="#ffc080" stroke-width="0.6" stroke-linejoin="round"/>
<circle cx="202.2" cy="389.8" r="2.5" fill="#ff8000"/>
<circle cx="207.41" cy="383.7" r="2.5" fill="#ff8000"/>
<circle cx="212.61" cy="378.8" r="2.5" fill="#ff8000"/>
<circle cx="217.81" cy="378.8" r="2.5" fill="#ff8000"/>
<circle cx="223.02" cy="378.8" r="2.5" fill="#ff8000"/>
<circle cx="228.22" cy="378.8" r="2.5" fill="#ff8000"/>
<circle cx="233.43" cy="378.8" r="2.5" fill="#ff8000"/>
<circle cx="238.63" cy="378.8" r="2.5" fill="#ff8000"/>
<circle cx="243.84" cy="378.8" r="2.5" fill="#ff8000"/>
<circle cx="249.04" cy="378.8" r="2.5" fill="#ff8000"/>
<circle cx="254.25" cy="378.8" r="2.5" fill="#ff8000"/>
<circle cx="259.45" cy="378.8" r="2.5" fill="#ff8000"/>
<circle cx="264.66" cy="378.8" r="2.5" fill="#ff8000"/>
<circle cx="269.87" cy="378.8" r="2.5" fill="#ff8000"/>
<circle cx="275.07" cy="378.8" r="2.5" fill="#ff8000"/>
<circle cx="280.27" cy="378.8" r="2.5" fill="#ff8000"/>
<circle cx="285.48" cy="378.8" r="2.5" fill="#ff8000"/>
<circle cx="290.69" cy="378.8" r="2.5" fill="#ff8000"/>
<circle cx="295.89" cy="378.8" r="2.5" fill="#ff8000"/>
<circle cx="301.09" cy="378.8" r="2.5" fill="#ff8000"/>
<circle cx="306.3" cy="378.8" r="2.5" fill="#ff8000"/>
<circle cx="301.09" cy="378.8" r="2.5" fill="#ff8000"/>
<circle cx="295.89" cy="378.8" r="2.5" fill="#ff8000"/>
<circle cx="290.69" cy="378.8" r="2.5" fill="#ff8000"/>
<circle cx="285.48" cy="378.8" r="2.5" fill="#ff8000"/>
<circle cx="280.27" cy="378.8" r="2.5" fill="#ff8000"/>
<circle cx="275.07" cy="382.3" r="2.5" fill="#ff8000"/>
<circle cx="269.87" cy="382.92" r="2.5" fill="#ff8000"/>
<circle cx="264.66" cy="383.54" r="2.5" fill="#ff8000"/>
<circle cx="259.45" cy="384.16" r="2.5" fill="#ff8000"/>
<circle cx="254.25" cy="384.78" r="2.5" fill="#ff8000"/>
<circle cx="249.04" cy="385.4" r="2.5" fill="#ff8000"/>
<circle cx="243.84" cy="389.8" r="2.5" fill="#ff8000"/>
<circle cx="238.63" cy="389.8" r="2.5" fill="#ff8000"/>
<circle cx="233.43" cy="389.8" r="2.5" fill="#ff8000"/>
<circle cx="228.22" cy="389.8" r="2.5" fill="#ff8000"/>
<circle cx="223.02" cy="389.8" r="2.5" fill="#ff8000"/>
<circle cx="217.81" cy="389.8" r="2.5" fill="#ff8000"/>
<circle cx="212.61" cy="389.8" r="2.5" fill="#ff8000"/>
<circle cx="207.41" cy="389.8" r="2.5" fill="#ff8000"/>
<circle cx="202.2" cy="389.8" r="2.5" fill="#ff8000"/>
<circle cx="196.99" cy="389.8" r="2.5" fill="#ff8000"/>
<circle cx="191.79" cy="389.8" r="2.5" fill="#ff8000"/>
<circle cx="186.58" cy="389.8" r="2.5" fill="#ff8000"/>
<circle cx="181.38" cy="389.8" r="2.5" fill="#ff8000"/>
<circle cx="176.17" cy="389.8" r="2.5" fill="#ff8000"/>
<circle cx="170.97" cy="389.8" r="2.5" fill="#ff8000"/>
<circle cx="165.76" cy="395.4" r="2.5" fill="#ff8000"/>
<circle cx="160.56" cy="401.3" r="2.5" fill="#ff8000"/>
<circle cx="155.35" cy="401.3" r="2.5" fill="#ff8000"/>
<circle cx="150.15" cy="401.3" r="2.5" fill="#ff8000"/>
<circle cx="144.94" cy="401.3" r="2.5" fill="#ff8000"/>
<circle cx="139.74" cy="401.3" r="2.5" fill="#ff8000"/>
<circle cx="134.53" cy="401.3" r="2.5" fill="#ff8000"/>
<circle cx="129.33" cy="401.3" r="2.5" fill="#ff8000"/>
<circle cx="124.12" cy="401.3" r="2.5" fill="#ff8000"/>
<circle cx="118.92" cy="401.3" r="2.5" fill="#ff8000"/>
<circle cx="113.71" cy="401.3" r="2.5" fill="#ff8000"/>
<circle cx="108.51" cy="401.3" r="2.5" fill="#ff8000"/>
<circle cx="103.3" cy="401.3" r="2.5" fill="#ff8000"/>
<circle cx="98.1" cy="457" r="2.5" fill="#ff8000"/>
<circle cx="103.3" cy="455.38" r="2.5" fill="#ff8000"/>
<circle cx="108.51" cy="453.76" r="2.5" fill="#ff8000"/>
<circle cx="113.71" cy="452.15" r="2.5" fill="#ff8000"/>
<circle cx="118.92" cy="450.53" r="2.5" fill="#ff8000"/>
<circle cx="124.12" cy="448.91" r="2.5" fill="#ff8000"/>
<circle cx="129.33" cy="447.29" r="2.5" fill="#ff8000"/>
<circle cx="134.53" cy="445.67" r="2.5" fill="#ff8000"/>
<circle cx="139.74" cy="444.05" r="2.5" fill="#ff8000"/>
<circle cx="144.94" cy="442.44" r="2.5" fill="#ff8000"/>
<circle cx="150.15" cy="440.82" r="2.5" fill="#ff8000"/>
<circle cx="155.35" cy="439.2" r="2.5" fill="#ff8000"/>
<circle cx="160.56" cy="401.3" r="2.5" fill="#ff8000"/>
<circle cx="165.76" cy="401.3" r="2.5" fill="#ff8000"/>
<circle cx="170.97" cy="401.3" r="2.5" fill="#ff8000"/>
<circle cx="176.17" cy="401.3" r="2.5" fill="#ff8000"/>
<circle cx="181.38" cy="401.3" r="2.5" fill="#ff8000"/>
<circle cx="186.58" cy="401.3" r="2.5" fill="#ff8000"/>
<circle cx="191.79" cy="401.3" r="2.5" fill="#ff8000"/>
<circle cx="196.99" cy="401.3" r="2.5" fill="#ff8000"/>
<circle cx="202.2" cy="389.8" r="2.5" fill="#ff8000"/>
<polyline points="202.2,389.8 207.41,383.7 212.61,378.8 217.81,378.8 223.02,378.8 228.22,378.8 233.43,378.8 238.63,378.8 243.84,378.8 249.04,378.8 254.25,378.8 259.45,378.8 264.66,378.8 269.87,378.8 275.07,378.8 280.27,378.8 285.48,378.8 290.69,378.8 295.89,378.8 301.09,378.8 306.3,334.5 301.09,378.8 295.89,378.8 290.69,378.8 285.48,378.8 280.27,378.8 275.07,382.3 269.87,382.92 264.66,383.54 259.45,384.16 254.25,384.78 249.04,385.4 243.84,389.8 238.63,389.8 233.43,389.8 228.22,389.8 223.02,389.8 217.81,389.8 212.61,389.8 207.41,389.8 202.2,389.8 196.99,389.8 191.79,389.8 186.58,389.8 181.38,389.8 176.17,389.8 170.97,389.8 165.76,395.4 160.56,401.3 155.35,401.3 150.15,401.3 144.94,401.3 139.74,401.3 134.53,401.3 129.33,401.3 124.12,401.3 118.92,401.3 113.71,401.3 108.51,401.3 103.3,456 98.1,457.5 103.3,455.91 108.51,454.32 113.71,452.73 118.92,451.14 124.12,449.55 129.33,447.95 134.53,446.36 139.74,444.77 144.94,443.18 150.15,441.59 155.35,440 160.56,401.3 165.76,401.3 170.97,401.3 176.17,401.3 181.38,401.3 186.58,401.3 191.79,401.3 196.99,401.3 202.2,389.8" fill="none" stroke="#c090c0" stroke-width="0.6" stroke-linejoin="round"/>
<circle cx="202.2" cy="389.8" r="2.5" fill="#800080"/><circle cx="202.7" cy="390.55" r="0.7" fill="#d890d8"/>
<circle cx="207.41" cy="383.7" r="2.5" fill="#800080"/><circle cx="207.91" cy="384.45" r="0.7" fill="#d890d8"/>
<circle cx="212.61" cy="378.8" r="2.5" fill="#800080"/><circle cx="213.11" cy="379.55" r="0.7" fill="#d890d8"/>
<circle cx="217.81" cy="378.8" r="2.5" fill="#800080"/><circle cx="218.31" cy="379.55" r="0.7" fill="#d890d8"/>
<circle cx="223.02" cy="378.8" r="2.5" fill="#800080"/><circle cx="223.52" cy="379.55" r="0.7" fill="#d890d8"/>
<circle cx="228.22" cy="378.8" r="2.5" fill="#800080"/><circle cx="228.72" cy="379.55" r="0.7" fill="#d890d8"/>
<circle cx="233.43" cy="378.8" r="2.5" fill="#800080"/><circle cx="233.93" cy="379.55" r="0.7" fill="#d890d8"/>
<circle cx="238.63" cy="378.8" r="2.5" fill="#800080"/><circle cx="239.13" cy="379.55" r="0.7" fill="#d890d8"/>
<circle cx="243.84" cy="378.8" r="2.5" fill="#800080"/><circle cx="244.34" cy="379.55" r="0.7" fill="#d890d8"/>
<circle cx="249.04" cy="378.8" r="2.5" fill="#800080"/><circle cx="249.54" cy="379.55" r="0.7" fill="#d890d8"/>
<circle cx="254.25" cy="378.8" r="2.5" fill="#800080"/><circle cx="254.75" cy="379.55" r="0.7" fill="#d890d8"/>
<circle cx="259.45" cy="378.8" r="2.5" fill="#800080"/><circle cx="259.95" cy="379.55" r="0.7" fill="#d890d8"/>
<circle cx="264.66" cy="378.8" r="2.5" fill="#800080"/><circle cx="265.16" cy="379.55" r="0.7" fill="#d890d8"/>
<circle cx="269.87" cy="378.8" r="2.5" fill="#800080"/><circle cx="270.37" cy="379.55" r="0.7" fill="#d890d8"/>
<circle cx="275.07" cy="378.8" r="2.5" fill="#800080"/><circle cx="275.57" cy="379.55" r="0.7" fill="#d890d8"/>
<circle cx="280.27" cy="378.8" r="2.5" fill="#800080"/><circle cx="280.77" cy="379.55" r="0.7" fill="#d890d8"/>
<circle cx="285.48" cy="378.8" r="2.5" fill="#800080"/><circle cx="285.98" cy="379.55" r="0.7" fill="#d890d8"/>
<circle cx="290.69" cy="378.8" r="2.5" fill="#800080"/><circle cx="291.19" cy="379.55" r="0.7" fill="#d890d8"/>
<circle cx="295.89" cy="378.8" r="2.5" fill="#800080"/><circle cx="296.39" cy="379.55" r="0.7" fill="#d890d8"/>
<circle cx="301.09" cy="378.8" r="2.5" fill="#800080"/><circle cx="301.59" cy="379.55" r="0.7" fill="#d890d8"/>
<circle cx="306.3" cy="334.5" r="2.5" fill="#800080"/><circle cx="306.8" cy="335.25" r="0.7" fill="#d890d8"/>
<circle cx="301.09" cy="378.8" r="2.5" fill="#800080"/><circle cx="301.59" cy="379.55" r="0.7" fill="#d890d8"/>
<circle cx="295.89" cy="378.8" r="2.5" fill="#800080"/><circle cx="296.39" cy="379.55" r="0.7" fill="#d890d8"/>
<circle cx="290.69" cy="378.8" r="2.5" fill="#800080"/><circle cx="291.19" cy="379.55" r="0.7" fill="#d890d8"/>
<circle cx="285.48" cy="378.8" r="2.5" fill="#800080"/><circle cx="285.98" cy="379.55" r="0.7" fill="#d890d8"/>
<circle cx="280.27" cy="378.8" r="2.5" fill="#800080"/><circle cx="280.77" cy="379.55" r="0.7" fill="#d890d8"/>
<circle cx="275.07" cy="382.3" r="2.5" fill="#800080"/><circle cx="275.57" cy="383.05" r="0.7" fill="#d890d8"/>
<circle cx="269.87" cy="382.92" r="2.5" fill="#800080"/><circle cx="270.37" cy="383.67" r="0.7" fill="#d890d8"/>
<circle cx="264.66" cy="383.54" r="2.5" fill="#800080"/><circle cx="265.16" cy="384.29" r="0.7" fill="#d890d8"/>
<circle cx="259.45" cy="384.16" r="2.5" fill="#800080"/><circle cx="259.95" cy="384.91" r="0.7" fill="#d890d8"/>
<circle cx="254.25" cy="384.78" r="2.5" fill="#800080"/><circle cx="254.75" cy="385.53" r="0.7" fill="#d890d8"/>
<circle cx="249.04" cy="385.4" r="2.5" fill="#800080"/><circle cx="249.54" cy="386.15" r="0.7" fill="#d890d8"/>
<circle cx="243.84" cy="389.8" r="2.5" fill="#800080"/><circle cx="244.34" cy="390.55" r="0.7" fill="#d890d8"/>
<circle cx="238.63" cy="389.8" r="2.5" fill="#800080"/><circle cx="239.13" cy="390.55" r="0.7" fill="#d890d8"/>
<circle cx="233.43" cy="389.8" r="2.5" fill="#800080"/><circle cx="233.93" cy="390.55" r="0.7" fill="#d890d8"/>
<circle cx="228.22" cy="389.8" r="2.5" fill="#800080"/><circle cx="228.72" cy="390.55" r="0.7" fill="#d890d8"/>
<circle cx="223.02" cy="389.8" r="2.5" fill="#800080"/><circle cx="223.52" cy="390.55" r="0.7" fill="#d890d8"/>
<circle cx="217.81" cy="389.8" r="2.5" fill="#800080"/><circle cx="218.31" cy="390.55" r="0.7" fill="#d890d8"/>
<circle cx="212.61" cy="389.8" r="2.5" fill="#800080"/><circle cx="213.11" cy="390.55" r="0.7" fill="#d890d8"/>
<circle cx="207.41" cy="389.8" r="2.5" fill="#800080"/><circle cx="207.91" cy="390.55" r="0.7" fill="#d890d8"/>
<circle cx="202.2" cy="389.8" r="2.5" fill="#800080"/><circle cx="202.7" cy="390.55" r="0.7" fill="#d890d8"/>
<circle cx="196.99" cy="389.8" r="2.5" fill="#800080"/><circle cx="197.49" cy="390.55" r="0.7" fill="#d890d8"/>
<circle cx="191.79" cy="389.8" r="2.5" fill="#800080"/><circle cx="192.29" cy="390.55" r="0.7" fill="#d890d8"/>
<circle cx="186.58" cy="389.8" r="2.5" fill="#800080"/><circle cx="187.08" cy="390.55" r="0.7" fill="#d890d8"/>
<circle cx="181.38" cy="389.8" r="2.5" fill="#800080"/><circle cx="181.88" cy="390.55" r="0.7" fill="#d890d8"/>
<circle cx="176.17" cy="389.8" r="2.5" fill="#800080"/><circle cx="176.67" cy="390.55" r="0.7" fill="#d890d8"/>
<circle cx="170.97" cy="389.8" r="2.5" fill="#800080"/><circle cx="171.47" cy="390.55" r="0.7" fill="#d890d8"/>
<circle cx="165.76" cy="395.4" r="2.5" fill="#800080"/><circle cx="166.26" cy="396.15" r="0.7" fill="#d890d8"/>
<circle cx="160.56" cy="401.3" r="2.5" fill="#800080"/><circle cx="161.06" cy="402.05" r="0.7" fill="#d890d8"/>
<circle cx="155.35" cy="401.3" r="2.5" fill="#800080"/><circle cx="155.85" cy="402.05" r="0.7" fill="#d890d8"/>
<circle cx="150.15" cy="401.3" r="2.5" fill="#800080"/><circle cx="150.65" cy="402.05" r="0.7" fill="#d890d8"/>
<circle cx="144.94" cy="401.3" r="2.5" fill="#800080"/><circle cx="145.44" cy="402.05" r="0.7" fill="#d890d8"/>
<circle cx="139.74" cy="401.3" r="2.5" fill="#800080"/><circle cx="140.24" cy="402.05" r="0.7" fill="#d890d8"/>
<circle cx="134.53" cy="401.3" r="2.5" fill="#800080"/><circle cx="135.03" cy="402.05" r="0.7" fill="#d890d8"/>
<circle cx="129.33" cy="401.3" r="2.5" fill="#800080"/><circle cx="129.83" cy="402.05" r="0.7" fill="#d890d8"/>
<circle cx="124.12" cy="401.3" r="2.5" fill="#800080"/><circle cx="124.62" cy="402.05" r="0.7" fill="#d890d8"/>
<circle cx="118.92" cy="401.3" r="2.5" fill="#800080"/><circle cx="119.42" cy="402.05" r="0.7" fill="#d890d8"/>
<circle cx="113.71" cy="401.3" r="2.5" fill="#800080"/><circle cx="114.21" cy="402.05" r="0.7" fill="#d890d8"/>
<circle cx="108.51" cy="401.3" r="2.5" fill="#800080"/><circle cx="109.01" cy="402.05" r="0.7" fill="#d890d8"/>
<circle cx="103.3" cy="456" r="2.5" fill="#800080"/><circle cx="103.8" cy="456.75" r="0.7" fill="#d890d8"/>
<circle cx="98.1" cy="457.5" r="2.5" fill="#800080"/><circle cx="98.6" cy="458.25" r="0.7" fill="#d890d8"/>
<circle cx="103.3" cy="455.91" r="2.5" fill="#800080"/><circle cx="103.8" cy="456.66" r="0.7" fill="#d890d8"/>
<circle cx="108.51" cy="454.32" r="2.5" fill="#800080"/><circle cx="109.01" cy="455.07" r="0.7" fill="#d890d8"/>
<circle cx="113.71" cy="452.73" r="2.5" fill="#800080"/><circle cx="114.21" cy="453.48" r="0.7" fill="#d890d8"/>
<circle cx="118.92" cy="451.14" r="2.5" fill="#800080"/><circle cx="119.42" cy="451.89" r="0.7" fill="#d890d8"/>
<circle cx="124.12" cy="449.55" r="2.5" fill="#800080"/><circle cx="124.62" cy="450.3" r="0.7" fill="#d890d8"/>
<circle cx="129.33" cy="447.95" r="2.5" fill="#800080"/><circle cx="129.83" cy="448.7" r="0.7" fill="#d890d8"/>
<circle cx="134.53" cy="446.36" r="2.5" fill="#800080"/><circle cx="135.03" cy="447.11" r="0.7" fill="#d890d8"/>
<circle cx="139.74" cy="444.77" r="2.5" fill="#800080"/><circle cx="140.24" cy="445.52" r="0.7" fill="#d890d8"/>
<circle cx="144.94" cy="443.18" r="2.5" fill="#800080"/><circle cx="145.44" cy="443.93" r="0.7" fill="#d890d8"/>
<circle cx="150.15" cy="441.59" r="2.5" fill="#800080"/><circle cx="150.65" cy="442.34" r="0.7" fill="#d890d8"/>
<circle cx="155.35" cy="440" r="2.5" fill="#800080"/><circle cx="155.85" cy="440.75" r="0.7" fill="#d890d8"/>
<circle cx="160.56" cy="401.3" r="2.5" fill="#800080"/><circle cx="161.06" cy="402.05" r="0.7" fill="#d890d8"/>
<circle cx="165.76" cy="401.3" r="2.5" fill="#800080"/><circle cx="166.26" cy="402.05" r="0.7" fill="#d890d8"/>
<circle cx="170.97" cy="401.3" r="2.5" fill="#800080"/><circle cx="171.47" cy="402.05" r="0.7" fill="#d890d8"/>
<circle cx="176.17" cy="401.3" r="2.5" fill="#800080"/><circle cx="176.67" cy="402.05" r="0.7" fill="#d890d8"/>
<circle cx="181.38" cy="401.3" r="2.5" fill="#800080"/><circle cx="181.88" cy="402.05" r="0.7" fill="#d890d8"/>
<circle cx="186.58" cy="401.3" r="2.5" fill="#800080"/><circle cx="187.08" cy="402.05" r="0.7" fill="#d890d8"/>
<circle cx="191.79" cy="401.3" r="2.5" fill="#800080"/><circle cx="192.29" cy="402.05" r="0.7" fill="#d890d8"/>
<circle cx="196.99" cy="401.3" r="2.5" fill="#800080"/><circle cx="197.49" cy="402.05" r="0.7" fill="#d890d8"/>
<circle cx="202.2" cy="389.8" r="2.5" fill="#800080"/><circle cx="202.7" cy="390.55" r="0.7" fill="#d890d8"/>
<polyline points="202.2,389.8 207.41,383.7 212.61,378.8 217.81,378.8 223.02,378.8 228.22,378.8 233.43,378.8 238.63,378.8 243.84,378.8 249.04,378.8 254.25,378.8 259.45,378.8 264.66,378.8 269.87,378.8 275.07,378.8 280.27,378.8 285.48,378.8 290.69,378.8 295.89,378.8 301.09,378.8 306.3,378.8 301.09,378.8 295.89,378.8 290.69,378.8 285.48,378.8 280.27,378.8 275.07,382.3 269.87,382.92 264.66,383.54 259.45,384.16 254.25,384.78 249.04,385.4 243.84,389.8 238.63,389.8 233.43,389.8 228.22,389.8 223.02,389.8 217.81,389.8 212.61,389.8 207.41,389.8 202.2,389.8 196.99,389.8 191.79,389.8 186.58,389.8 181.38,389.8 176.17,389.8 170.97,389.8 165.76,395.4 160.56,401.3 155.35,401.3 150.15,401.3 144.94,401.3 139.74,401.3 134.53,401.3 129.33,401.3 124.12,401.3 118.92,401.3 113.71,401.3 108.51,401.3 103.3,455 98.1,456.5 103.3,454.77 108.51,453.05 113.71,451.32 118.92,449.59 124.12,447.86 129.33,446.14 134.53,444.41 139.74,442.68 144.94,440.95 150.15,439.23 155.35,437.5 160.56,401.3 165.76,401.3 170.97,401.3 176.17,401.3 181.38,401.3 186.58,401.3 191.79,401.3 196.99,401.3 202.2,389.8" fill="none" stroke="#c090ff" stroke-width="0.6" stroke-linejoin="round"/>
<circle cx="202.2" cy="389.8" r="2.5" fill="#8000ff"/>
<circle cx="207.41" cy="383.7" r="2.5" fill="#8000ff"/>
<circle cx="212.61" cy="378.8" r="2.5" fill="#8000ff"/>
<circle cx="217.81" cy="378.8" r="2.5" fill="#8000ff"/>
<circle cx="223.02" cy="378.8" r="2.5" fill="#8000ff"/>
<circle cx="228.22" cy="378.8" r="2.5" fill="#8000ff"/>
<circle cx="233.43" cy="378.8" r="2.5" fill="#8000ff"/>
<circle cx="238.63" cy="378.8" r="2.5" fill="#8000ff"/>
<circle cx="243.84" cy="378.8" r="2.5" fill="#8000ff"/>
<circle cx="249.04" cy="378.8" r="2.5" fill="#8000ff"/>
<circle cx="254.25" cy="378.8" r="2.5" fill="#8000ff"/>
<circle cx="259.45" cy="378.8" r="2.5" fill="#8000ff"/>
<circle cx="264.66" cy="378.8" r="2.5" fill="#8000ff"/>
<circle cx="269.87" cy="378.8" r="2.5" fill="#8000ff"/>
<circle cx="275.07" cy="378.8" r="2.5" fill="#8000ff"/>
<circle cx="280.27" cy="378.8" r="2.5" fill="#8000ff"/>
<circle cx="285.48" cy="378.8" r="2.5" fill="#8000ff"/>
<circle cx="290.69" cy="378.8" r="2.5" fill="#8000ff"/>
<circle cx="295.89" cy="378.8" r="2.5" fill="#8000ff"/>
<circle cx="301.09" cy="378.8" r="2.5" fill="#8000ff"/>
<circle cx="306.3" cy="378.8" r="2.5" fill="#8000ff"/>
<circle cx="301.09" cy="378.8" r="2.5" fill="#8000ff"/>
<circle cx="295.89" cy="378.8" r="2.5" fill="#8000ff"/>
<circle cx="290.69" cy="378.8" r="2.5" fill="#8000ff"/>
<circle cx="285.48" cy="378.8" r="2.5" fill="#8000ff"/>
<circle cx="280.27" cy="378.8" r="2.5" fill="#8000ff"/>
<circle cx="275.07" cy="382.3" r="2.5" fill="#8000ff"/>
<circle cx="269.87" cy="382.92" r="2.5" fill="#8000ff"/>
<circle cx="264.66" cy="383.54" r="2.5" fill="#8000ff"/>
<circle cx="259.45" cy="384.16" r="2.5" fill="#8000ff"/>
<circle cx="254.25" cy="384.78" r="2.5" fill="#8000ff"/>
<circle cx="249.04" cy="385.4" r="2.5" fill="#8000ff"/>
<circle cx="243.84" cy="389.8" r="2.5" fill="#8000ff"/>
<circle cx="238.63" cy="389.8" r="2.5" fill="#8000ff"/>
<circle cx="233.43" cy="389.8" r="2.5" fill="#8000ff"/>
<circle cx="228.22" cy="389.8" r="2.5" fill="#8000ff"/>
<circle cx="223.02" cy="389.8" r="2.5" fill="#8000ff"/>
<circle cx="217.81" cy="389.8" r="2.5" fill="#8000ff"/>
<circle cx="212.61" cy="389.8" r="2.5" fill="#8000ff"/>
<circle cx="207.41" cy="389.8" r="2.5" fill="#8000ff"/>
<circle cx="202.2" cy="389.8" r="2.5" fill="#8000ff"/>
<circle cx="196.99" cy="389.8" r="2.5" fill="#8000ff"/>
<circle cx="191.79" cy="389.8" r="2.5" fill="#8000ff"/>
<circle cx="186.58" cy="389.8" r="2.5" fill="#8000ff"/>
<circle cx="181.38" cy="389.8" r="2.5" fill="#8000ff"/>
<circle cx="176.17" cy="389.8" r="2.5" fill="#8000ff"/>
<circle cx="170.97" cy="389.8" r="2.5" fill="#8000ff"/>
<circle cx="165.76" cy="395.4" r="2.5" fill="#8000ff"/>
<circle cx="160.56" cy="401.3" r="2.5" fill="#8000ff"/>
<circle cx="155.35" cy="401.3" r="2.5" fill="#8000ff"/>
<circle cx="150.15" cy="401.3" r="2.5" fill="#8000ff"/>
<circle cx="144.94" cy="401.3" r="2.5" fill="#8000ff"/>
<circle cx="139.74" cy="401.3" r="2.5" fill="#8000ff"/>
<circle cx="134.53" cy="401.3" r="2.5" fill="#8000ff"/>
<circle cx="129.33" cy="401.3" r="2.5" fill="#8000ff"/>
<circle cx="124.12" cy="401.3" r="2.5" fill="#8000ff"/>
<circle cx="118.92" cy="401.3" r="2.5" fill="#8000ff"/>
<circle cx="113.71" cy="401.3" r="2.5" fill="#8000ff"/>
<circle cx="108.51" cy="401.3" r="2.5" fill="#8000ff"/>
<circle cx="103.3" cy="455" r="2.5" fill="#8000ff"/>
<circle cx="98.1" cy="456.5" r="2.5" fill="#8000ff"/>
<circle cx="103.3" cy="454.77" r="2.5" fill="#8000ff"/>
<circle cx="108.51" cy="453.05" r="2.5" fill="#8000ff"/>
<circle cx="113.71" cy="451.32" r="2.5" fill="#8000ff"/>
<circle cx="118.92" cy="449.59" r="2.5" fill="#8000ff"/>
<circle cx="124.12" cy="447.86" r="2.5" fill="#8000ff"/>
<circle cx="129.33" cy="446.14" r="2.5" fill="#8000ff"/>
<circle cx="134.53" cy="444.41" r="2.5" fill="#8000ff"/>
<circle cx="139.74" cy="442.68" r="2.5" fill="#8000ff"/>
<circle cx="144.94" cy="440.95" r="2.5" fill="#8000ff"/>
<circle cx="150.15" cy="439.23" r="2.5" fill="#8000ff"/>
<circle cx="155.35" cy="437.5" r="2.5" fill="#8000ff"/>
<circle cx="160.56" cy="401.3" r="2.5" fill="#8000ff"/>
<circle cx="165.76" cy="401.3" r="2.5" fill="#8000ff"/>
<circle cx="170.97" cy="401.3" r="2.5" fill="#8000ff"/>
<circle cx="176.17" cy="401.3" r="2.5" fill="#8000ff"/>
<circle cx="181.38" cy="401.3" r="2.5" fill="#8000ff"/>
<circle cx="186.58" cy="401.3" r="2.5" fill="#8000ff"/>
<circle cx="191.79" cy="401.3" r="2.5" fill="#8000ff"/>
<circle cx="196.99" cy="401.3" r="2.5" fill="#8000ff"/>
<circle cx="202.2" cy="389.8" r="2.5" fill="#8000ff"/>
<polyline points="202.2,389.8 207.41,383.7 212.61,378.8 217.81,378.8 223.02,378.8 228.22,378.8 233.43,378.8 238.63,378.8 243.84,378.8 249.04,378.8 254.25,378.8 259.45,378.8 264.66,378.8 269.87,378.8 275.07,378.8 280.27,378.8 285.48,378.8 290.69,378.8 295.89,378.8 301.09,378.8 306.3,378.8 301.09,378.8 295.89,378.8 290.69,378.8 285.48,378.8 280.27,378.8 275.07,382.3 269.87,382.92 264.66,383.54 259.45,384.16 254.25,384.78 249.04,385.4 243.84,389.8 238.63,389.8 233.43,389.8 228.22,389.8 223.02,389.8 217.81,389.8 212.61,389.8 207.41,389.8 202.2,389.8 196.99,389.8 191.79,389.8 186.58,389.8 181.38,389.8 176.17,389.8 170.97,389.8 165.76,395.4 160.56,401.3 155.35,401.3 150.15,401.3 144.94,401.3 139.74,401.3 134.53,401.3 129.33,401.3 124.12,401.3 118.92,401.3 113.71,401.3 108.51,401.3 103.3,435.5 98.1,453.9 103.3,452.48 108.51,451.06 113.71,449.64 118.92,448.22 124.12,446.8 129.33,445.38 134.53,443.96 139.74,442.54 144.94,441.12 150.15,439.7 155.35,401.3 160.56,401.3 165.76,401.3 170.97,401.3 176.17,401.3 181.38,401.3 186.58,401.3 191.79,401.3 196.99,401.3 202.2,389.8" fill="none" stroke="#808080" stroke-width="0.6" stroke-linejoin="round"/>
<rect x="200.1" y="387.7" width="4.2" height="4.2" fill="#000"/>
<rect x="205.31" y="381.6" width="4.2" height="4.2" fill="#000"/>
<rect x="210.51" y="376.7" width="4.2" height="4.2" fill="#000"/>
<rect x="215.72" y="376.7" width="4.2" height="4.2" fill="#000"/>
<rect x="220.92" y="376.7" width="4.2" height="4.2" fill="#000"/>
<rect x="226.12" y="376.7" width="4.2" height="4.2" fill="#000"/>
<rect x="231.33" y="376.7" width="4.2" height="4.2" fill="#000"/>
<rect x="236.53" y="376.7" width="4.2" height="4.2" fill="#000"/>
<rect x="241.74" y="376.7" width="4.2" height="4.2" fill="#000"/>
<rect x="246.94" y="376.7" width="4.2" height="4.2" fill="#000"/>
<rect x="252.15" y="376.7" width="4.2" height="4.2" fill="#000"/>
<rect x="257.35" y="376.7" width="4.2" height="4.2" fill="#000"/>
<rect x="262.56" y="376.7" width="4.2" height="4.2" fill="#000"/>
<rect x="267.76" y="376.7" width="4.2" height="4.2" fill="#000"/>
<rect x="272.97" y="376.7" width="4.2" height="4.2" fill="#000"/>
<rect x="278.17" y="376.7" width="4.2" height="4.2" fill="#000"/>
<rect x="283.38" y="376.7" width="4.2" height="4.2" fill="#000"/>
<rect x="288.58" y="376.7" width="4.2" height="4.2" fill="#000"/>
<rect x="293.79" y="376.7" width="4.2" height="4.2" fill="#000"/>
<rect x="298.99" y="376.7" width="4.2" height="4.2" fill="#000"/>
<rect x="304.2" y="376.7" width="4.2" height="4.2" fill="#000"/>
<rect x="298.99" y="376.7" width="4.2" height="4.2" fill="#000"/>
<rect x="293.79" y="376.7" width="4.2" height="4.2" fill="#000"/>
<rect x="288.58" y="376.7" width="4.2" height="4.2" fill="#000"/>
<rect x="283.38" y="376.7" width="4.2" height="4.2" fill="#000"/>
<rect x="278.17" y="376.7" width="4.2" height="4.2" fill="#000"/>
<rect x="272.97" y="380.2" width="4.2" height="4.2" fill="#000"/>
<rect x="267.76" y="380.82" width="4.2" height="4.2" fill="#000"/>
<rect x="262.56" y="381.44" width="4.2" height="4.2" fill="#000"/>
<rect x="257.35" y="382.06" width="4.2" height="4.2" fill="#000"/>
<rect x="252.15" y="382.68" width="4.2" height="4.2" fill="#000"/>
<rect x="246.94" y="383.3" width="4.2" height="4.2" fill="#000"/>
<rect x="241.74" y="387.7" width="4.2" height="4.2" fill="#000"/>
<rect x="236.53" y="387.7" width="4.2" height="4.2" fill="#000"/>
<rect x="231.33" y="387.7" width="4.2" height="4.2" fill="#000"/>
<rect x="226.12" y="387.7" width="4.2" height="4.2" fill="#000"/>
<rect x="220.92" y="387.7" width="4.2" height="4.2" fill="#000"/>
<rect x="215.72" y="387.7" width="4.2" height="4.2" fill="#000"/>
<rect x="210.51" y="387.7" width="4.2" height="4.2" fill="#000"/>
<rect x="205.31" y="387.7" width="4.2" height="4.2" fill="#000"/>
<rect x="200.1" y="387.7" width="4.2" height="4.2" fill="#000"/>
<rect x="194.89" y="387.7" width="4.2" height="4.2" fill="#000"/>
<rect x="189.69" y="387.7" width="4.2" height="4.2" fill="#000"/>
<rect x="184.48" y="387.7" width="4.2" height="4.2" fill="#000"/>
<rect x="179.28" y="387.7" width="4.2" height="4.2" fill="#000"/>
<rect x="174.07" y="387.7" width="4.2" height="4.2" fill="#000"/>
<rect x="168.87" y="387.7" width="4.2" height="4.2" fill="#000"/>
<rect x="163.66" y="393.3" width="4.2" height="4.2" fill="#000"/>
<rect x="158.46" y="399.2" width="4.2" height="4.2" fill="#000"/>
<rect x="153.25" y="399.2" width="4.2" height="4.2" fill="#000"/>
<rect x="148.05" y="399.2" width="4.2" height="4.2" fill="#000"/>
<rect x="142.84" y="399.2" width="4.2" height="4.2" fill="#000"/>
<rect x="137.64" y="399.2" width="4.2" height="4.2" fill="#000"/>
<rect x="132.44" y="399.2" width="4.2" height="4.2" fill="#000"/>
<rect x="127.23" y="399.2" width="4.2" height="4.2" fill="#000"/>
<rect x="122.03" y="399.2" width="4.2" height="4.2" fill="#000"/>
<rect x="116.82" y="399.2" width="4.2" height="4.2" fill="#000"/>
<rect x="111.61" y="399.2" width="4.2" height="4.2" fill="#000"/>
<rect x="106.41" y="399.2" width="4.2" height="4.2" fill="#000"/>
<rect x="101.2" y="433.4" width="4.2" height="4.2" fill="#000"/>
<rect x="96" y="451.8" width="4.2" height="4.2" fill="#000"/>
<rect x="101.2" y="450.38" width="4.2" height="4.2" fill="#000"/>
<rect x="106.41" y="448.96" width="4.2" height="4.2" fill="#000"/>
<rect x="111.61" y="447.54" width="4.2" height="4.2" fill="#000"/>
<rect x="116.82" y="446.12" width="4.2" height="4.2" fill="#000"/>
<rect x="122.03" y="444.7" width="4.2" height="4.2" fill="#000"/>
<rect x="127.23" y="443.28" width="4.2" height="4.2" fill="#000"/>
<rect x="132.44" y="441.86" width="4.2" height="4.2" fill="#000"/>
<rect x="137.64" y="440.44" width="4.2" height="4.2" fill="#000"/>
<rect x="142.84" y="439.02" width="4.2" height="4.2" fill="#000"/>
<rect x="148.05" y="437.6" width="4.2" height="4.2" fill="#000"/>
<rect x="153.25" y="399.2" width="4.2" height="4.2" fill="#000"/>
<rect x="158.46" y="399.2" width="4.2" height="4.2" fill="#000"/>
<rect x="163.66" y="399.2" width="4.2" height="4.2" fill="#000"/>
<rect x="168.87" y="399.2" width="4.2" height="4.2" fill="#000"/>
<rect x="174.07" y="399.2" width="4.2" height="4.2" fill="#000"/>
<rect x="179.28" y="399.2" width="4.2" height="4.2" fill="#000"/>
<rect x="184.48" y="399.2" width="4.2" height="4.2" fill="#000"/>
<rect x="189.69" y="399.2" width="4.2" height="4.2" fill="#000"/>
<rect x="194.89" y="399.2" width="4.2" height="4.2" fill="#000"/>
<rect x="200.1" y="387.7" width="4.2" height="4.2" fill="#000"/>
<rect x="344.5" y="269.5" width="340" height="259" fill="none" stroke="#2b2b2b" stroke-width="1.1"/>
<line x1="431.2" y1="287.3" x2="431.2" y2="490.5" stroke="#222" stroke-width="1.1"/>
<line x1="430.7" y1="490" x2="672.9" y2="490" stroke="#222" stroke-width="1.1"/>
<line x1="427.2" y1="301.5" x2="431.2" y2="301.5" stroke="#222" stroke-width="1"/>
<line x1="427.2" y1="330.38" x2="431.2" y2="330.38" stroke="#222" stroke-width="1"/>
<line x1="427.2" y1="359.26" x2="431.2" y2="359.26" stroke="#222" stroke-width="1"/>
<line x1="427.2" y1="388.14" x2="431.2" y2="388.14" stroke="#222" stroke-width="1"/>
<line x1="427.2" y1="417.02" x2="431.2" y2="417.02" stroke="#222" stroke-width="1"/>
<line x1="427.2" y1="445.9" x2="431.2" y2="445.9" stroke="#222" stroke-width="1"/>
<line x1="427.2" y1="474.78" x2="431.2" y2="474.78" stroke="#222" stroke-width="1"/>
<line x1="429" y1="287.1" x2="431.2" y2="287.1" stroke="#222" stroke-width="1"/>
<line x1="429" y1="315.98" x2="431.2" y2="315.98" stroke="#222" stroke-width="1"/>
<line x1="429" y1="344.86" x2="431.2" y2="344.86" stroke="#222" stroke-width="1"/>
<line x1="429" y1="373.74" x2="431.2" y2="373.74" stroke="#222" stroke-width="1"/>
<line x1="429" y1="402.62" x2="431.2" y2="402.62" stroke="#222" stroke-width="1"/>
<line x1="429" y1="431.5" x2="431.2" y2="431.5" stroke="#222" stroke-width="1"/>
<line x1="429" y1="460.38" x2="431.2" y2="460.38" stroke="#222" stroke-width="1"/>
<line x1="431.2" y1="490" x2="431.2" y2="493.8" stroke="#222" stroke-width="1"/>
<line x1="451.33" y1="490" x2="451.33" y2="493.8" stroke="#222" stroke-width="1"/>
<line x1="471.46" y1="490" x2="471.46" y2="493.8" stroke="#222" stroke-width="1"/>
<line x1="491.59" y1="490" x2="491.59" y2="493.8" stroke="#222" stroke-width="1"/>
<line x1="511.72" y1="490" x2="511.72" y2="493.8" stroke="#222" stroke-width="1"/>
<line x1="531.85" y1="490" x2="531.85" y2="493.8" stroke="#222" stroke-width="1"/>
<line x1="551.98" y1="490" x2="551.98" y2="493.8" stroke="#222" stroke-width="1"/>
<line x1="572.11" y1="490" x2="572.11" y2="493.8" stroke="#222" stroke-width="1"/>
<line x1="592.24" y1="490" x2="592.24" y2="493.8" stroke="#222" stroke-width="1"/>
<line x1="612.37" y1="490" x2="612.37" y2="493.8" stroke="#222" stroke-width="1"/>
<line x1="632.5" y1="490" x2="632.5" y2="493.8" stroke="#222" stroke-width="1"/>
<line x1="652.63" y1="490" x2="652.63" y2="493.8" stroke="#222" stroke-width="1"/>
<line x1="672.76" y1="490" x2="672.76" y2="493.8" stroke="#222" stroke-width="1"/>
<text x="382.98" y="304.7" font-size="11.1" textLength="41.62" lengthAdjust="spacingAndGlyphs">0.000022</text>
<text x="382.98" y="333.58" font-size="11.1" textLength="41.62" lengthAdjust="spacingAndGlyphs">0.000020</text>
<text x="382.98" y="362.46" font-size="11.1" textLength="41.62" lengthAdjust="spacingAndGlyphs">0.000018</text>
<text x="382.98" y="391.34" font-size="11.1" textLength="41.62" lengthAdjust="spacingAndGlyphs">0.000016</text>
<text x="382.98" y="420.22" font-size="11.1" textLength="41.62" lengthAdjust="spacingAndGlyphs">0.000014</text>
<text x="382.98" y="449.1" font-size="11.1" textLength="41.62" lengthAdjust="spacingAndGlyphs">0.000012</text>
<text x="382.98" y="477.98" font-size="11.1" textLength="41.62" lengthAdjust="spacingAndGlyphs">0.000010</text>
<text x="448.5" y="505.8" font-size="11.3" textLength="5.59" lengthAdjust="spacingAndGlyphs">0</text>
<text x="480.31" y="505.8" font-size="11.3" textLength="22.37" lengthAdjust="spacingAndGlyphs">2000</text>
<text x="520.51" y="505.8" font-size="11.3" textLength="22.37" lengthAdjust="spacingAndGlyphs">4000</text>
<text x="560.71" y="505.8" font-size="11.3" textLength="22.37" lengthAdjust="spacingAndGlyphs">6000</text>
<text x="600.91" y="505.8" font-size="11.3" textLength="22.37" lengthAdjust="spacingAndGlyphs">8000</text>
<text x="638.32" y="505.8" font-size="11.3" textLength="27.97" lengthAdjust="spacingAndGlyphs">10000</text>
<text x="534.5" y="522.8" font-size="11.6" textLength="14.82" lengthAdjust="spacingAndGlyphs">Hg</text>
<text x="549.4" y="516.6" font-size="7.6" textLength="7.72" lengthAdjust="spacingAndGlyphs">2+</text>
<text x="558.1" y="522.8" font-size="11.6" textLength="27.08" lengthAdjust="spacingAndGlyphs">(ppb)</text>
<text transform="translate(376.4,379.5) rotate(-90)" x="-45.55" y="0" font-size="12.7" textLength="91.1" lengthAdjust="spacingAndGlyphs">Negative current</text>
<text x="362" y="305.9" font-size="27" textLength="13.81" lengthAdjust="spacingAndGlyphs">d</text>
<line x1="453.3" y1="433.6" x2="652.3" y2="293.9" stroke="#111" stroke-width="1.1"/>
<line x1="451.3" y1="406.2" x2="451.3" y2="420.6" stroke="#222" stroke-width="0.9"/>
<line x1="449.2" y1="406.2" x2="453.4" y2="406.2" stroke="#222" stroke-width="0.9"/>
<line x1="449.2" y1="420.6" x2="453.4" y2="420.6" stroke="#222" stroke-width="0.9"/>
<rect x="449.5" y="411.6" width="3.6" height="3.6" fill="#000"/>
<line x1="453.31" y1="429.3" x2="453.31" y2="443.7" stroke="#222" stroke-width="0.9"/>
<line x1="451.21" y1="429.3" x2="455.41" y2="429.3" stroke="#222" stroke-width="0.9"/>
<line x1="451.21" y1="443.7" x2="455.41" y2="443.7" stroke="#222" stroke-width="0.9"/>
<rect x="451.51" y="434.7" width="3.6" height="3.6" fill="#000"/>
<line x1="451.3" y1="457.6" x2="451.3" y2="472" stroke="#222" stroke-width="0.9"/>
<line x1="449.2" y1="457.6" x2="453.4" y2="457.6" stroke="#222" stroke-width="0.9"/>
<line x1="449.2" y1="472" x2="453.4" y2="472" stroke="#222" stroke-width="0.9"/>
<rect x="449.5" y="463" width="3.6" height="3.6" fill="#000"/>
<line x1="471.4" y1="424.1" x2="471.4" y2="438.5" stroke="#222" stroke-width="0.9"/>
<line x1="469.3" y1="424.1" x2="473.5" y2="424.1" stroke="#222" stroke-width="0.9"/>
<line x1="469.3" y1="438.5" x2="473.5" y2="438.5" stroke="#222" stroke-width="0.9"/>
<rect x="469.6" y="429.5" width="3.6" height="3.6" fill="#000"/>
<line x1="491.5" y1="389.6" x2="491.5" y2="404" stroke="#222" stroke-width="0.9"/>
<line x1="489.4" y1="389.6" x2="493.6" y2="389.6" stroke="#222" stroke-width="0.9"/>
<line x1="489.4" y1="404" x2="493.6" y2="404" stroke="#222" stroke-width="0.9"/>
<rect x="489.7" y="395" width="3.6" height="3.6" fill="#000"/>
<line x1="511.6" y1="380.7" x2="511.6" y2="395.1" stroke="#222" stroke-width="0.9"/>
<line x1="509.5" y1="380.7" x2="513.7" y2="380.7" stroke="#222" stroke-width="0.9"/>
<line x1="509.5" y1="395.1" x2="513.7" y2="395.1" stroke="#222" stroke-width="0.9"/>
<rect x="509.8" y="386.1" width="3.6" height="3.6" fill="#000"/>
<line x1="531.7" y1="381.6" x2="531.7" y2="396" stroke="#222" stroke-width="0.9"/>
<line x1="529.6" y1="381.6" x2="533.8" y2="381.6" stroke="#222" stroke-width="0.9"/>
<line x1="529.6" y1="396" x2="533.8" y2="396" stroke="#222" stroke-width="0.9"/>
<rect x="529.9" y="387" width="3.6" height="3.6" fill="#000"/>
<line x1="551.8" y1="332.7" x2="551.8" y2="347.1" stroke="#222" stroke-width="0.9"/>
<line x1="549.7" y1="332.7" x2="553.9" y2="332.7" stroke="#222" stroke-width="0.9"/>
<line x1="549.7" y1="347.1" x2="553.9" y2="347.1" stroke="#222" stroke-width="0.9"/>
<rect x="550" y="338.1" width="3.6" height="3.6" fill="#000"/>
<line x1="571.9" y1="325.5" x2="571.9" y2="339.9" stroke="#222" stroke-width="0.9"/>
<line x1="569.8" y1="325.5" x2="574" y2="325.5" stroke="#222" stroke-width="0.9"/>
<line x1="569.8" y1="339.9" x2="574" y2="339.9" stroke="#222" stroke-width="0.9"/>
<rect x="570.1" y="330.9" width="3.6" height="3.6" fill="#000"/>
<line x1="592" y1="346.3" x2="592" y2="360.7" stroke="#222" stroke-width="0.9"/>
<line x1="589.9" y1="346.3" x2="594.1" y2="346.3" stroke="#222" stroke-width="0.9"/>
<line x1="589.9" y1="360.7" x2="594.1" y2="360.7" stroke="#222" stroke-width="0.9"/>
<rect x="590.2" y="351.7" width="3.6" height="3.6" fill="#000"/>
<line x1="612.1" y1="305" x2="612.1" y2="319.4" stroke="#222" stroke-width="0.9"/>
<line x1="610" y1="305" x2="614.2" y2="305" stroke="#222" stroke-width="0.9"/>
<line x1="610" y1="319.4" x2="614.2" y2="319.4" stroke="#222" stroke-width="0.9"/>
<rect x="610.3" y="310.4" width="3.6" height="3.6" fill="#000"/>
<line x1="632.2" y1="307.8" x2="632.2" y2="322.2" stroke="#222" stroke-width="0.9"/>
<line x1="630.1" y1="307.8" x2="634.3" y2="307.8" stroke="#222" stroke-width="0.9"/>
<line x1="630.1" y1="322.2" x2="634.3" y2="322.2" stroke="#222" stroke-width="0.9"/>
<rect x="630.4" y="313.2" width="3.6" height="3.6" fill="#000"/>
<line x1="652.3" y1="295" x2="652.3" y2="309.4" stroke="#222" stroke-width="0.9"/>
<line x1="650.2" y1="295" x2="654.4" y2="295" stroke="#222" stroke-width="0.9"/>
<line x1="650.2" y1="309.4" x2="654.4" y2="309.4" stroke="#222" stroke-width="0.9"/>
<rect x="650.5" y="300.4" width="3.6" height="3.6" fill="#000"/>
<text x="542.4" y="413.1" font-size="11.4" textLength="62.55" lengthAdjust="spacingAndGlyphs">y = 9.82697E</text>
<text x="604.9" y="405.8" font-size="6.3" textLength="8.4" lengthAdjust="spacingAndGlyphs">-10</text>
<text x="614.2" y="413.1" font-size="11.4" textLength="62.55" lengthAdjust="spacingAndGlyphs">x + 1.27607E</text>
<text x="677" y="406" font-size="6.6" textLength="5.5" lengthAdjust="spacingAndGlyphs">-5</text>
<text x="542.4" y="429.4" font-size="11.4" textLength="60.9" lengthAdjust="spacingAndGlyphs">R² = 0.89916</text>
</svg>
</body></html>
